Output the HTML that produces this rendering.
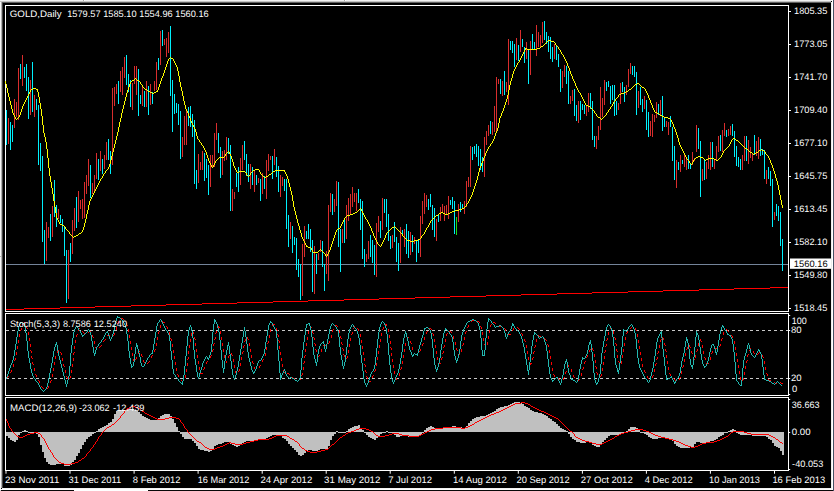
<!DOCTYPE html>
<html><head><meta charset="utf-8"><title>GOLD,Daily</title>
<style>html,body{margin:0;padding:0;background:#000;overflow:hidden}svg{display:block}text{text-rendering:geometricPrecision}</style>
</head><body>
<svg width="834" height="491" viewBox="0 0 834 491">
<rect width="834" height="491" fill="#000"/>
<g shape-rendering="crispEdges">
<rect x="0" y="2" width="1" height="488" fill="#f8f8f8"/>
<rect x="1" y="2" width="1" height="486" fill="#b0b0b0"/>
<rect x="2" y="3" width="1" height="485" fill="#444444"/>
<rect x="831" y="2" width="1" height="487" fill="#ececec"/>
<rect x="832" y="0" width="1" height="490" fill="#ffffff"/>
<rect x="833" y="0" width="1" height="491" fill="#465064"/>
<rect x="2" y="488" width="830" height="1" fill="#f2f2f2"/>
<rect x="0" y="489" width="833" height="1" fill="#ffffff"/>
<rect x="1" y="490" width="832" height="1" fill="#080808"/>
<rect x="0" y="490" width="1" height="1" fill="#d8d8d8"/>
<rect x="74" y="490" width="74" height="1" fill="#ffffff"/>
<rect x="0" y="0" width="832" height="1" fill="#f1f1f1"/>
<rect x="0" y="1" width="831" height="1" fill="#c2c2c2"/>
<rect x="2" y="2" width="829" height="1" fill="#606060"/>
<rect x="0" y="256" width="1" height="1" fill="#b4b4b4"/>
<rect x="83" y="0" width="1" height="1" fill="#a8a8a8"/>
<rect x="84" y="0" width="1" height="1" fill="#ffffff"/>
<rect x="344" y="0" width="1" height="1" fill="#a8a8a8"/>
<rect x="345" y="0" width="1" height="1" fill="#ffffff"/>
</g>
<g>
<rect x="5" y="5" width="1" height="307" fill="#fff"/>
<rect x="788" y="5" width="1" height="307" fill="#fff"/>
<rect x="5" y="5" width="784" height="1" fill="#fff"/>
<rect x="5" y="311" width="784" height="1" fill="#fff"/>
<rect x="5" y="313" width="1" height="83" fill="#fff"/>
<rect x="788" y="313" width="1" height="83" fill="#fff"/>
<rect x="5" y="313" width="784" height="1" fill="#fff"/>
<rect x="5" y="395" width="784" height="1" fill="#fff"/>
<rect x="5" y="397" width="1" height="74" fill="#fff"/>
<rect x="788" y="397" width="1" height="74" fill="#fff"/>
<rect x="5" y="397" width="784" height="1" fill="#fff"/>
<rect x="5" y="470" width="784" height="1" fill="#fff"/>
</g>
<g shape-rendering="crispEdges" fill="#ff0000">
<rect x="6" y="308.9" width="18" height="1.2"/>
<rect x="24" y="307.9" width="36" height="1.2"/>
<rect x="60" y="306.9" width="35" height="1.2"/>
<rect x="95" y="305.9" width="36" height="1.2"/>
<rect x="131" y="304.9" width="35" height="1.2"/>
<rect x="166" y="303.9" width="36" height="1.2"/>
<rect x="202" y="302.9" width="35" height="1.2"/>
<rect x="237" y="301.9" width="36" height="1.2"/>
<rect x="273" y="300.9" width="35" height="1.2"/>
<rect x="308" y="299.9" width="36" height="1.2"/>
<rect x="344" y="298.9" width="35" height="1.2"/>
<rect x="379" y="297.9" width="36" height="1.2"/>
<rect x="415" y="296.9" width="35" height="1.2"/>
<rect x="450" y="295.9" width="36" height="1.2"/>
<rect x="486" y="294.9" width="35" height="1.2"/>
<rect x="521" y="293.9" width="36" height="1.2"/>
<rect x="557" y="292.9" width="35" height="1.2"/>
<rect x="592" y="291.9" width="36" height="1.2"/>
<rect x="628" y="290.9" width="35" height="1.2"/>
<rect x="663" y="289.9" width="36" height="1.2"/>
<rect x="699" y="288.9" width="35" height="1.2"/>
<rect x="734" y="287.9" width="36" height="1.2"/>
<rect x="770" y="286.9" width="18" height="1.2"/>
</g>
<rect x="6" y="264" width="782" height="1" fill="#74849a" shape-rendering="crispEdges"/>
<g shape-rendering="crispEdges">
<rect x="6" y="110" width="1" height="35" fill="#00f0fc"/>
<rect x="8" y="118" width="1" height="26" fill="#d92d2d"/>
<rect x="10" y="122" width="1" height="28" fill="#00f0fc"/>
<rect x="12" y="125" width="1" height="17" fill="#00f0fc"/>
<rect x="14" y="99" width="1" height="29" fill="#d92d2d"/>
<rect x="16" y="102" width="1" height="15" fill="#d92d2d"/>
<rect x="18" y="68" width="1" height="52" fill="#d92d2d"/>
<rect x="20" y="64" width="1" height="15" fill="#00f0fc"/>
<rect x="22" y="55" width="1" height="31" fill="#d92d2d"/>
<rect x="24" y="67" width="1" height="11" fill="#00f0fc"/>
<rect x="26" y="64" width="1" height="27" fill="#00f0fc"/>
<rect x="28" y="77" width="1" height="42" fill="#00f0fc"/>
<rect x="30" y="80" width="1" height="35" fill="#d92d2d"/>
<rect x="32" y="62" width="1" height="50" fill="#00f0fc"/>
<rect x="34" y="95" width="1" height="22" fill="#d92d2d"/>
<rect x="36" y="99" width="1" height="11" fill="#00f0fc"/>
<rect x="38" y="105" width="1" height="60" fill="#00f0fc"/>
<rect x="40" y="143" width="1" height="28" fill="#00f0fc"/>
<rect x="42" y="156" width="1" height="86" fill="#00f0fc"/>
<rect x="44" y="230" width="1" height="34" fill="#00f0fc"/>
<rect x="46" y="222" width="1" height="39" fill="#d92d2d"/>
<rect x="48" y="227" width="1" height="11" fill="#d92d2d"/>
<rect x="50" y="214" width="1" height="27" fill="#00f0fc"/>
<rect x="52" y="206" width="1" height="31" fill="#d92d2d"/>
<rect x="54" y="180" width="1" height="37" fill="#00f0fc"/>
<rect x="56" y="205" width="1" height="22" fill="#00f0fc"/>
<rect x="58" y="209" width="1" height="10" fill="#d92d2d"/>
<rect x="60" y="215" width="1" height="8" fill="#00f0fc"/>
<rect x="62" y="219" width="1" height="13" fill="#00f0fc"/>
<rect x="64" y="226" width="1" height="30" fill="#00f0fc"/>
<rect x="66" y="250" width="1" height="53" fill="#00f0fc"/>
<rect x="68" y="250" width="1" height="49" fill="#d92d2d"/>
<rect x="70" y="243" width="1" height="19" fill="#00f0fc"/>
<rect x="72" y="220" width="1" height="34" fill="#d92d2d"/>
<rect x="74" y="208" width="1" height="23" fill="#d92d2d"/>
<rect x="76" y="197" width="1" height="31" fill="#00f0fc"/>
<rect x="78" y="191" width="1" height="31" fill="#d92d2d"/>
<rect x="80" y="200" width="1" height="9" fill="#d92d2d"/>
<rect x="82" y="199" width="1" height="20" fill="#d92d2d"/>
<rect x="84" y="182" width="1" height="36" fill="#d92d2d"/>
<rect x="86" y="175" width="1" height="19" fill="#d92d2d"/>
<rect x="88" y="159" width="1" height="27" fill="#d92d2d"/>
<rect x="90" y="165" width="1" height="33" fill="#00f0fc"/>
<rect x="92" y="183" width="1" height="11" fill="#d92d2d"/>
<rect x="94" y="175" width="1" height="17" fill="#d92d2d"/>
<rect x="96" y="153" width="1" height="26" fill="#d92d2d"/>
<rect x="98" y="159" width="1" height="21" fill="#00f0fc"/>
<rect x="100" y="151" width="1" height="20" fill="#d92d2d"/>
<rect x="102" y="159" width="1" height="15" fill="#00f0fc"/>
<rect x="104" y="155" width="1" height="14" fill="#d92d2d"/>
<rect x="106" y="142" width="1" height="18" fill="#d92d2d"/>
<rect x="108" y="139" width="1" height="21" fill="#00f0fc"/>
<rect x="110" y="151" width="1" height="23" fill="#00f0fc"/>
<rect x="112" y="88" width="1" height="77" fill="#d92d2d"/>
<rect x="114" y="87" width="1" height="19" fill="#d92d2d"/>
<rect x="116" y="84" width="1" height="10" fill="#d92d2d"/>
<rect x="118" y="81" width="1" height="23" fill="#00f0fc"/>
<rect x="120" y="71" width="1" height="21" fill="#d92d2d"/>
<rect x="122" y="67" width="1" height="28" fill="#d92d2d"/>
<rect x="124" y="57" width="1" height="21" fill="#d92d2d"/>
<rect x="126" y="55" width="1" height="30" fill="#00f0fc"/>
<rect x="128" y="74" width="1" height="18" fill="#00f0fc"/>
<rect x="130" y="80" width="1" height="27" fill="#00f0fc"/>
<rect x="132" y="83" width="1" height="27" fill="#d92d2d"/>
<rect x="134" y="66" width="1" height="18" fill="#d92d2d"/>
<rect x="136" y="66" width="1" height="29" fill="#d92d2d"/>
<rect x="138" y="69" width="1" height="47" fill="#00f0fc"/>
<rect x="140" y="95" width="1" height="9" fill="#00f0fc"/>
<rect x="142" y="87" width="1" height="19" fill="#d92d2d"/>
<rect x="144" y="91" width="1" height="16" fill="#00f0fc"/>
<rect x="146" y="81" width="1" height="26" fill="#d92d2d"/>
<rect x="148" y="86" width="1" height="29" fill="#00f0fc"/>
<rect x="150" y="84" width="1" height="21" fill="#d92d2d"/>
<rect x="152" y="92" width="1" height="12" fill="#00f0fc"/>
<rect x="154" y="81" width="1" height="10" fill="#d92d2d"/>
<rect x="156" y="62" width="1" height="28" fill="#d92d2d"/>
<rect x="158" y="58" width="1" height="12" fill="#00f0fc"/>
<rect x="160" y="31" width="1" height="34" fill="#d92d2d"/>
<rect x="162" y="30" width="1" height="16" fill="#00f0fc"/>
<rect x="164" y="39" width="1" height="6" fill="#d92d2d"/>
<rect x="166" y="38" width="1" height="19" fill="#d92d2d"/>
<rect x="168" y="32" width="1" height="21" fill="#d92d2d"/>
<rect x="170" y="26" width="1" height="70" fill="#00f0fc"/>
<rect x="172" y="80" width="1" height="52" fill="#00f0fc"/>
<rect x="174" y="94" width="1" height="20" fill="#00f0fc"/>
<rect x="176" y="103" width="1" height="10" fill="#00f0fc"/>
<rect x="178" y="104" width="1" height="21" fill="#00f0fc"/>
<rect x="180" y="111" width="1" height="48" fill="#00f0fc"/>
<rect x="182" y="137" width="1" height="20" fill="#d92d2d"/>
<rect x="184" y="116" width="1" height="29" fill="#d92d2d"/>
<rect x="186" y="110" width="1" height="35" fill="#d92d2d"/>
<rect x="188" y="107" width="1" height="19" fill="#00f0fc"/>
<rect x="190" y="106" width="1" height="21" fill="#00f0fc"/>
<rect x="192" y="114" width="1" height="23" fill="#00f0fc"/>
<rect x="194" y="120" width="1" height="64" fill="#00f0fc"/>
<rect x="196" y="170" width="1" height="19" fill="#00f0fc"/>
<rect x="198" y="154" width="1" height="29" fill="#d92d2d"/>
<rect x="200" y="162" width="1" height="8" fill="#d92d2d"/>
<rect x="202" y="151" width="1" height="19" fill="#d92d2d"/>
<rect x="204" y="153" width="1" height="28" fill="#00f0fc"/>
<rect x="206" y="159" width="1" height="19" fill="#00f0fc"/>
<rect x="208" y="165" width="1" height="30" fill="#00f0fc"/>
<rect x="210" y="155" width="1" height="32" fill="#d92d2d"/>
<rect x="212" y="155" width="1" height="12" fill="#d92d2d"/>
<rect x="214" y="133" width="1" height="34" fill="#d92d2d"/>
<rect x="216" y="123" width="1" height="17" fill="#d92d2d"/>
<rect x="218" y="133" width="1" height="20" fill="#00f0fc"/>
<rect x="220" y="147" width="1" height="31" fill="#00f0fc"/>
<rect x="222" y="151" width="1" height="24" fill="#d92d2d"/>
<rect x="224" y="150" width="1" height="11" fill="#d92d2d"/>
<rect x="226" y="137" width="1" height="23" fill="#d92d2d"/>
<rect x="228" y="138" width="1" height="16" fill="#00f0fc"/>
<rect x="230" y="145" width="1" height="66" fill="#00f0fc"/>
<rect x="232" y="189" width="1" height="22" fill="#d92d2d"/>
<rect x="234" y="192" width="1" height="7" fill="#d92d2d"/>
<rect x="236" y="173" width="1" height="14" fill="#00f0fc"/>
<rect x="238" y="167" width="1" height="25" fill="#00f0fc"/>
<rect x="240" y="158" width="1" height="27" fill="#d92d2d"/>
<rect x="242" y="145" width="1" height="25" fill="#d92d2d"/>
<rect x="244" y="141" width="1" height="19" fill="#00f0fc"/>
<rect x="246" y="154" width="1" height="22" fill="#00f0fc"/>
<rect x="248" y="164" width="1" height="18" fill="#00f0fc"/>
<rect x="250" y="164" width="1" height="25" fill="#d92d2d"/>
<rect x="252" y="167" width="1" height="18" fill="#00f0fc"/>
<rect x="254" y="170" width="1" height="22" fill="#d92d2d"/>
<rect x="256" y="175" width="1" height="10" fill="#00f0fc"/>
<rect x="258" y="178" width="1" height="5" fill="#d92d2d"/>
<rect x="260" y="179" width="1" height="22" fill="#00f0fc"/>
<rect x="262" y="173" width="1" height="21" fill="#d92d2d"/>
<rect x="264" y="176" width="1" height="13" fill="#00f0fc"/>
<rect x="266" y="160" width="1" height="39" fill="#d92d2d"/>
<rect x="268" y="154" width="1" height="17" fill="#d92d2d"/>
<rect x="270" y="156" width="1" height="4" fill="#d92d2d"/>
<rect x="272" y="156" width="1" height="23" fill="#00f0fc"/>
<rect x="274" y="149" width="1" height="16" fill="#d92d2d"/>
<rect x="276" y="157" width="1" height="20" fill="#00f0fc"/>
<rect x="278" y="166" width="1" height="26" fill="#00f0fc"/>
<rect x="280" y="175" width="1" height="22" fill="#d92d2d"/>
<rect x="282" y="177" width="1" height="9" fill="#d92d2d"/>
<rect x="284" y="179" width="1" height="12" fill="#00f0fc"/>
<rect x="286" y="179" width="1" height="50" fill="#00f0fc"/>
<rect x="288" y="215" width="1" height="32" fill="#00f0fc"/>
<rect x="290" y="222" width="1" height="17" fill="#d92d2d"/>
<rect x="292" y="226" width="1" height="27" fill="#00f0fc"/>
<rect x="294" y="237" width="1" height="8" fill="#00f0fc"/>
<rect x="296" y="238" width="1" height="32" fill="#00f0fc"/>
<rect x="298" y="259" width="1" height="18" fill="#00f0fc"/>
<rect x="300" y="264" width="1" height="36" fill="#00f0fc"/>
<rect x="302" y="244" width="1" height="52" fill="#d92d2d"/>
<rect x="304" y="226" width="1" height="31" fill="#d92d2d"/>
<rect x="306" y="231" width="1" height="8" fill="#00f0fc"/>
<rect x="308" y="224" width="1" height="15" fill="#00f0fc"/>
<rect x="310" y="229" width="1" height="23" fill="#00f0fc"/>
<rect x="312" y="240" width="1" height="52" fill="#00f0fc"/>
<rect x="314" y="246" width="1" height="48" fill="#d92d2d"/>
<rect x="316" y="254" width="1" height="20" fill="#00f0fc"/>
<rect x="318" y="253" width="1" height="7" fill="#d92d2d"/>
<rect x="320" y="240" width="1" height="12" fill="#d92d2d"/>
<rect x="322" y="241" width="1" height="26" fill="#00f0fc"/>
<rect x="324" y="264" width="1" height="27" fill="#00f0fc"/>
<rect x="326" y="251" width="1" height="23" fill="#d92d2d"/>
<rect x="328" y="205" width="1" height="76" fill="#d92d2d"/>
<rect x="330" y="193" width="1" height="19" fill="#d92d2d"/>
<rect x="332" y="194" width="1" height="21" fill="#00f0fc"/>
<rect x="334" y="199" width="1" height="13" fill="#d92d2d"/>
<rect x="336" y="181" width="1" height="25" fill="#d92d2d"/>
<rect x="338" y="182" width="1" height="65" fill="#00f0fc"/>
<rect x="340" y="229" width="1" height="43" fill="#00f0fc"/>
<rect x="342" y="229" width="1" height="14" fill="#d92d2d"/>
<rect x="344" y="219" width="1" height="24" fill="#00f0fc"/>
<rect x="346" y="205" width="1" height="34" fill="#d92d2d"/>
<rect x="348" y="198" width="1" height="23" fill="#d92d2d"/>
<rect x="350" y="194" width="1" height="20" fill="#d92d2d"/>
<rect x="352" y="187" width="1" height="20" fill="#d92d2d"/>
<rect x="354" y="193" width="1" height="9" fill="#d92d2d"/>
<rect x="356" y="193" width="1" height="18" fill="#d92d2d"/>
<rect x="358" y="189" width="1" height="14" fill="#00f0fc"/>
<rect x="360" y="199" width="1" height="31" fill="#00f0fc"/>
<rect x="362" y="201" width="1" height="58" fill="#00f0fc"/>
<rect x="364" y="249" width="1" height="18" fill="#00f0fc"/>
<rect x="366" y="254" width="1" height="8" fill="#d92d2d"/>
<rect x="368" y="241" width="1" height="18" fill="#d92d2d"/>
<rect x="370" y="235" width="1" height="22" fill="#00f0fc"/>
<rect x="372" y="240" width="1" height="23" fill="#00f0fc"/>
<rect x="374" y="245" width="1" height="30" fill="#00f0fc"/>
<rect x="376" y="223" width="1" height="54" fill="#d92d2d"/>
<rect x="378" y="216" width="1" height="16" fill="#d92d2d"/>
<rect x="380" y="221" width="1" height="17" fill="#00f0fc"/>
<rect x="382" y="198" width="1" height="32" fill="#d92d2d"/>
<rect x="384" y="199" width="1" height="14" fill="#00f0fc"/>
<rect x="386" y="199" width="1" height="28" fill="#00f0fc"/>
<rect x="388" y="214" width="1" height="27" fill="#00f0fc"/>
<rect x="390" y="236" width="1" height="13" fill="#00f0fc"/>
<rect x="392" y="235" width="1" height="13" fill="#d92d2d"/>
<rect x="394" y="222" width="1" height="20" fill="#00f0fc"/>
<rect x="396" y="237" width="1" height="25" fill="#00f0fc"/>
<rect x="398" y="243" width="1" height="28" fill="#00f0fc"/>
<rect x="400" y="227" width="1" height="36" fill="#d92d2d"/>
<rect x="402" y="230" width="1" height="5" fill="#00f0fc"/>
<rect x="404" y="229" width="1" height="18" fill="#d92d2d"/>
<rect x="406" y="224" width="1" height="30" fill="#00f0fc"/>
<rect x="408" y="231" width="1" height="27" fill="#00f0fc"/>
<rect x="410" y="232" width="1" height="23" fill="#d92d2d"/>
<rect x="412" y="235" width="1" height="17" fill="#00f0fc"/>
<rect x="414" y="237" width="1" height="7" fill="#d92d2d"/>
<rect x="416" y="241" width="1" height="21" fill="#00f0fc"/>
<rect x="418" y="239" width="1" height="14" fill="#00f0fc"/>
<rect x="420" y="216" width="1" height="41" fill="#d92d2d"/>
<rect x="422" y="201" width="1" height="23" fill="#d92d2d"/>
<rect x="424" y="193" width="1" height="21" fill="#d92d2d"/>
<rect x="426" y="195" width="1" height="12" fill="#d92d2d"/>
<rect x="428" y="199" width="1" height="11" fill="#00f0fc"/>
<rect x="430" y="194" width="1" height="13" fill="#00f0fc"/>
<rect x="432" y="205" width="1" height="25" fill="#00f0fc"/>
<rect x="434" y="208" width="1" height="29" fill="#00f0fc"/>
<rect x="436" y="219" width="1" height="22" fill="#d92d2d"/>
<rect x="438" y="215" width="1" height="7" fill="#00f0fc"/>
<rect x="440" y="207" width="1" height="14" fill="#d92d2d"/>
<rect x="442" y="204" width="1" height="8" fill="#d92d2d"/>
<rect x="444" y="206" width="1" height="15" fill="#d92d2d"/>
<rect x="446" y="205" width="1" height="9" fill="#d92d2d"/>
<rect x="448" y="196" width="1" height="23" fill="#d92d2d"/>
<rect x="450" y="200" width="1" height="5" fill="#00f0fc"/>
<rect x="452" y="197" width="1" height="12" fill="#00f0fc"/>
<rect x="454" y="201" width="1" height="33" fill="#00f0fc"/>
<rect x="456" y="217" width="1" height="18" fill="#18e018"/>
<rect x="458" y="204" width="1" height="18" fill="#d92d2d"/>
<rect x="460" y="202" width="1" height="10" fill="#00f0fc"/>
<rect x="462" y="204" width="1" height="5" fill="#00f0fc"/>
<rect x="464" y="201" width="1" height="13" fill="#d92d2d"/>
<rect x="466" y="181" width="1" height="26" fill="#d92d2d"/>
<rect x="468" y="177" width="1" height="10" fill="#d92d2d"/>
<rect x="470" y="146" width="1" height="41" fill="#d92d2d"/>
<rect x="472" y="147" width="1" height="13" fill="#00f0fc"/>
<rect x="474" y="146" width="1" height="8" fill="#00f0fc"/>
<rect x="476" y="144" width="1" height="13" fill="#00f0fc"/>
<rect x="478" y="146" width="1" height="20" fill="#00f0fc"/>
<rect x="480" y="149" width="1" height="21" fill="#00f0fc"/>
<rect x="482" y="157" width="1" height="15" fill="#00f0fc"/>
<rect x="484" y="137" width="1" height="40" fill="#d92d2d"/>
<rect x="486" y="131" width="1" height="14" fill="#d92d2d"/>
<rect x="488" y="125" width="1" height="11" fill="#d92d2d"/>
<rect x="490" y="121" width="1" height="13" fill="#00f0fc"/>
<rect x="492" y="122" width="1" height="13" fill="#d92d2d"/>
<rect x="494" y="106" width="1" height="26" fill="#d92d2d"/>
<rect x="496" y="77" width="1" height="55" fill="#d92d2d"/>
<rect x="498" y="79" width="1" height="5" fill="#d92d2d"/>
<rect x="500" y="79" width="1" height="15" fill="#00f0fc"/>
<rect x="502" y="81" width="1" height="15" fill="#d92d2d"/>
<rect x="504" y="71" width="1" height="24" fill="#00f0fc"/>
<rect x="506" y="82" width="1" height="10" fill="#d92d2d"/>
<rect x="508" y="39" width="1" height="66" fill="#d92d2d"/>
<rect x="510" y="41" width="1" height="9" fill="#00f0fc"/>
<rect x="512" y="41" width="1" height="12" fill="#00f0fc"/>
<rect x="514" y="44" width="1" height="23" fill="#00f0fc"/>
<rect x="516" y="38" width="1" height="22" fill="#d92d2d"/>
<rect x="518" y="45" width="1" height="16" fill="#00f0fc"/>
<rect x="520" y="30" width="1" height="22" fill="#d92d2d"/>
<rect x="522" y="39" width="1" height="8" fill="#00f0fc"/>
<rect x="524" y="47" width="1" height="16" fill="#00f0fc"/>
<rect x="526" y="42" width="1" height="17" fill="#d92d2d"/>
<rect x="528" y="49" width="1" height="35" fill="#00f0fc"/>
<rect x="530" y="41" width="1" height="34" fill="#d92d2d"/>
<rect x="532" y="34" width="1" height="15" fill="#00f0fc"/>
<rect x="534" y="42" width="1" height="8" fill="#00f0fc"/>
<rect x="536" y="25" width="1" height="31" fill="#d92d2d"/>
<rect x="538" y="32" width="1" height="15" fill="#d92d2d"/>
<rect x="540" y="35" width="1" height="12" fill="#d92d2d"/>
<rect x="542" y="22" width="1" height="21" fill="#d92d2d"/>
<rect x="544" y="21" width="1" height="19" fill="#00f0fc"/>
<rect x="546" y="32" width="1" height="12" fill="#00f0fc"/>
<rect x="548" y="36" width="1" height="16" fill="#00f0fc"/>
<rect x="550" y="37" width="1" height="22" fill="#00f0fc"/>
<rect x="552" y="47" width="1" height="15" fill="#00f0fc"/>
<rect x="554" y="44" width="1" height="15" fill="#d92d2d"/>
<rect x="556" y="45" width="1" height="15" fill="#00f0fc"/>
<rect x="558" y="54" width="1" height="13" fill="#00f0fc"/>
<rect x="560" y="69" width="1" height="23" fill="#00f0fc"/>
<rect x="562" y="71" width="1" height="17" fill="#d92d2d"/>
<rect x="564" y="65" width="1" height="12" fill="#d92d2d"/>
<rect x="566" y="66" width="1" height="18" fill="#00f0fc"/>
<rect x="568" y="71" width="1" height="33" fill="#00f0fc"/>
<rect x="570" y="96" width="1" height="8" fill="#d92d2d"/>
<rect x="572" y="90" width="1" height="11" fill="#d92d2d"/>
<rect x="574" y="89" width="1" height="27" fill="#00f0fc"/>
<rect x="576" y="105" width="1" height="16" fill="#00f0fc"/>
<rect x="578" y="101" width="1" height="22" fill="#d92d2d"/>
<rect x="580" y="101" width="1" height="19" fill="#00f0fc"/>
<rect x="582" y="104" width="1" height="6" fill="#00f0fc"/>
<rect x="584" y="105" width="1" height="9" fill="#00f0fc"/>
<rect x="586" y="106" width="1" height="10" fill="#d92d2d"/>
<rect x="588" y="93" width="1" height="19" fill="#d92d2d"/>
<rect x="590" y="93" width="1" height="16" fill="#00f0fc"/>
<rect x="592" y="101" width="1" height="39" fill="#00f0fc"/>
<rect x="594" y="136" width="1" height="11" fill="#00f0fc"/>
<rect x="596" y="136" width="1" height="13" fill="#d92d2d"/>
<rect x="598" y="126" width="1" height="14" fill="#d92d2d"/>
<rect x="600" y="87" width="1" height="43" fill="#d92d2d"/>
<rect x="602" y="98" width="1" height="19" fill="#d92d2d"/>
<rect x="604" y="80" width="1" height="25" fill="#d92d2d"/>
<rect x="606" y="82" width="1" height="9" fill="#00f0fc"/>
<rect x="608" y="81" width="1" height="6" fill="#00f0fc"/>
<rect x="610" y="86" width="1" height="18" fill="#00f0fc"/>
<rect x="612" y="85" width="1" height="15" fill="#00f0fc"/>
<rect x="614" y="85" width="1" height="31" fill="#00f0fc"/>
<rect x="616" y="101" width="1" height="14" fill="#00f0fc"/>
<rect x="618" y="103" width="1" height="7" fill="#d92d2d"/>
<rect x="620" y="83" width="1" height="21" fill="#d92d2d"/>
<rect x="622" y="82" width="1" height="10" fill="#00f0fc"/>
<rect x="624" y="87" width="1" height="15" fill="#00f0fc"/>
<rect x="626" y="85" width="1" height="10" fill="#d92d2d"/>
<rect x="628" y="69" width="1" height="18" fill="#d92d2d"/>
<rect x="630" y="63" width="1" height="11" fill="#d92d2d"/>
<rect x="632" y="66" width="1" height="9" fill="#00f0fc"/>
<rect x="634" y="66" width="1" height="11" fill="#00f0fc"/>
<rect x="636" y="72" width="1" height="43" fill="#00f0fc"/>
<rect x="638" y="91" width="1" height="17" fill="#d92d2d"/>
<rect x="640" y="87" width="1" height="18" fill="#00f0fc"/>
<rect x="642" y="99" width="1" height="13" fill="#00f0fc"/>
<rect x="644" y="96" width="1" height="13" fill="#d92d2d"/>
<rect x="646" y="100" width="1" height="30" fill="#00f0fc"/>
<rect x="648" y="112" width="1" height="25" fill="#00f0fc"/>
<rect x="650" y="121" width="1" height="15" fill="#d92d2d"/>
<rect x="652" y="114" width="1" height="23" fill="#d92d2d"/>
<rect x="654" y="115" width="1" height="7" fill="#d92d2d"/>
<rect x="656" y="102" width="1" height="16" fill="#d92d2d"/>
<rect x="658" y="104" width="1" height="11" fill="#00f0fc"/>
<rect x="660" y="100" width="1" height="16" fill="#d92d2d"/>
<rect x="662" y="96" width="1" height="35" fill="#00f0fc"/>
<rect x="664" y="118" width="1" height="9" fill="#00f0fc"/>
<rect x="666" y="121" width="1" height="6" fill="#d92d2d"/>
<rect x="668" y="122" width="1" height="13" fill="#d92d2d"/>
<rect x="670" y="116" width="1" height="11" fill="#00f0fc"/>
<rect x="672" y="127" width="1" height="34" fill="#00f0fc"/>
<rect x="674" y="146" width="1" height="34" fill="#00f0fc"/>
<rect x="676" y="160" width="1" height="28" fill="#d92d2d"/>
<rect x="678" y="162" width="1" height="8" fill="#00f0fc"/>
<rect x="680" y="155" width="1" height="17" fill="#d92d2d"/>
<rect x="682" y="160" width="1" height="4" fill="#00f0fc"/>
<rect x="684" y="153" width="1" height="14" fill="#d92d2d"/>
<rect x="686" y="157" width="1" height="13" fill="#d92d2d"/>
<rect x="688" y="155" width="1" height="14" fill="#00f0fc"/>
<rect x="690" y="164" width="1" height="5" fill="#00f0fc"/>
<rect x="692" y="152" width="1" height="13" fill="#d92d2d"/>
<rect x="694" y="158" width="1" height="3" fill="#d92d2d"/>
<rect x="696" y="125" width="1" height="27" fill="#d92d2d"/>
<rect x="698" y="128" width="1" height="21" fill="#00f0fc"/>
<rect x="700" y="141" width="1" height="56" fill="#00f0fc"/>
<rect x="702" y="169" width="1" height="12" fill="#d92d2d"/>
<rect x="704" y="160" width="1" height="20" fill="#00f0fc"/>
<rect x="706" y="162" width="1" height="17" fill="#d92d2d"/>
<rect x="708" y="155" width="1" height="14" fill="#d92d2d"/>
<rect x="710" y="142" width="1" height="28" fill="#d92d2d"/>
<rect x="712" y="142" width="1" height="25" fill="#00f0fc"/>
<rect x="714" y="160" width="1" height="9" fill="#d92d2d"/>
<rect x="716" y="146" width="1" height="14" fill="#d92d2d"/>
<rect x="718" y="136" width="1" height="16" fill="#d92d2d"/>
<rect x="720" y="135" width="1" height="16" fill="#00f0fc"/>
<rect x="722" y="130" width="1" height="22" fill="#d92d2d"/>
<rect x="724" y="123" width="1" height="13" fill="#d92d2d"/>
<rect x="726" y="130" width="1" height="7" fill="#00f0fc"/>
<rect x="728" y="129" width="1" height="7" fill="#d92d2d"/>
<rect x="730" y="126" width="1" height="9" fill="#d92d2d"/>
<rect x="732" y="124" width="1" height="12" fill="#00f0fc"/>
<rect x="734" y="131" width="1" height="26" fill="#00f0fc"/>
<rect x="736" y="146" width="1" height="20" fill="#00f0fc"/>
<rect x="738" y="157" width="1" height="10" fill="#00f0fc"/>
<rect x="740" y="159" width="1" height="11" fill="#00f0fc"/>
<rect x="742" y="155" width="1" height="15" fill="#d92d2d"/>
<rect x="744" y="136" width="1" height="25" fill="#d92d2d"/>
<rect x="746" y="136" width="1" height="25" fill="#00f0fc"/>
<rect x="748" y="140" width="1" height="24" fill="#d92d2d"/>
<rect x="750" y="147" width="1" height="11" fill="#d92d2d"/>
<rect x="752" y="153" width="1" height="8" fill="#d92d2d"/>
<rect x="754" y="135" width="1" height="20" fill="#00f0fc"/>
<rect x="756" y="141" width="1" height="15" fill="#d92d2d"/>
<rect x="758" y="137" width="1" height="22" fill="#d92d2d"/>
<rect x="760" y="139" width="1" height="17" fill="#00f0fc"/>
<rect x="762" y="149" width="1" height="6" fill="#00f0fc"/>
<rect x="764" y="150" width="1" height="29" fill="#00f0fc"/>
<rect x="766" y="170" width="1" height="14" fill="#d92d2d"/>
<rect x="768" y="167" width="1" height="12" fill="#00f0fc"/>
<rect x="770" y="171" width="1" height="15" fill="#00f0fc"/>
<rect x="772" y="179" width="1" height="48" fill="#00f0fc"/>
<rect x="774" y="212" width="1" height="8" fill="#d92d2d"/>
<rect x="776" y="204" width="1" height="12" fill="#00f0fc"/>
<rect x="778" y="206" width="1" height="15" fill="#00f0fc"/>
<rect x="780" y="212" width="1" height="34" fill="#00f0fc"/>
<rect x="782" y="239" width="1" height="32" fill="#00f0fc"/>
</g>
<path d="M548 40h3v1h-3zM547 41h1v1h-1zM551 41h3v1h-3zM546 42h1v1h-1zM554 42h1v1h-1zM545 43h1v1h-1zM555 43h1v1h-1zM544 44h1v1h-1zM555 44h1v1h-1zM543 45h1v1h-1zM556 45h1v1h-1zM541 46h2v1h-2zM557 46h1v1h-1zM540 47h1v1h-1zM558 47h1v1h-1zM525 48h2v1h-2zM537 48h3v1h-3zM558 48h1v1h-1zM525 49h1v1h-1zM527 49h10v1h-10zM559 49h1v1h-1zM524 50h1v1h-1zM560 50h1v1h-1zM524 51h1v1h-1zM560 51h1v1h-1zM523 52h1v1h-1zM561 52h1v1h-1zM523 53h1v1h-1zM561 53h1v1h-1zM522 54h1v1h-1zM562 54h1v1h-1zM522 55h1v1h-1zM563 55h1v1h-1zM521 56h1v1h-1zM563 56h1v1h-1zM170 57h1v1h-1zM521 57h1v1h-1zM564 57h1v1h-1zM169 58h1v1h-1zM171 58h2v1h-2zM520 58h1v1h-1zM564 58h1v1h-1zM168 59h1v1h-1zM173 59h1v1h-1zM520 59h1v1h-1zM565 59h1v1h-1zM168 60h1v1h-1zM173 60h1v1h-1zM519 60h1v1h-1zM565 60h1v1h-1zM167 61h1v1h-1zM174 61h1v1h-1zM519 61h1v1h-1zM566 61h1v1h-1zM167 62h1v1h-1zM174 62h1v1h-1zM518 62h1v1h-1zM566 62h1v1h-1zM167 63h1v1h-1zM175 63h1v1h-1zM517 63h1v1h-1zM567 63h1v1h-1zM166 64h1v1h-1zM175 64h1v1h-1zM517 64h1v1h-1zM567 64h1v1h-1zM166 65h1v1h-1zM176 65h1v1h-1zM516 65h1v1h-1zM567 65h1v1h-1zM166 66h1v1h-1zM176 66h1v1h-1zM516 66h1v1h-1zM568 66h1v1h-1zM165 67h1v1h-1zM177 67h1v1h-1zM515 67h1v1h-1zM568 67h1v1h-1zM165 68h1v1h-1zM177 68h1v1h-1zM515 68h1v1h-1zM569 68h1v1h-1zM165 69h1v1h-1zM177 69h1v1h-1zM514 69h1v1h-1zM569 69h1v1h-1zM164 70h1v1h-1zM177 70h1v1h-1zM514 70h1v1h-1zM569 70h1v1h-1zM164 71h1v1h-1zM178 71h1v1h-1zM513 71h1v1h-1zM570 71h1v1h-1zM164 72h1v1h-1zM178 72h1v1h-1zM513 72h1v1h-1zM570 72h1v1h-1zM163 73h1v1h-1zM178 73h1v1h-1zM513 73h1v1h-1zM570 73h1v1h-1zM163 74h1v1h-1zM178 74h1v1h-1zM512 74h1v1h-1zM571 74h1v1h-1zM163 75h1v1h-1zM178 75h1v1h-1zM512 75h1v1h-1zM571 75h1v1h-1zM162 76h1v1h-1zM179 76h1v1h-1zM512 76h1v1h-1zM572 76h1v1h-1zM162 77h1v1h-1zM179 77h1v1h-1zM512 77h1v1h-1zM572 77h1v1h-1zM135 78h1v1h-1zM161 78h1v1h-1zM179 78h1v1h-1zM511 78h1v1h-1zM572 78h1v1h-1zM134 79h1v1h-1zM136 79h1v1h-1zM161 79h1v1h-1zM179 79h1v1h-1zM511 79h1v1h-1zM573 79h1v1h-1zM132 80h2v1h-2zM137 80h2v1h-2zM161 80h1v1h-1zM179 80h1v1h-1zM511 80h1v1h-1zM573 80h1v1h-1zM5 81h1v1h-1zM131 81h1v1h-1zM139 81h1v1h-1zM160 81h1v1h-1zM179 81h1v1h-1zM510 81h1v1h-1zM574 81h1v1h-1zM5 82h1v1h-1zM130 82h1v1h-1zM140 82h1v1h-1zM160 82h1v1h-1zM180 82h1v1h-1zM510 82h1v1h-1zM574 82h1v1h-1zM5 83h1v1h-1zM130 83h1v1h-1zM140 83h1v1h-1zM160 83h1v1h-1zM180 83h1v1h-1zM510 83h1v1h-1zM575 83h1v1h-1zM637 83h2v1h-2zM6 84h1v1h-1zM129 84h1v1h-1zM141 84h1v1h-1zM159 84h1v1h-1zM180 84h1v1h-1zM510 84h1v1h-1zM575 84h1v1h-1zM635 84h2v1h-2zM639 84h1v1h-1zM6 85h1v1h-1zM129 85h1v1h-1zM142 85h1v1h-1zM159 85h1v1h-1zM180 85h1v1h-1zM509 85h1v1h-1zM575 85h1v1h-1zM634 85h1v1h-1zM640 85h1v1h-1zM6 86h1v1h-1zM129 86h1v1h-1zM142 86h1v1h-1zM159 86h1v1h-1zM180 86h1v1h-1zM509 86h1v1h-1zM576 86h1v1h-1zM633 86h1v1h-1zM641 86h1v1h-1zM6 87h1v1h-1zM128 87h1v1h-1zM143 87h1v1h-1zM158 87h1v1h-1zM181 87h1v1h-1zM509 87h1v1h-1zM576 87h1v1h-1zM632 87h1v1h-1zM642 87h2v1h-2zM7 88h1v1h-1zM33 88h3v1h-3zM128 88h1v1h-1zM144 88h1v1h-1zM158 88h1v1h-1zM181 88h1v1h-1zM509 88h1v1h-1zM577 88h1v1h-1zM631 88h1v1h-1zM644 88h1v1h-1zM7 89h1v1h-1zM31 89h2v1h-2zM36 89h2v1h-2zM128 89h1v1h-1zM145 89h2v1h-2zM158 89h1v1h-1zM181 89h1v1h-1zM509 89h1v1h-1zM577 89h1v1h-1zM629 89h2v1h-2zM645 89h1v1h-1zM7 90h1v1h-1zM30 90h1v1h-1zM37 90h1v1h-1zM127 90h1v1h-1zM147 90h1v1h-1zM157 90h1v1h-1zM181 90h1v1h-1zM508 90h1v1h-1zM578 90h1v1h-1zM628 90h1v1h-1zM645 90h1v1h-1zM7 91h1v1h-1zM30 91h1v1h-1zM37 91h1v1h-1zM127 91h1v1h-1zM148 91h2v1h-2zM156 91h2v1h-2zM182 91h1v1h-1zM508 91h1v1h-1zM578 91h1v1h-1zM626 91h2v1h-2zM646 91h1v1h-1zM7 92h1v1h-1zM29 92h1v1h-1zM38 92h1v1h-1zM127 92h1v1h-1zM150 92h2v1h-2zM154 92h2v1h-2zM182 92h1v1h-1zM508 92h1v1h-1zM579 92h1v1h-1zM624 92h2v1h-2zM646 92h1v1h-1zM8 93h1v1h-1zM29 93h1v1h-1zM38 93h1v1h-1zM126 93h1v1h-1zM152 93h2v1h-2zM182 93h1v1h-1zM508 93h1v1h-1zM580 93h1v1h-1zM621 93h3v1h-3zM647 93h1v1h-1zM8 94h1v1h-1zM28 94h1v1h-1zM38 94h1v1h-1zM126 94h1v1h-1zM182 94h1v1h-1zM508 94h1v1h-1zM580 94h1v1h-1zM619 94h2v1h-2zM647 94h1v1h-1zM8 95h1v1h-1zM28 95h1v1h-1zM38 95h1v1h-1zM126 95h1v1h-1zM182 95h1v1h-1zM507 95h1v1h-1zM581 95h1v1h-1zM618 95h1v1h-1zM648 95h1v1h-1zM8 96h1v1h-1zM27 96h1v1h-1zM38 96h1v1h-1zM126 96h1v1h-1zM183 96h1v1h-1zM507 96h1v1h-1zM581 96h1v1h-1zM618 96h1v1h-1zM648 96h1v1h-1zM9 97h1v1h-1zM27 97h1v1h-1zM39 97h1v1h-1zM125 97h1v1h-1zM183 97h1v1h-1zM507 97h1v1h-1zM582 97h1v1h-1zM617 97h1v1h-1zM648 97h1v1h-1zM9 98h1v1h-1zM26 98h1v1h-1zM39 98h1v1h-1zM125 98h1v1h-1zM183 98h1v1h-1zM507 98h1v1h-1zM582 98h1v1h-1zM616 98h1v1h-1zM649 98h1v1h-1zM9 99h1v1h-1zM26 99h1v1h-1zM39 99h1v1h-1zM125 99h1v1h-1zM183 99h1v1h-1zM506 99h1v1h-1zM583 99h1v1h-1zM615 99h1v1h-1zM649 99h1v1h-1zM9 100h1v1h-1zM25 100h1v1h-1zM39 100h1v1h-1zM125 100h1v1h-1zM183 100h1v1h-1zM506 100h1v1h-1zM583 100h1v1h-1zM615 100h1v1h-1zM650 100h1v1h-1zM10 101h1v1h-1zM25 101h1v1h-1zM39 101h1v1h-1zM124 101h1v1h-1zM184 101h1v1h-1zM506 101h1v1h-1zM584 101h1v1h-1zM614 101h1v1h-1zM650 101h1v1h-1zM10 102h1v1h-1zM24 102h1v1h-1zM39 102h1v1h-1zM124 102h1v1h-1zM184 102h1v1h-1zM505 102h1v1h-1zM584 102h1v1h-1zM613 102h1v1h-1zM650 102h1v1h-1zM10 103h1v1h-1zM24 103h1v1h-1zM40 103h1v1h-1zM124 103h1v1h-1zM184 103h1v1h-1zM505 103h1v1h-1zM585 103h1v1h-1zM613 103h1v1h-1zM651 103h1v1h-1zM10 104h1v1h-1zM23 104h1v1h-1zM40 104h1v1h-1zM124 104h1v1h-1zM184 104h1v1h-1zM505 104h1v1h-1zM585 104h1v1h-1zM612 104h1v1h-1zM651 104h1v1h-1zM11 105h1v1h-1zM23 105h1v1h-1zM40 105h1v1h-1zM123 105h1v1h-1zM185 105h1v1h-1zM504 105h1v1h-1zM586 105h2v1h-2zM612 105h1v1h-1zM652 105h1v1h-1zM11 106h1v1h-1zM22 106h1v1h-1zM40 106h1v1h-1zM123 106h1v1h-1zM185 106h1v1h-1zM504 106h1v1h-1zM588 106h2v1h-2zM611 106h1v1h-1zM652 106h1v1h-1zM11 107h1v1h-1zM22 107h1v1h-1zM40 107h1v1h-1zM123 107h1v1h-1zM185 107h1v1h-1zM504 107h1v1h-1zM590 107h1v1h-1zM610 107h1v1h-1zM652 107h1v1h-1zM11 108h1v1h-1zM22 108h1v1h-1zM40 108h1v1h-1zM123 108h1v1h-1zM185 108h1v1h-1zM503 108h1v1h-1zM591 108h1v1h-1zM610 108h1v1h-1zM653 108h1v1h-1zM12 109h1v1h-1zM21 109h1v1h-1zM41 109h1v1h-1zM122 109h1v1h-1zM186 109h1v1h-1zM503 109h1v1h-1zM592 109h1v1h-1zM609 109h1v1h-1zM653 109h1v1h-1zM12 110h1v1h-1zM21 110h1v1h-1zM41 110h1v1h-1zM122 110h1v1h-1zM186 110h1v1h-1zM503 110h1v1h-1zM593 110h1v1h-1zM608 110h1v1h-1zM654 110h1v1h-1zM12 111h1v1h-1zM21 111h1v1h-1zM41 111h1v1h-1zM122 111h1v1h-1zM187 111h1v1h-1zM502 111h1v1h-1zM594 111h1v1h-1zM608 111h1v1h-1zM654 111h1v1h-1zM12 112h1v1h-1zM20 112h1v1h-1zM41 112h1v1h-1zM122 112h1v1h-1zM187 112h1v1h-1zM502 112h1v1h-1zM594 112h1v1h-1zM607 112h1v1h-1zM655 112h2v1h-2zM13 113h1v1h-1zM20 113h1v1h-1zM41 113h1v1h-1zM121 113h1v1h-1zM188 113h1v1h-1zM501 113h1v1h-1zM595 113h1v1h-1zM606 113h1v1h-1zM657 113h2v1h-2zM13 114h1v1h-1zM20 114h1v1h-1zM41 114h1v1h-1zM121 114h1v1h-1zM188 114h1v1h-1zM501 114h1v1h-1zM596 114h1v1h-1zM606 114h1v1h-1zM659 114h1v1h-1zM14 115h1v1h-1zM19 115h1v1h-1zM41 115h1v1h-1zM121 115h1v1h-1zM188 115h1v1h-1zM501 115h1v1h-1zM596 115h1v1h-1zM605 115h1v1h-1zM660 115h2v1h-2zM14 116h1v1h-1zM19 116h1v1h-1zM42 116h1v1h-1zM121 116h1v1h-1zM189 116h1v1h-1zM500 116h1v1h-1zM597 116h1v1h-1zM604 116h1v1h-1zM662 116h2v1h-2zM15 117h1v1h-1zM18 117h1v1h-1zM42 117h1v1h-1zM121 117h1v1h-1zM189 117h1v1h-1zM500 117h1v1h-1zM598 117h2v1h-2zM603 117h1v1h-1zM664 117h4v1h-4zM15 118h1v1h-1zM17 118h1v1h-1zM42 118h1v1h-1zM120 118h1v1h-1zM190 118h1v1h-1zM499 118h1v1h-1zM600 118h1v1h-1zM602 118h1v1h-1zM668 118h2v1h-2zM16 119h1v1h-1zM42 119h1v1h-1zM120 119h1v1h-1zM190 119h1v1h-1zM499 119h1v1h-1zM601 119h1v1h-1zM670 119h1v1h-1zM42 120h1v1h-1zM120 120h1v1h-1zM190 120h1v1h-1zM499 120h1v1h-1zM671 120h1v1h-1zM42 121h1v1h-1zM120 121h1v1h-1zM191 121h1v1h-1zM499 121h1v1h-1zM671 121h1v1h-1zM42 122h1v1h-1zM119 122h1v1h-1zM191 122h1v1h-1zM499 122h1v1h-1zM672 122h1v1h-1zM42 123h1v1h-1zM119 123h1v1h-1zM192 123h1v1h-1zM498 123h1v1h-1zM672 123h1v1h-1zM42 124h1v1h-1zM119 124h1v1h-1zM192 124h1v1h-1zM498 124h1v1h-1zM673 124h1v1h-1zM43 125h1v1h-1zM119 125h1v1h-1zM193 125h1v1h-1zM498 125h1v1h-1zM673 125h1v1h-1zM43 126h1v1h-1zM119 126h1v1h-1zM193 126h1v1h-1zM498 126h1v1h-1zM673 126h1v1h-1zM43 127h1v1h-1zM118 127h1v1h-1zM194 127h1v1h-1zM498 127h1v1h-1zM674 127h1v1h-1zM43 128h1v1h-1zM118 128h1v1h-1zM194 128h1v1h-1zM497 128h1v1h-1zM674 128h1v1h-1zM43 129h1v1h-1zM118 129h1v1h-1zM195 129h1v1h-1zM497 129h1v1h-1zM675 129h1v1h-1zM43 130h1v1h-1zM118 130h1v1h-1zM195 130h1v1h-1zM497 130h1v1h-1zM675 130h1v1h-1zM43 131h1v1h-1zM118 131h1v1h-1zM195 131h1v1h-1zM496 131h1v1h-1zM675 131h1v1h-1zM43 132h1v1h-1zM117 132h1v1h-1zM196 132h1v1h-1zM496 132h1v1h-1zM676 132h1v1h-1zM44 133h1v1h-1zM117 133h1v1h-1zM196 133h1v1h-1zM495 133h1v1h-1zM676 133h1v1h-1zM44 134h1v1h-1zM117 134h1v1h-1zM196 134h1v1h-1zM495 134h1v1h-1zM676 134h1v1h-1zM44 135h1v1h-1zM117 135h1v1h-1zM196 135h1v1h-1zM495 135h1v1h-1zM677 135h1v1h-1zM44 136h1v1h-1zM116 136h1v1h-1zM197 136h1v1h-1zM494 136h1v1h-1zM677 136h1v1h-1zM45 137h1v1h-1zM116 137h1v1h-1zM197 137h1v1h-1zM494 137h1v1h-1zM677 137h1v1h-1zM45 138h1v1h-1zM116 138h1v1h-1zM197 138h1v1h-1zM494 138h1v1h-1zM678 138h1v1h-1zM733 138h2v1h-2zM45 139h1v1h-1zM116 139h1v1h-1zM198 139h1v1h-1zM493 139h1v1h-1zM678 139h1v1h-1zM732 139h1v1h-1zM735 139h1v1h-1zM45 140h1v1h-1zM115 140h1v1h-1zM199 140h1v1h-1zM493 140h1v1h-1zM678 140h1v1h-1zM731 140h1v1h-1zM736 140h2v1h-2zM45 141h1v1h-1zM115 141h1v1h-1zM199 141h1v1h-1zM492 141h1v1h-1zM678 141h1v1h-1zM731 141h1v1h-1zM738 141h1v1h-1zM46 142h1v1h-1zM115 142h1v1h-1zM200 142h1v1h-1zM492 142h1v1h-1zM679 142h1v1h-1zM730 142h1v1h-1zM739 142h1v1h-1zM46 143h1v1h-1zM115 143h1v1h-1zM201 143h1v1h-1zM491 143h1v1h-1zM679 143h1v1h-1zM730 143h1v1h-1zM740 143h1v1h-1zM46 144h1v1h-1zM114 144h1v1h-1zM201 144h1v1h-1zM490 144h1v1h-1zM679 144h1v1h-1zM729 144h1v1h-1zM741 144h1v1h-1zM46 145h1v1h-1zM114 145h1v1h-1zM202 145h1v1h-1zM490 145h1v1h-1zM680 145h1v1h-1zM729 145h1v1h-1zM742 145h1v1h-1zM46 146h1v1h-1zM114 146h1v1h-1zM203 146h1v1h-1zM489 146h1v1h-1zM680 146h1v1h-1zM728 146h1v1h-1zM743 146h1v1h-1zM46 147h1v1h-1zM114 147h1v1h-1zM203 147h1v1h-1zM488 147h1v1h-1zM681 147h1v1h-1zM727 147h1v1h-1zM744 147h1v1h-1zM46 148h1v1h-1zM113 148h1v1h-1zM204 148h1v1h-1zM488 148h1v1h-1zM681 148h1v1h-1zM726 148h1v1h-1zM745 148h2v1h-2zM47 149h1v1h-1zM113 149h1v1h-1zM204 149h1v1h-1zM487 149h1v1h-1zM682 149h1v1h-1zM725 149h1v1h-1zM747 149h1v1h-1zM761 149h1v1h-1zM47 150h1v1h-1zM113 150h1v1h-1zM205 150h1v1h-1zM487 150h1v1h-1zM682 150h1v1h-1zM724 150h1v1h-1zM748 150h1v1h-1zM759 150h2v1h-2zM762 150h2v1h-2zM47 151h1v1h-1zM113 151h1v1h-1zM205 151h1v1h-1zM228 151h1v1h-1zM486 151h1v1h-1zM683 151h1v1h-1zM723 151h1v1h-1zM749 151h1v1h-1zM758 151h1v1h-1zM764 151h1v1h-1zM47 152h1v1h-1zM112 152h1v1h-1zM206 152h1v1h-1zM227 152h1v1h-1zM229 152h1v1h-1zM486 152h1v1h-1zM683 152h1v1h-1zM723 152h1v1h-1zM750 152h2v1h-2zM756 152h2v1h-2zM765 152h1v1h-1zM47 153h1v1h-1zM112 153h1v1h-1zM206 153h1v1h-1zM226 153h1v1h-1zM229 153h1v1h-1zM485 153h1v1h-1zM684 153h1v1h-1zM722 153h1v1h-1zM752 153h1v1h-1zM754 153h2v1h-2zM765 153h1v1h-1zM47 154h1v1h-1zM112 154h1v1h-1zM206 154h1v1h-1zM225 154h1v1h-1zM230 154h1v1h-1zM485 154h1v1h-1zM684 154h1v1h-1zM722 154h1v1h-1zM753 154h1v1h-1zM766 154h1v1h-1zM47 155h1v1h-1zM112 155h1v1h-1zM207 155h1v1h-1zM225 155h1v1h-1zM230 155h1v1h-1zM485 155h1v1h-1zM685 155h1v1h-1zM721 155h1v1h-1zM767 155h1v1h-1zM47 156h1v1h-1zM111 156h1v1h-1zM207 156h1v1h-1zM224 156h1v1h-1zM231 156h1v1h-1zM484 156h1v1h-1zM685 156h1v1h-1zM698 156h2v1h-2zM721 156h1v1h-1zM768 156h1v1h-1zM47 157h1v1h-1zM111 157h1v1h-1zM207 157h1v1h-1zM219 157h5v1h-5zM231 157h1v1h-1zM484 157h1v1h-1zM686 157h1v1h-1zM696 157h2v1h-2zM700 157h3v1h-3zM720 157h1v1h-1zM768 157h1v1h-1zM48 158h1v1h-1zM111 158h1v1h-1zM208 158h1v1h-1zM218 158h1v1h-1zM231 158h1v1h-1zM483 158h1v1h-1zM686 158h1v1h-1zM695 158h1v1h-1zM703 158h1v1h-1zM708 158h6v1h-6zM719 158h1v1h-1zM769 158h1v1h-1zM48 159h1v1h-1zM111 159h1v1h-1zM208 159h1v1h-1zM217 159h1v1h-1zM232 159h1v1h-1zM483 159h1v1h-1zM687 159h1v1h-1zM694 159h1v1h-1zM704 159h1v1h-1zM706 159h2v1h-2zM714 159h2v1h-2zM718 159h1v1h-1zM769 159h1v1h-1zM48 160h1v1h-1zM110 160h1v1h-1zM208 160h1v1h-1zM216 160h1v1h-1zM232 160h1v1h-1zM483 160h1v1h-1zM688 160h1v1h-1zM693 160h1v1h-1zM705 160h1v1h-1zM716 160h2v1h-2zM770 160h1v1h-1zM48 161h1v1h-1zM110 161h1v1h-1zM209 161h1v1h-1zM215 161h1v1h-1zM232 161h1v1h-1zM482 161h1v1h-1zM689 161h1v1h-1zM693 161h1v1h-1zM770 161h1v1h-1zM48 162h1v1h-1zM110 162h1v1h-1zM209 162h1v1h-1zM215 162h1v1h-1zM233 162h1v1h-1zM482 162h1v1h-1zM689 162h1v1h-1zM692 162h1v1h-1zM770 162h1v1h-1zM48 163h1v1h-1zM110 163h1v1h-1zM210 163h1v1h-1zM214 163h1v1h-1zM233 163h1v1h-1zM481 163h1v1h-1zM690 163h1v1h-1zM692 163h1v1h-1zM771 163h1v1h-1zM48 164h1v1h-1zM109 164h1v1h-1zM210 164h1v1h-1zM214 164h1v1h-1zM233 164h1v1h-1zM481 164h1v1h-1zM691 164h1v1h-1zM771 164h1v1h-1zM48 165h1v1h-1zM109 165h1v1h-1zM211 165h1v1h-1zM213 165h1v1h-1zM233 165h1v1h-1zM481 165h1v1h-1zM772 165h1v1h-1zM48 166h1v1h-1zM109 166h1v1h-1zM211 166h1v1h-1zM213 166h1v1h-1zM234 166h1v1h-1zM480 166h1v1h-1zM772 166h1v1h-1zM48 167h1v1h-1zM108 167h1v1h-1zM212 167h1v1h-1zM234 167h1v1h-1zM480 167h1v1h-1zM772 167h1v1h-1zM49 168h1v1h-1zM108 168h1v1h-1zM235 168h1v1h-1zM479 168h1v1h-1zM773 168h1v1h-1zM49 169h1v1h-1zM107 169h1v1h-1zM235 169h1v1h-1zM255 169h4v1h-4zM479 169h1v1h-1zM773 169h1v1h-1zM49 170h1v1h-1zM106 170h1v1h-1zM236 170h1v1h-1zM253 170h2v1h-2zM259 170h1v1h-1zM275 170h10v1h-10zM479 170h1v1h-1zM773 170h1v1h-1zM49 171h1v1h-1zM105 171h1v1h-1zM236 171h1v1h-1zM239 171h6v1h-6zM252 171h1v1h-1zM259 171h1v1h-1zM273 171h2v1h-2zM284 171h1v1h-1zM479 171h1v1h-1zM774 171h1v1h-1zM49 172h1v1h-1zM105 172h1v1h-1zM237 172h2v1h-2zM245 172h1v1h-1zM251 172h1v1h-1zM260 172h1v1h-1zM272 172h1v1h-1zM285 172h1v1h-1zM478 172h1v1h-1zM774 172h1v1h-1zM49 173h1v1h-1zM104 173h1v1h-1zM246 173h1v1h-1zM250 173h1v1h-1zM260 173h1v1h-1zM271 173h1v1h-1zM285 173h1v1h-1zM478 173h1v1h-1zM774 173h1v1h-1zM49 174h1v1h-1zM103 174h1v1h-1zM246 174h1v1h-1zM250 174h1v1h-1zM261 174h1v1h-1zM269 174h2v1h-2zM286 174h1v1h-1zM478 174h1v1h-1zM775 174h1v1h-1zM49 175h1v1h-1zM103 175h1v1h-1zM247 175h1v1h-1zM249 175h1v1h-1zM262 175h1v1h-1zM268 175h1v1h-1zM286 175h1v1h-1zM478 175h1v1h-1zM775 175h1v1h-1zM50 176h1v1h-1zM102 176h1v1h-1zM248 176h1v1h-1zM263 176h1v1h-1zM266 176h2v1h-2zM287 176h1v1h-1zM477 176h1v1h-1zM775 176h1v1h-1zM50 177h1v1h-1zM102 177h1v1h-1zM264 177h2v1h-2zM287 177h1v1h-1zM477 177h1v1h-1zM775 177h1v1h-1zM50 178h1v1h-1zM101 178h1v1h-1zM287 178h1v1h-1zM477 178h1v1h-1zM776 178h1v1h-1zM50 179h1v1h-1zM100 179h1v1h-1zM288 179h1v1h-1zM477 179h1v1h-1zM776 179h1v1h-1zM50 180h1v1h-1zM100 180h1v1h-1zM288 180h1v1h-1zM476 180h1v1h-1zM776 180h1v1h-1zM50 181h1v1h-1zM99 181h1v1h-1zM288 181h1v1h-1zM476 181h1v1h-1zM777 181h1v1h-1zM51 182h1v1h-1zM99 182h1v1h-1zM288 182h1v1h-1zM476 182h1v1h-1zM777 182h1v1h-1zM51 183h1v1h-1zM98 183h1v1h-1zM289 183h1v1h-1zM475 183h1v1h-1zM777 183h1v1h-1zM51 184h1v1h-1zM98 184h1v1h-1zM289 184h1v1h-1zM475 184h1v1h-1zM777 184h1v1h-1zM51 185h1v1h-1zM97 185h1v1h-1zM289 185h1v1h-1zM475 185h1v1h-1zM778 185h1v1h-1zM51 186h1v1h-1zM97 186h1v1h-1zM289 186h1v1h-1zM474 186h1v1h-1zM778 186h1v1h-1zM51 187h1v1h-1zM96 187h1v1h-1zM290 187h1v1h-1zM474 187h1v1h-1zM778 187h1v1h-1zM52 188h1v1h-1zM96 188h1v1h-1zM290 188h1v1h-1zM474 188h1v1h-1zM778 188h1v1h-1zM52 189h1v1h-1zM95 189h1v1h-1zM290 189h1v1h-1zM473 189h1v1h-1zM778 189h1v1h-1zM52 190h1v1h-1zM95 190h1v1h-1zM290 190h1v1h-1zM473 190h1v1h-1zM779 190h1v1h-1zM52 191h1v1h-1zM94 191h1v1h-1zM291 191h1v1h-1zM473 191h1v1h-1zM779 191h1v1h-1zM52 192h1v1h-1zM94 192h1v1h-1zM291 192h1v1h-1zM472 192h1v1h-1zM779 192h1v1h-1zM52 193h1v1h-1zM93 193h1v1h-1zM291 193h1v1h-1zM472 193h1v1h-1zM779 193h1v1h-1zM53 194h1v1h-1zM93 194h1v1h-1zM291 194h1v1h-1zM472 194h1v1h-1zM779 194h1v1h-1zM53 195h1v1h-1zM92 195h1v1h-1zM292 195h1v1h-1zM471 195h1v1h-1zM780 195h1v1h-1zM53 196h1v1h-1zM92 196h1v1h-1zM292 196h1v1h-1zM471 196h1v1h-1zM780 196h1v1h-1zM53 197h1v1h-1zM91 197h1v1h-1zM292 197h1v1h-1zM470 197h1v1h-1zM780 197h1v1h-1zM53 198h1v1h-1zM91 198h1v1h-1zM292 198h1v1h-1zM470 198h1v1h-1zM780 198h1v1h-1zM53 199h1v1h-1zM90 199h1v1h-1zM292 199h1v1h-1zM469 199h1v1h-1zM780 199h1v1h-1zM53 200h1v1h-1zM90 200h1v1h-1zM292 200h1v1h-1zM469 200h1v1h-1zM781 200h1v1h-1zM54 201h1v1h-1zM89 201h1v1h-1zM293 201h1v1h-1zM468 201h1v1h-1zM781 201h1v1h-1zM54 202h1v1h-1zM89 202h1v1h-1zM293 202h1v1h-1zM468 202h1v1h-1zM781 202h1v1h-1zM54 203h1v1h-1zM89 203h1v1h-1zM293 203h1v1h-1zM467 203h1v1h-1zM781 203h1v1h-1zM54 204h1v1h-1zM89 204h1v1h-1zM293 204h1v1h-1zM466 204h1v1h-1zM781 204h1v1h-1zM54 205h1v1h-1zM88 205h1v1h-1zM293 205h1v1h-1zM466 205h1v1h-1zM782 205h1v1h-1zM54 206h1v1h-1zM88 206h1v1h-1zM293 206h1v1h-1zM465 206h1v1h-1zM782 206h1v1h-1zM55 207h1v1h-1zM88 207h1v1h-1zM294 207h1v1h-1zM464 207h1v1h-1zM782 207h1v1h-1zM55 208h1v1h-1zM88 208h1v1h-1zM294 208h1v1h-1zM360 208h1v1h-1zM462 208h2v1h-2zM55 209h1v1h-1zM88 209h1v1h-1zM294 209h1v1h-1zM359 209h1v1h-1zM361 209h1v1h-1zM459 209h3v1h-3zM55 210h1v1h-1zM87 210h1v1h-1zM294 210h1v1h-1zM358 210h1v1h-1zM361 210h1v1h-1zM455 210h4v1h-4zM55 211h1v1h-1zM87 211h1v1h-1zM295 211h1v1h-1zM357 211h1v1h-1zM362 211h1v1h-1zM452 211h3v1h-3zM55 212h1v1h-1zM87 212h1v1h-1zM295 212h1v1h-1zM355 212h2v1h-2zM362 212h1v1h-1zM441 212h2v1h-2zM450 212h2v1h-2zM56 213h1v1h-1zM87 213h1v1h-1zM295 213h1v1h-1zM353 213h2v1h-2zM363 213h1v1h-1zM439 213h2v1h-2zM443 213h2v1h-2zM448 213h2v1h-2zM56 214h1v1h-1zM86 214h1v1h-1zM295 214h1v1h-1zM350 214h3v1h-3zM363 214h1v1h-1zM438 214h1v1h-1zM445 214h3v1h-3zM56 215h1v1h-1zM86 215h1v1h-1zM296 215h1v1h-1zM347 215h3v1h-3zM364 215h1v1h-1zM436 215h2v1h-2zM56 216h1v1h-1zM86 216h1v1h-1zM296 216h1v1h-1zM346 216h1v1h-1zM364 216h1v1h-1zM435 216h1v1h-1zM56 217h1v1h-1zM86 217h1v1h-1zM296 217h1v1h-1zM345 217h1v1h-1zM365 217h1v1h-1zM434 217h1v1h-1zM57 218h1v1h-1zM86 218h1v1h-1zM296 218h1v1h-1zM344 218h1v1h-1zM365 218h1v1h-1zM433 218h1v1h-1zM57 219h1v1h-1zM85 219h1v1h-1zM297 219h1v1h-1zM344 219h1v1h-1zM366 219h1v1h-1zM432 219h1v1h-1zM58 220h1v1h-1zM85 220h1v1h-1zM297 220h1v1h-1zM343 220h1v1h-1zM367 220h1v1h-1zM431 220h1v1h-1zM58 221h1v1h-1zM85 221h1v1h-1zM297 221h1v1h-1zM343 221h1v1h-1zM367 221h1v1h-1zM430 221h1v1h-1zM59 222h1v1h-1zM85 222h1v1h-1zM297 222h1v1h-1zM342 222h1v1h-1zM368 222h1v1h-1zM430 222h1v1h-1zM59 223h1v1h-1zM84 223h1v1h-1zM298 223h1v1h-1zM342 223h1v1h-1zM368 223h1v1h-1zM429 223h1v1h-1zM60 224h2v1h-2zM84 224h1v1h-1zM298 224h1v1h-1zM341 224h1v1h-1zM369 224h1v1h-1zM429 224h1v1h-1zM62 225h2v1h-2zM84 225h1v1h-1zM298 225h1v1h-1zM341 225h1v1h-1zM369 225h1v1h-1zM428 225h1v1h-1zM64 226h1v1h-1zM84 226h1v1h-1zM299 226h1v1h-1zM340 226h1v1h-1zM370 226h1v1h-1zM394 226h1v1h-1zM428 226h1v1h-1zM65 227h1v1h-1zM83 227h1v1h-1zM299 227h1v1h-1zM340 227h1v1h-1zM370 227h1v1h-1zM392 227h2v1h-2zM395 227h1v1h-1zM427 227h1v1h-1zM65 228h1v1h-1zM83 228h1v1h-1zM299 228h1v1h-1zM338 228h2v1h-2zM371 228h1v1h-1zM391 228h1v1h-1zM396 228h1v1h-1zM426 228h1v1h-1zM66 229h1v1h-1zM83 229h1v1h-1zM299 229h1v1h-1zM337 229h1v1h-1zM371 229h1v1h-1zM390 229h1v1h-1zM397 229h1v1h-1zM426 229h1v1h-1zM67 230h1v1h-1zM82 230h1v1h-1zM300 230h1v1h-1zM336 230h1v1h-1zM371 230h1v1h-1zM389 230h1v1h-1zM398 230h1v1h-1zM425 230h1v1h-1zM68 231h1v1h-1zM82 231h1v1h-1zM300 231h1v1h-1zM336 231h1v1h-1zM372 231h1v1h-1zM388 231h1v1h-1zM399 231h1v1h-1zM425 231h1v1h-1zM69 232h1v1h-1zM81 232h1v1h-1zM300 232h1v1h-1zM335 232h1v1h-1zM372 232h1v1h-1zM387 232h1v1h-1zM400 232h1v1h-1zM424 232h1v1h-1zM69 233h1v1h-1zM79 233h2v1h-2zM301 233h1v1h-1zM335 233h1v1h-1zM373 233h1v1h-1zM386 233h1v1h-1zM401 233h1v1h-1zM424 233h1v1h-1zM70 234h1v1h-1zM78 234h1v1h-1zM301 234h1v1h-1zM335 234h1v1h-1zM373 234h1v1h-1zM386 234h1v1h-1zM402 234h1v1h-1zM423 234h1v1h-1zM71 235h1v1h-1zM76 235h2v1h-2zM301 235h1v1h-1zM334 235h1v1h-1zM373 235h1v1h-1zM385 235h1v1h-1zM402 235h1v1h-1zM422 235h1v1h-1zM72 236h1v1h-1zM74 236h2v1h-2zM301 236h1v1h-1zM334 236h1v1h-1zM374 236h1v1h-1zM385 236h1v1h-1zM403 236h1v1h-1zM421 236h1v1h-1zM73 237h1v1h-1zM302 237h1v1h-1zM334 237h1v1h-1zM374 237h1v1h-1zM385 237h1v1h-1zM404 237h1v1h-1zM421 237h1v1h-1zM302 238h1v1h-1zM333 238h1v1h-1zM375 238h1v1h-1zM384 238h1v1h-1zM405 238h1v1h-1zM420 238h1v1h-1zM303 239h1v1h-1zM333 239h1v1h-1zM375 239h1v1h-1zM384 239h1v1h-1zM406 239h1v1h-1zM418 239h2v1h-2zM303 240h1v1h-1zM333 240h1v1h-1zM376 240h1v1h-1zM383 240h1v1h-1zM407 240h3v1h-3zM414 240h4v1h-4zM304 241h1v1h-1zM332 241h1v1h-1zM376 241h1v1h-1zM383 241h1v1h-1zM410 241h4v1h-4zM304 242h1v1h-1zM332 242h1v1h-1zM377 242h1v1h-1zM382 242h1v1h-1zM305 243h1v1h-1zM332 243h1v1h-1zM377 243h1v1h-1zM382 243h1v1h-1zM305 244h1v1h-1zM331 244h1v1h-1zM378 244h1v1h-1zM381 244h1v1h-1zM306 245h1v1h-1zM331 245h1v1h-1zM379 245h1v1h-1zM381 245h1v1h-1zM306 246h2v1h-2zM331 246h1v1h-1zM380 246h1v1h-1zM308 247h3v1h-3zM330 247h1v1h-1zM311 248h1v1h-1zM330 248h1v1h-1zM311 249h1v1h-1zM320 249h1v1h-1zM330 249h1v1h-1zM312 250h1v1h-1zM319 250h1v1h-1zM321 250h1v1h-1zM329 250h1v1h-1zM312 251h1v1h-1zM318 251h1v1h-1zM322 251h1v1h-1zM329 251h1v1h-1zM313 252h5v1h-5zM323 252h1v1h-1zM328 252h1v1h-1zM324 253h1v1h-1zM328 253h1v1h-1zM325 254h1v1h-1zM327 254h1v1h-1zM325 255h1v1h-1zM327 255h1v1h-1zM326 256h1v1h-1z" fill="#ffff00" shape-rendering="crispEdges"/>
<line x1="6" y1="330.5" x2="788" y2="330.5" stroke="#c8c8c8" stroke-width="1" stroke-dasharray="3,3" shape-rendering="crispEdges"/>
<line x1="6" y1="378.5" x2="788" y2="378.5" stroke="#c8c8c8" stroke-width="1" stroke-dasharray="3,3" shape-rendering="crispEdges"/>
<path d="M121 318h2v1h-2zM123 319h1v1h-1zM472 320h2v1h-2zM118 321h1v1h-1zM162 321h1v1h-1zM471 321h1v1h-1zM477 321h2v1h-2zM24 322h1v1h-1zM118 322h1v1h-1zM163 322h2v1h-2zM479 322h1v1h-1zM493 322h2v1h-2zM23 323h1v1h-1zM117 323h1v1h-1zM126 323h1v1h-1zM495 323h1v1h-1zM22 324h1v1h-1zM126 324h1v1h-1zM273 324h2v1h-2zM385 324h2v1h-2zM491 324h1v1h-1zM127 325h1v1h-1zM160 325h1v1h-1zM272 325h1v1h-1zM335 325h2v1h-2zM386 325h1v1h-1zM468 325h1v1h-1zM490 325h1v1h-1zM26 326h1v1h-1zM160 326h1v1h-1zM166 326h1v1h-1zM218 326h1v1h-1zM310 326h1v1h-1zM337 326h1v1h-1zM354 326h1v1h-1zM468 326h1v1h-1zM480 326h1v1h-1zM490 326h1v1h-1zM499 326h3v1h-3zM632 326h1v1h-1zM26 327h1v1h-1zM116 327h1v1h-1zM160 327h1v1h-1zM167 327h1v1h-1zM218 327h2v1h-2zM310 327h2v1h-2zM354 327h1v1h-1zM383 327h1v1h-1zM467 327h1v1h-1zM481 327h1v1h-1zM517 327h1v1h-1zM610 327h1v1h-1zM631 327h1v1h-1zM21 328h1v1h-1zM27 328h1v1h-1zM79 328h1v1h-1zM116 328h1v1h-1zM167 328h1v1h-1zM276 328h1v1h-1zM353 328h1v1h-1zM357 328h1v1h-1zM383 328h1v1h-1zM429 328h2v1h-2zM481 328h1v1h-1zM504 328h1v1h-1zM513 328h1v1h-1zM518 328h1v1h-1zM610 328h2v1h-2zM630 328h1v1h-1zM635 328h1v1h-1zM21 329h1v1h-1zM78 329h1v1h-1zM116 329h1v1h-1zM128 329h1v1h-1zM270 329h1v1h-1zM276 329h1v1h-1zM333 329h1v1h-1zM358 329h1v1h-1zM382 329h1v1h-1zM388 329h1v1h-1zM431 329h1v1h-1zM505 329h1v1h-1zM513 329h1v1h-1zM519 329h1v1h-1zM635 329h1v1h-1zM726 329h1v1h-1zM20 330h1v1h-1zM78 330h1v1h-1zM128 330h1v1h-1zM270 330h1v1h-1zM277 330h1v1h-1zM332 330h1v1h-1zM339 330h1v1h-1zM358 330h1v1h-1zM388 330h1v1h-1zM489 330h1v1h-1zM505 330h1v1h-1zM512 330h1v1h-1zM636 330h1v1h-1zM727 330h1v1h-1zM82 331h1v1h-1zM89 331h2v1h-2zM128 331h1v1h-1zM159 331h1v1h-1zM192 331h1v1h-1zM216 331h1v1h-1zM220 331h1v1h-1zM270 331h1v1h-1zM308 331h1v1h-1zM312 331h1v1h-1zM332 331h1v1h-1zM339 331h1v1h-1zM388 331h1v1h-1zM427 331h1v1h-1zM449 331h2v1h-2zM466 331h1v1h-1zM489 331h1v1h-1zM613 331h1v1h-1zM627 331h1v1h-1zM728 331h1v1h-1zM28 332h1v1h-1zM83 332h1v1h-1zM88 332h1v1h-1zM158 332h1v1h-1zM169 332h1v1h-1zM193 332h1v1h-1zM216 332h1v1h-1zM220 332h1v1h-1zM308 332h1v1h-1zM312 332h1v1h-1zM339 332h1v1h-1zM352 332h1v1h-1zM426 332h1v1h-1zM451 332h1v1h-1zM465 332h1v1h-1zM482 332h1v1h-1zM489 332h1v1h-1zM608 332h1v1h-1zM613 332h1v1h-1zM627 332h1v1h-1zM723 332h1v1h-1zM28 333h1v1h-1zM84 333h1v1h-1zM114 333h1v1h-1zM158 333h1v1h-1zM169 333h1v1h-1zM191 333h1v1h-1zM193 333h1v1h-1zM215 333h1v1h-1zM220 333h1v1h-1zM308 333h1v1h-1zM313 333h1v1h-1zM352 333h1v1h-1zM381 333h1v1h-1zM426 333h1v1h-1zM432 333h1v1h-1zM447 333h1v1h-1zM465 333h1v1h-1zM482 333h1v1h-1zM521 333h1v1h-1zM608 333h1v1h-1zM613 333h1v1h-1zM626 333h1v1h-1zM723 333h1v1h-1zM19 334h1v1h-1zM28 334h1v1h-1zM77 334h1v1h-1zM108 334h1v1h-1zM114 334h1v1h-1zM169 334h1v1h-1zM191 334h1v1h-1zM277 334h1v1h-1zM351 334h1v1h-1zM360 334h1v1h-1zM381 334h1v1h-1zM433 334h1v1h-1zM446 334h1v1h-1zM482 334h1v1h-1zM508 334h3v1h-3zM522 334h1v1h-1zM608 334h1v1h-1zM637 334h1v1h-1zM723 334h1v1h-1zM19 335h1v1h-1zM76 335h1v1h-1zM92 335h1v1h-1zM107 335h1v1h-1zM109 335h1v1h-1zM113 335h1v1h-1zM129 335h1v1h-1zM191 335h1v1h-1zM269 335h1v1h-1zM278 335h1v1h-1zM331 335h1v1h-1zM360 335h1v1h-1zM381 335h1v1h-1zM389 335h1v1h-1zM433 335h1v1h-1zM446 335h1v1h-1zM522 335h1v1h-1zM538 335h1v1h-1zM637 335h1v1h-1zM731 335h1v1h-1zM19 336h1v1h-1zM76 336h1v1h-1zM92 336h1v1h-1zM129 336h1v1h-1zM269 336h1v1h-1zM278 336h1v1h-1zM331 336h1v1h-1zM340 336h1v1h-1zM360 336h1v1h-1zM389 336h1v1h-1zM453 336h1v1h-1zM488 336h1v1h-1zM539 336h2v1h-2zM637 336h1v1h-1zM732 336h1v1h-1zM93 337h1v1h-1zM129 337h1v1h-1zM157 337h1v1h-1zM194 337h1v1h-1zM215 337h1v1h-1zM221 337h1v1h-1zM247 337h1v1h-1zM269 337h1v1h-1zM307 337h1v1h-1zM313 337h1v1h-1zM331 337h1v1h-1zM340 337h1v1h-1zM389 337h1v1h-1zM408 337h1v1h-1zM424 337h1v1h-1zM453 337h1v1h-1zM464 337h1v1h-1zM488 337h1v1h-1zM614 337h1v1h-1zM625 337h1v1h-1zM662 337h1v1h-1zM732 337h1v1h-1zM29 338h1v1h-1zM157 338h1v1h-1zM170 338h1v1h-1zM194 338h1v1h-1zM215 338h1v1h-1zM221 338h1v1h-1zM247 338h1v1h-1zM307 338h1v1h-1zM314 338h1v1h-1zM341 338h1v1h-1zM350 338h1v1h-1zM407 338h1v1h-1zM424 338h1v1h-1zM453 338h1v1h-1zM464 338h1v1h-1zM483 338h1v1h-1zM488 338h1v1h-1zM544 338h1v1h-1zM607 338h1v1h-1zM615 338h1v1h-1zM625 338h1v1h-1zM663 338h1v1h-1zM722 338h1v1h-1zM29 339h1v1h-1zM105 339h1v1h-1zM157 339h1v1h-1zM171 339h1v1h-1zM190 339h1v1h-1zM195 339h1v1h-1zM214 339h1v1h-1zM221 339h1v1h-1zM245 339h1v1h-1zM248 339h1v1h-1zM307 339h1v1h-1zM314 339h1v1h-1zM350 339h1v1h-1zM380 339h1v1h-1zM407 339h1v1h-1zM424 339h1v1h-1zM434 339h1v1h-1zM445 339h1v1h-1zM464 339h1v1h-1zM483 339h1v1h-1zM524 339h1v1h-1zM536 339h1v1h-1zM545 339h1v1h-1zM607 339h1v1h-1zM615 339h1v1h-1zM625 339h1v1h-1zM661 339h1v1h-1zM663 339h1v1h-1zM700 339h1v1h-1zM721 339h1v1h-1zM18 340h1v1h-1zM29 340h1v1h-1zM75 340h1v1h-1zM104 340h1v1h-1zM171 340h1v1h-1zM190 340h1v1h-1zM245 340h1v1h-1zM278 340h1v1h-1zM350 340h1v1h-1zM361 340h1v1h-1zM380 340h1v1h-1zM434 340h1v1h-1zM445 340h1v1h-1zM483 340h1v1h-1zM524 340h1v1h-1zM536 340h1v1h-1zM546 340h1v1h-1zM606 340h1v1h-1zM638 340h1v1h-1zM660 340h1v1h-1zM700 340h1v1h-1zM721 340h1v1h-1zM18 341h1v1h-1zM75 341h1v1h-1zM94 341h1v1h-1zM103 341h1v1h-1zM130 341h1v1h-1zM190 341h1v1h-1zM244 341h1v1h-1zM268 341h1v1h-1zM279 341h1v1h-1zM329 341h1v1h-1zM361 341h1v1h-1zM380 341h1v1h-1zM390 341h1v1h-1zM410 341h1v1h-1zM434 341h1v1h-1zM445 341h1v1h-1zM525 341h1v1h-1zM536 341h1v1h-1zM638 341h1v1h-1zM660 341h1v1h-1zM701 341h1v1h-1zM734 341h1v1h-1zM18 342h1v1h-1zM75 342h1v1h-1zM94 342h1v1h-1zM130 342h1v1h-1zM268 342h1v1h-1zM279 342h1v1h-1zM329 342h1v1h-1zM341 342h1v1h-1zM361 342h1v1h-1zM390 342h1v1h-1zM410 342h1v1h-1zM455 342h1v1h-1zM487 342h1v1h-1zM638 342h1v1h-1zM734 342h1v1h-1zM94 343h1v1h-1zM130 343h1v1h-1zM156 343h1v1h-1zM195 343h1v1h-1zM214 343h1v1h-1zM222 343h1v1h-1zM249 343h1v1h-1zM267 343h1v1h-1zM306 343h1v1h-1zM314 343h1v1h-1zM328 343h1v1h-1zM341 343h1v1h-1zM390 343h1v1h-1zM405 343h1v1h-1zM411 343h1v1h-1zM423 343h1v1h-1zM455 343h1v1h-1zM463 343h1v1h-1zM487 343h1v1h-1zM615 343h1v1h-1zM624 343h1v1h-1zM664 343h1v1h-1zM698 343h1v1h-1zM734 343h1v1h-1zM30 344h1v1h-1zM156 344h1v1h-1zM172 344h1v1h-1zM195 344h1v1h-1zM213 344h1v1h-1zM222 344h1v1h-1zM249 344h1v1h-1zM306 344h1v1h-1zM315 344h1v1h-1zM324 344h1v1h-1zM342 344h1v1h-1zM349 344h1v1h-1zM405 344h1v1h-1zM422 344h1v1h-1zM455 344h1v1h-1zM463 344h1v1h-1zM484 344h1v1h-1zM487 344h1v1h-1zM547 344h1v1h-1zM606 344h1v1h-1zM616 344h1v1h-1zM624 344h1v1h-1zM664 344h1v1h-1zM698 344h1v1h-1zM720 344h1v1h-1zM30 345h1v1h-1zM101 345h1v1h-1zM156 345h1v1h-1zM172 345h1v1h-1zM189 345h1v1h-1zM195 345h1v1h-1zM213 345h1v1h-1zM222 345h1v1h-1zM244 345h1v1h-1zM249 345h1v1h-1zM306 345h1v1h-1zM315 345h1v1h-1zM323 345h1v1h-1zM325 345h1v1h-1zM349 345h1v1h-1zM379 345h1v1h-1zM405 345h1v1h-1zM422 345h1v1h-1zM435 345h1v1h-1zM444 345h1v1h-1zM462 345h1v1h-1zM485 345h1v1h-1zM526 345h1v1h-1zM535 345h1v1h-1zM548 345h1v1h-1zM606 345h1v1h-1zM616 345h1v1h-1zM624 345h1v1h-1zM659 345h1v1h-1zM665 345h1v1h-1zM689 345h1v1h-1zM698 345h1v1h-1zM702 345h1v1h-1zM720 345h1v1h-1zM17 346h1v1h-1zM30 346h1v1h-1zM74 346h1v1h-1zM100 346h1v1h-1zM172 346h1v1h-1zM189 346h1v1h-1zM243 346h1v1h-1zM279 346h1v1h-1zM349 346h1v1h-1zM362 346h1v1h-1zM379 346h1v1h-1zM435 346h1v1h-1zM444 346h1v1h-1zM485 346h1v1h-1zM526 346h1v1h-1zM535 346h1v1h-1zM548 346h1v1h-1zM605 346h1v1h-1zM639 346h1v1h-1zM659 346h1v1h-1zM689 346h1v1h-1zM702 346h1v1h-1zM719 346h1v1h-1zM17 347h1v1h-1zM74 347h1v1h-1zM95 347h1v1h-1zM99 347h1v1h-1zM131 347h1v1h-1zM189 347h1v1h-1zM243 347h1v1h-1zM266 347h1v1h-1zM279 347h1v1h-1zM362 347h1v1h-1zM379 347h1v1h-1zM390 347h1v1h-1zM412 347h1v1h-1zM435 347h1v1h-1zM443 347h1v1h-1zM526 347h1v1h-1zM534 347h1v1h-1zM639 347h1v1h-1zM659 347h1v1h-1zM687 347h1v1h-1zM690 347h1v1h-1zM702 347h1v1h-1zM714 347h1v1h-1zM735 347h1v1h-1zM17 348h1v1h-1zM74 348h1v1h-1zM96 348h1v1h-1zM131 348h1v1h-1zM266 348h1v1h-1zM279 348h1v1h-1zM342 348h1v1h-1zM362 348h1v1h-1zM391 348h1v1h-1zM412 348h1v1h-1zM456 348h1v1h-1zM592 348h1v1h-1zM639 348h1v1h-1zM687 348h1v1h-1zM715 348h2v1h-2zM735 348h1v1h-1zM750 348h1v1h-1zM96 349h1v1h-1zM131 349h1v1h-1zM155 349h1v1h-1zM196 349h1v1h-1zM213 349h1v1h-1zM223 349h1v1h-1zM250 349h1v1h-1zM266 349h1v1h-1zM305 349h1v1h-1zM315 349h1v1h-1zM321 349h1v1h-1zM343 349h1v1h-1zM391 349h1v1h-1zM404 349h1v1h-1zM412 349h1v1h-1zM420 349h1v1h-1zM456 349h1v1h-1zM461 349h1v1h-1zM590 349h1v1h-1zM592 349h1v1h-1zM616 349h1v1h-1zM623 349h1v1h-1zM665 349h1v1h-1zM686 349h1v1h-1zM697 349h1v1h-1zM735 349h1v1h-1zM750 349h1v1h-1zM30 350h1v1h-1zM58 350h1v1h-1zM154 350h1v1h-1zM173 350h1v1h-1zM196 350h1v1h-1zM212 350h1v1h-1zM223 350h1v1h-1zM250 350h1v1h-1zM305 350h1v1h-1zM316 350h1v1h-1zM321 350h1v1h-1zM343 350h1v1h-1zM348 350h1v1h-1zM404 350h1v1h-1zM420 350h1v1h-1zM457 350h1v1h-1zM461 350h1v1h-1zM549 350h1v1h-1zM589 350h1v1h-1zM593 350h1v1h-1zM605 350h1v1h-1zM616 350h1v1h-1zM623 350h1v1h-1zM665 350h1v1h-1zM697 350h1v1h-1zM749 350h1v1h-1zM31 351h1v1h-1zM57 351h1v1h-1zM139 351h1v1h-1zM154 351h1v1h-1zM173 351h1v1h-1zM188 351h1v1h-1zM196 351h1v1h-1zM212 351h1v1h-1zM223 351h1v1h-1zM243 351h1v1h-1zM250 351h1v1h-1zM305 351h1v1h-1zM316 351h1v1h-1zM321 351h1v1h-1zM348 351h1v1h-1zM378 351h1v1h-1zM404 351h1v1h-1zM419 351h1v1h-1zM436 351h1v1h-1zM443 351h1v1h-1zM461 351h1v1h-1zM527 351h1v1h-1zM534 351h1v1h-1zM549 351h1v1h-1zM589 351h1v1h-1zM605 351h1v1h-1zM617 351h1v1h-1zM623 351h1v1h-1zM658 351h1v1h-1zM666 351h1v1h-1zM691 351h1v1h-1zM696 351h1v1h-1zM703 351h1v1h-1zM712 351h1v1h-1zM753 351h1v1h-1zM16 352h1v1h-1zM31 352h1v1h-1zM57 352h1v1h-1zM60 352h1v1h-1zM74 352h1v1h-1zM138 352h1v1h-1zM173 352h1v1h-1zM188 352h1v1h-1zM242 352h1v1h-1zM280 352h1v1h-1zM348 352h1v1h-1zM363 352h1v1h-1zM378 352h1v1h-1zM436 352h1v1h-1zM443 352h1v1h-1zM527 352h1v1h-1zM533 352h1v1h-1zM549 352h1v1h-1zM604 352h1v1h-1zM640 352h1v1h-1zM658 352h1v1h-1zM691 352h1v1h-1zM703 352h1v1h-1zM712 352h1v1h-1zM753 352h1v1h-1zM759 352h1v1h-1zM16 353h1v1h-1zM61 353h1v1h-1zM73 353h1v1h-1zM132 353h1v1h-1zM138 353h1v1h-1zM188 353h1v1h-1zM231 353h1v1h-1zM242 353h1v1h-1zM265 353h1v1h-1zM280 353h1v1h-1zM363 353h1v1h-1zM378 353h1v1h-1zM391 353h1v1h-1zM414 353h1v1h-1zM436 353h1v1h-1zM442 353h1v1h-1zM527 353h1v1h-1zM533 353h1v1h-1zM640 353h1v1h-1zM657 353h1v1h-1zM685 353h1v1h-1zM692 353h1v1h-1zM703 353h1v1h-1zM711 353h1v1h-1zM736 353h1v1h-1zM754 353h1v1h-1zM758 353h1v1h-1zM16 354h1v1h-1zM61 354h1v1h-1zM73 354h1v1h-1zM132 354h1v1h-1zM141 354h1v1h-1zM231 354h1v1h-1zM265 354h1v1h-1zM280 354h1v1h-1zM343 354h1v1h-1zM363 354h1v1h-1zM391 354h1v1h-1zM415 354h2v1h-2zM458 354h2v1h-2zM594 354h1v1h-1zM640 354h1v1h-1zM685 354h1v1h-1zM736 354h1v1h-1zM748 354h1v1h-1zM757 354h1v1h-1zM132 355h1v1h-1zM141 355h1v1h-1zM152 355h1v1h-1zM197 355h1v1h-1zM211 355h1v1h-1zM224 355h1v1h-1zM229 355h1v1h-1zM232 355h1v1h-1zM251 355h1v1h-1zM265 355h1v1h-1zM305 355h1v1h-1zM317 355h1v1h-1zM319 355h1v1h-1zM344 355h1v1h-1zM391 355h1v1h-1zM403 355h1v1h-1zM458 355h1v1h-1zM587 355h1v1h-1zM594 355h1v1h-1zM617 355h1v1h-1zM622 355h1v1h-1zM666 355h1v1h-1zM685 355h1v1h-1zM695 355h1v1h-1zM736 355h1v1h-1zM747 355h1v1h-1zM762 355h1v1h-1zM31 356h1v1h-1zM55 356h1v1h-1zM142 356h1v1h-1zM151 356h1v1h-1zM174 356h1v1h-1zM197 356h1v1h-1zM210 356h1v1h-1zM224 356h1v1h-1zM228 356h1v1h-1zM251 356h1v1h-1zM304 356h1v1h-1zM318 356h1v1h-1zM344 356h1v1h-1zM347 356h1v1h-1zM403 356h1v1h-1zM550 356h1v1h-1zM587 356h1v1h-1zM594 356h1v1h-1zM604 356h1v1h-1zM617 356h1v1h-1zM622 356h1v1h-1zM666 356h1v1h-1zM695 356h1v1h-1zM747 356h1v1h-1zM762 356h1v1h-1zM31 357h1v1h-1zM55 357h1v1h-1zM136 357h1v1h-1zM151 357h1v1h-1zM174 357h1v1h-1zM188 357h1v1h-1zM197 357h1v1h-1zM210 357h1v1h-1zM224 357h1v1h-1zM228 357h1v1h-1zM241 357h1v1h-1zM251 357h1v1h-1zM304 357h1v1h-1zM347 357h1v1h-1zM377 357h1v1h-1zM403 357h1v1h-1zM437 357h1v1h-1zM442 357h1v1h-1zM528 357h1v1h-1zM533 357h1v1h-1zM550 357h1v1h-1zM586 357h1v1h-1zM604 357h1v1h-1zM617 357h1v1h-1zM622 357h1v1h-1zM657 357h1v1h-1zM666 357h1v1h-1zM693 357h1v1h-1zM695 357h1v1h-1zM704 357h1v1h-1zM710 357h1v1h-1zM763 357h1v1h-1zM15 358h1v1h-1zM32 358h1v1h-1zM55 358h1v1h-1zM62 358h1v1h-1zM73 358h1v1h-1zM136 358h1v1h-1zM174 358h1v1h-1zM188 358h1v1h-1zM241 358h1v1h-1zM281 358h1v1h-1zM346 358h1v1h-1zM364 358h1v1h-1zM377 358h1v1h-1zM437 358h1v1h-1zM441 358h1v1h-1zM528 358h1v1h-1zM532 358h1v1h-1zM550 358h1v1h-1zM604 358h1v1h-1zM641 358h1v1h-1zM657 358h1v1h-1zM693 358h1v1h-1zM705 358h1v1h-1zM710 358h1v1h-1zM15 359h1v1h-1zM62 359h1v1h-1zM73 359h1v1h-1zM133 359h1v1h-1zM135 359h1v1h-1zM187 359h1v1h-1zM233 359h1v1h-1zM241 359h1v1h-1zM263 359h1v1h-1zM281 359h1v1h-1zM364 359h1v1h-1zM377 359h1v1h-1zM392 359h1v1h-1zM437 359h1v1h-1zM441 359h1v1h-1zM528 359h1v1h-1zM532 359h1v1h-1zM641 359h1v1h-1zM656 359h1v1h-1zM684 359h1v1h-1zM694 359h1v1h-1zM705 359h1v1h-1zM710 359h1v1h-1zM737 359h1v1h-1zM14 360h1v1h-1zM62 360h1v1h-1zM73 360h1v1h-1zM133 360h1v1h-1zM143 360h1v1h-1zM233 360h1v1h-1zM262 360h1v1h-1zM281 360h1v1h-1zM364 360h1v1h-1zM392 360h1v1h-1zM595 360h1v1h-1zM641 360h1v1h-1zM684 360h1v1h-1zM737 360h1v1h-1zM747 360h1v1h-1zM134 361h1v1h-1zM143 361h1v1h-1zM149 361h1v1h-1zM198 361h1v1h-1zM207 361h1v1h-1zM226 361h1v1h-1zM233 361h1v1h-1zM252 361h1v1h-1zM262 361h1v1h-1zM304 361h1v1h-1zM392 361h1v1h-1zM402 361h1v1h-1zM585 361h1v1h-1zM595 361h1v1h-1zM618 361h1v1h-1zM621 361h1v1h-1zM667 361h1v1h-1zM684 361h1v1h-1zM737 361h1v1h-1zM746 361h1v1h-1zM764 361h1v1h-1zM32 362h1v1h-1zM54 362h1v1h-1zM144 362h1v1h-1zM148 362h1v1h-1zM175 362h1v1h-1zM198 362h1v1h-1zM206 362h1v1h-1zM226 362h1v1h-1zM252 362h1v1h-1zM304 362h1v1h-1zM402 362h1v1h-1zM551 362h1v1h-1zM584 362h1v1h-1zM595 362h1v1h-1zM603 362h1v1h-1zM619 362h1v1h-1zM621 362h1v1h-1zM667 362h1v1h-1zM746 362h1v1h-1zM764 362h1v1h-1zM32 363h1v1h-1zM54 363h1v1h-1zM147 363h1v1h-1zM175 363h1v1h-1zM187 363h1v1h-1zM198 363h1v1h-1zM206 363h1v1h-1zM240 363h1v1h-1zM253 363h1v1h-1zM303 363h1v1h-1zM376 363h1v1h-1zM402 363h1v1h-1zM438 363h3v1h-3zM530 363h2v1h-2zM551 363h1v1h-1zM584 363h1v1h-1zM603 363h1v1h-1zM619 363h1v1h-1zM621 363h1v1h-1zM656 363h1v1h-1zM667 363h1v1h-1zM706 363h3v1h-3zM764 363h1v1h-1zM13 364h1v1h-1zM33 364h1v1h-1zM54 364h1v1h-1zM63 364h1v1h-1zM72 364h1v1h-1zM175 364h1v1h-1zM187 364h1v1h-1zM240 364h1v1h-1zM282 364h1v1h-1zM364 364h1v1h-1zM376 364h1v1h-1zM530 364h1v1h-1zM551 364h1v1h-1zM603 364h1v1h-1zM642 364h1v1h-1zM655 364h1v1h-1zM13 365h1v1h-1zM63 365h1v1h-1zM72 365h1v1h-1zM187 365h1v1h-1zM234 365h1v1h-1zM240 365h1v1h-1zM260 365h1v1h-1zM282 365h1v1h-1zM365 365h1v1h-1zM376 365h1v1h-1zM393 365h1v1h-1zM568 365h1v1h-1zM642 365h1v1h-1zM655 365h1v1h-1zM683 365h1v1h-1zM738 365h1v1h-1zM13 366h1v1h-1zM64 366h1v1h-1zM72 366h1v1h-1zM234 366h1v1h-1zM259 366h1v1h-1zM282 366h1v1h-1zM365 366h1v1h-1zM393 366h1v1h-1zM568 366h1v1h-1zM595 366h1v1h-1zM642 366h1v1h-1zM683 366h1v1h-1zM738 366h1v1h-1zM745 366h1v1h-1zM199 367h1v1h-1zM204 367h1v1h-1zM234 367h1v1h-1zM254 367h1v1h-1zM259 367h1v1h-1zM303 367h1v1h-1zM393 367h1v1h-1zM401 367h1v1h-1zM567 367h1v1h-1zM583 367h1v1h-1zM596 367h1v1h-1zM668 367h1v1h-1zM682 367h1v1h-1zM738 367h1v1h-1zM745 367h1v1h-1zM765 367h1v1h-1zM34 368h1v1h-1zM53 368h1v1h-1zM176 368h1v1h-1zM199 368h1v1h-1zM204 368h1v1h-1zM254 368h1v1h-1zM303 368h1v1h-1zM401 368h1v1h-1zM552 368h1v1h-1zM583 368h1v1h-1zM596 368h1v1h-1zM602 368h1v1h-1zM668 368h1v1h-1zM745 368h1v1h-1zM765 368h1v1h-1zM34 369h1v1h-1zM53 369h1v1h-1zM176 369h1v1h-1zM186 369h1v1h-1zM199 369h1v1h-1zM203 369h1v1h-1zM239 369h1v1h-1zM255 369h1v1h-1zM303 369h1v1h-1zM375 369h1v1h-1zM400 369h1v1h-1zM552 369h1v1h-1zM571 369h1v1h-1zM582 369h1v1h-1zM602 369h1v1h-1zM654 369h1v1h-1zM668 369h1v1h-1zM765 369h1v1h-1zM11 370h1v1h-1zM34 370h1v1h-1zM53 370h1v1h-1zM65 370h1v1h-1zM71 370h1v1h-1zM176 370h1v1h-1zM186 370h1v1h-1zM239 370h1v1h-1zM283 370h1v1h-1zM365 370h1v1h-1zM375 370h1v1h-1zM552 370h1v1h-1zM571 370h1v1h-1zM602 370h1v1h-1zM644 370h1v1h-1zM654 370h1v1h-1zM11 371h1v1h-1zM65 371h1v1h-1zM71 371h1v1h-1zM186 371h1v1h-1zM235 371h1v1h-1zM238 371h1v1h-1zM283 371h1v1h-1zM365 371h1v1h-1zM374 371h1v1h-1zM394 371h1v1h-1zM566 371h1v1h-1zM571 371h1v1h-1zM644 371h1v1h-1zM654 371h1v1h-1zM681 371h1v1h-1zM739 371h1v1h-1zM10 372h1v1h-1zM65 372h1v1h-1zM71 372h1v1h-1zM235 372h1v1h-1zM284 372h1v1h-1zM366 372h1v1h-1zM394 372h1v1h-1zM565 372h1v1h-1zM596 372h1v1h-1zM645 372h1v1h-1zM681 372h1v1h-1zM739 372h1v1h-1zM744 372h1v1h-1zM200 373h3v1h-3zM236 373h1v1h-1zM287 373h2v1h-2zM302 373h1v1h-1zM394 373h1v1h-1zM399 373h1v1h-1zM565 373h1v1h-1zM581 373h1v1h-1zM597 373h1v1h-1zM669 373h1v1h-1zM681 373h1v1h-1zM739 373h1v1h-1zM744 373h1v1h-1zM766 373h1v1h-1zM35 374h1v1h-1zM52 374h1v1h-1zM177 374h1v1h-1zM289 374h1v1h-1zM302 374h1v1h-1zM399 374h1v1h-1zM553 374h1v1h-1zM581 374h1v1h-1zM597 374h1v1h-1zM601 374h1v1h-1zM670 374h1v1h-1zM744 374h1v1h-1zM767 374h1v1h-1zM36 375h1v1h-1zM52 375h1v1h-1zM178 375h1v1h-1zM185 375h1v1h-1zM301 375h1v1h-1zM373 375h1v1h-1zM399 375h1v1h-1zM554 375h1v1h-1zM573 375h1v1h-1zM581 375h1v1h-1zM601 375h1v1h-1zM653 375h1v1h-1zM670 375h1v1h-1zM767 375h1v1h-1zM8 376h1v1h-1zM36 376h1v1h-1zM52 376h1v1h-1zM66 376h1v1h-1zM70 376h1v1h-1zM178 376h1v1h-1zM185 376h1v1h-1zM366 376h1v1h-1zM372 376h1v1h-1zM554 376h1v1h-1zM573 376h1v1h-1zM600 376h1v1h-1zM647 376h1v1h-1zM652 376h1v1h-1zM7 377h1v1h-1zM67 377h1v1h-1zM70 377h1v1h-1zM185 377h1v1h-1zM292 377h1v1h-1zM367 377h1v1h-1zM372 377h1v1h-1zM395 377h1v1h-1zM564 377h1v1h-1zM574 377h1v1h-1zM647 377h1v1h-1zM652 377h1v1h-1zM680 377h1v1h-1zM740 377h1v1h-1zM6 378h1v1h-1zM67 378h1v1h-1zM69 378h1v1h-1zM293 378h2v1h-2zM367 378h1v1h-1zM396 378h1v1h-1zM557 378h2v1h-2zM563 378h1v1h-1zM598 378h1v1h-1zM648 378h1v1h-1zM673 378h1v1h-1zM679 378h1v1h-1zM740 378h1v1h-1zM743 378h1v1h-1zM299 379h2v1h-2zM396 379h1v1h-1zM559 379h1v1h-1zM563 379h1v1h-1zM579 379h1v1h-1zM598 379h1v1h-1zM674 379h1v1h-1zM679 379h1v1h-1zM740 379h1v1h-1zM743 379h1v1h-1zM768 379h1v1h-1zM38 380h1v1h-1zM51 380h1v1h-1zM181 380h1v1h-1zM183 380h1v1h-1zM298 380h1v1h-1zM577 380h2v1h-2zM598 380h1v1h-1zM675 380h1v1h-1zM742 380h1v1h-1zM769 380h2v1h-2zM39 381h1v1h-1zM50 381h1v1h-1zM182 381h1v1h-1zM369 381h2v1h-2zM39 382h1v1h-1zM50 382h1v1h-1zM368 382h1v1h-1zM774 382h1v1h-1zM780 382h1v1h-1zM775 383h2v1h-2zM781 383h2v1h-2zM41 386h1v1h-1zM48 386h1v1h-1zM42 387h1v1h-1zM48 387h1v1h-1zM43 388h1v1h-1zM47 388h1v1h-1z" fill="#ff0000" shape-rendering="crispEdges"/>
<path d="M117 316h1v1h-1zM117 317h3v1h-3zM116 318h1v1h-1zM120 318h1v1h-1zM488 318h1v1h-1zM116 319h1v1h-1zM121 319h1v1h-1zM160 319h1v1h-1zM214 319h1v1h-1zM472 319h2v1h-2zM488 319h2v1h-2zM116 320h1v1h-1zM122 320h1v1h-1zM159 320h1v1h-1zM161 320h1v1h-1zM214 320h2v1h-2zM470 320h2v1h-2zM474 320h2v1h-2zM488 320h1v1h-1zM490 320h1v1h-1zM115 321h1v1h-1zM122 321h1v1h-1zM159 321h1v1h-1zM161 321h1v1h-1zM214 321h2v1h-2zM270 321h1v1h-1zM382 321h1v1h-1zM468 321h2v1h-2zM476 321h1v1h-1zM488 321h1v1h-1zM491 321h1v1h-1zM20 322h2v1h-2zM115 322h1v1h-1zM123 322h1v1h-1zM158 322h1v1h-1zM162 322h1v1h-1zM214 322h1v1h-1zM216 322h1v1h-1zM270 322h2v1h-2zM381 322h1v1h-1zM383 322h1v1h-1zM467 322h1v1h-1zM477 322h1v1h-1zM487 322h1v1h-1zM491 322h1v1h-1zM20 323h1v1h-1zM22 323h3v1h-3zM115 323h1v1h-1zM124 323h1v1h-1zM157 323h1v1h-1zM162 323h1v1h-1zM214 323h1v1h-1zM216 323h1v1h-1zM269 323h1v1h-1zM272 323h1v1h-1zM308 323h2v1h-2zM332 323h1v1h-1zM381 323h1v1h-1zM384 323h1v1h-1zM466 323h1v1h-1zM478 323h1v1h-1zM487 323h1v1h-1zM492 323h1v1h-1zM512 323h1v1h-1zM19 324h1v1h-1zM24 324h1v1h-1zM115 324h1v1h-1zM124 324h1v1h-1zM157 324h1v1h-1zM163 324h1v1h-1zM213 324h1v1h-1zM217 324h1v1h-1zM269 324h1v1h-1zM272 324h1v1h-1zM306 324h2v1h-2zM309 324h1v1h-1zM331 324h1v1h-1zM333 324h1v1h-1zM352 324h1v1h-1zM380 324h1v1h-1zM384 324h1v1h-1zM466 324h1v1h-1zM478 324h1v1h-1zM487 324h1v1h-1zM493 324h1v1h-1zM512 324h2v1h-2zM608 324h1v1h-1zM631 324h1v1h-1zM19 325h1v1h-1zM24 325h1v1h-1zM114 325h1v1h-1zM125 325h1v1h-1zM157 325h1v1h-1zM163 325h1v1h-1zM190 325h1v1h-1zM213 325h1v1h-1zM217 325h1v1h-1zM268 325h1v1h-1zM273 325h1v1h-1zM306 325h1v1h-1zM309 325h1v1h-1zM331 325h1v1h-1zM334 325h1v1h-1zM351 325h1v1h-1zM353 325h1v1h-1zM380 325h1v1h-1zM385 325h1v1h-1zM465 325h1v1h-1zM478 325h1v1h-1zM487 325h1v1h-1zM494 325h1v1h-1zM499 325h2v1h-2zM512 325h2v1h-2zM607 325h1v1h-1zM609 325h1v1h-1zM630 325h1v1h-1zM632 325h1v1h-1zM722 325h1v1h-1zM18 326h1v1h-1zM24 326h1v1h-1zM76 326h1v1h-1zM114 326h1v1h-1zM125 326h1v1h-1zM156 326h1v1h-1zM164 326h1v1h-1zM190 326h1v1h-1zM213 326h1v1h-1zM217 326h1v1h-1zM268 326h1v1h-1zM273 326h1v1h-1zM306 326h1v1h-1zM310 326h1v1h-1zM330 326h1v1h-1zM335 326h1v1h-1zM351 326h1v1h-1zM353 326h1v1h-1zM380 326h1v1h-1zM385 326h1v1h-1zM465 326h1v1h-1zM479 326h1v1h-1zM487 326h1v1h-1zM494 326h1v1h-1zM496 326h3v1h-3zM501 326h1v1h-1zM511 326h1v1h-1zM514 326h1v1h-1zM607 326h1v1h-1zM610 326h1v1h-1zM629 326h1v1h-1zM632 326h1v1h-1zM722 326h2v1h-2zM18 327h1v1h-1zM25 327h1v1h-1zM75 327h1v1h-1zM77 327h1v1h-1zM114 327h1v1h-1zM125 327h1v1h-1zM156 327h1v1h-1zM164 327h1v1h-1zM189 327h1v1h-1zM191 327h1v1h-1zM213 327h1v1h-1zM217 327h1v1h-1zM244 327h1v1h-1zM268 327h1v1h-1zM274 327h1v1h-1zM306 327h1v1h-1zM310 327h1v1h-1zM330 327h1v1h-1zM336 327h1v1h-1zM350 327h1v1h-1zM354 327h1v1h-1zM379 327h1v1h-1zM385 327h1v1h-1zM426 327h2v1h-2zM464 327h1v1h-1zM479 327h1v1h-1zM487 327h1v1h-1zM495 327h1v1h-1zM502 327h1v1h-1zM511 327h1v1h-1zM514 327h1v1h-1zM606 327h1v1h-1zM610 327h1v1h-1zM628 327h1v1h-1zM633 327h1v1h-1zM721 327h1v1h-1zM723 327h1v1h-1zM18 328h1v1h-1zM25 328h1v1h-1zM75 328h1v1h-1zM78 328h1v1h-1zM114 328h1v1h-1zM126 328h1v1h-1zM156 328h1v1h-1zM165 328h1v1h-1zM189 328h1v1h-1zM191 328h1v1h-1zM213 328h1v1h-1zM218 328h1v1h-1zM244 328h1v1h-1zM268 328h1v1h-1zM274 328h1v1h-1zM305 328h1v1h-1zM310 328h1v1h-1zM330 328h1v1h-1zM336 328h1v1h-1zM350 328h1v1h-1zM355 328h1v1h-1zM379 328h1v1h-1zM386 328h1v1h-1zM424 328h2v1h-2zM428 328h1v1h-1zM445 328h1v1h-1zM464 328h1v1h-1zM479 328h1v1h-1zM487 328h1v1h-1zM503 328h1v1h-1zM511 328h1v1h-1zM515 328h1v1h-1zM606 328h1v1h-1zM611 328h1v1h-1zM628 328h1v1h-1zM633 328h1v1h-1zM721 328h1v1h-1zM724 328h1v1h-1zM18 329h1v1h-1zM25 329h1v1h-1zM74 329h1v1h-1zM78 329h1v1h-1zM88 329h1v1h-1zM114 329h1v1h-1zM126 329h1v1h-1zM156 329h1v1h-1zM165 329h1v1h-1zM189 329h1v1h-1zM191 329h1v1h-1zM213 329h1v1h-1zM218 329h1v1h-1zM244 329h1v1h-1zM268 329h1v1h-1zM275 329h1v1h-1zM305 329h1v1h-1zM310 329h1v1h-1zM329 329h1v1h-1zM337 329h1v1h-1zM349 329h1v1h-1zM356 329h1v1h-1zM379 329h1v1h-1zM386 329h1v1h-1zM424 329h1v1h-1zM429 329h1v1h-1zM445 329h2v1h-2zM463 329h1v1h-1zM479 329h1v1h-1zM486 329h1v1h-1zM503 329h1v1h-1zM510 329h1v1h-1zM516 329h1v1h-1zM606 329h1v1h-1zM611 329h1v1h-1zM623 329h1v1h-1zM627 329h1v1h-1zM634 329h1v1h-1zM721 329h1v1h-1zM724 329h1v1h-1zM18 330h1v1h-1zM25 330h1v1h-1zM74 330h1v1h-1zM79 330h1v1h-1zM87 330h1v1h-1zM89 330h1v1h-1zM113 330h1v1h-1zM126 330h1v1h-1zM156 330h1v1h-1zM166 330h1v1h-1zM188 330h1v1h-1zM191 330h1v1h-1zM213 330h1v1h-1zM218 330h1v1h-1zM244 330h1v1h-1zM267 330h1v1h-1zM275 330h1v1h-1zM305 330h1v1h-1zM311 330h1v1h-1zM329 330h1v1h-1zM337 330h1v1h-1zM349 330h1v1h-1zM356 330h1v1h-1zM379 330h1v1h-1zM386 330h1v1h-1zM424 330h1v1h-1zM430 330h1v1h-1zM444 330h1v1h-1zM447 330h1v1h-1zM463 330h1v1h-1zM480 330h1v1h-1zM486 330h1v1h-1zM504 330h1v1h-1zM510 330h1v1h-1zM517 330h1v1h-1zM605 330h1v1h-1zM611 330h1v1h-1zM623 330h3v1h-3zM627 330h1v1h-1zM634 330h1v1h-1zM720 330h1v1h-1zM725 330h1v1h-1zM17 331h1v1h-1zM25 331h1v1h-1zM74 331h1v1h-1zM80 331h1v1h-1zM87 331h1v1h-1zM89 331h1v1h-1zM107 331h1v1h-1zM113 331h1v1h-1zM126 331h1v1h-1zM156 331h1v1h-1zM167 331h1v1h-1zM188 331h1v1h-1zM192 331h1v1h-1zM213 331h1v1h-1zM218 331h1v1h-1zM243 331h1v1h-1zM245 331h1v1h-1zM267 331h1v1h-1zM276 331h1v1h-1zM305 331h1v1h-1zM311 331h1v1h-1zM329 331h1v1h-1zM338 331h1v1h-1zM349 331h1v1h-1zM357 331h1v1h-1zM379 331h1v1h-1zM386 331h1v1h-1zM405 331h1v1h-1zM423 331h1v1h-1zM430 331h1v1h-1zM444 331h1v1h-1zM448 331h1v1h-1zM463 331h1v1h-1zM480 331h1v1h-1zM486 331h1v1h-1zM504 331h1v1h-1zM509 331h1v1h-1zM518 331h1v1h-1zM605 331h1v1h-1zM612 331h1v1h-1zM623 331h1v1h-1zM626 331h1v1h-1zM634 331h1v1h-1zM661 331h1v1h-1zM696 331h1v1h-1zM720 331h1v1h-1zM726 331h1v1h-1zM17 332h1v1h-1zM25 332h1v1h-1zM73 332h1v1h-1zM80 332h1v1h-1zM86 332h1v1h-1zM90 332h1v1h-1zM106 332h2v1h-2zM113 332h1v1h-1zM126 332h1v1h-1zM155 332h1v1h-1zM167 332h1v1h-1zM188 332h1v1h-1zM192 332h1v1h-1zM212 332h1v1h-1zM219 332h1v1h-1zM243 332h1v1h-1zM245 332h1v1h-1zM267 332h1v1h-1zM276 332h1v1h-1zM305 332h1v1h-1zM311 332h1v1h-1zM329 332h1v1h-1zM338 332h1v1h-1zM349 332h1v1h-1zM357 332h1v1h-1zM378 332h1v1h-1zM386 332h1v1h-1zM405 332h1v1h-1zM423 332h1v1h-1zM430 332h1v1h-1zM444 332h1v1h-1zM449 332h1v1h-1zM462 332h1v1h-1zM480 332h1v1h-1zM486 332h1v1h-1zM504 332h1v1h-1zM508 332h1v1h-1zM519 332h1v1h-1zM534 332h1v1h-1zM605 332h1v1h-1zM612 332h1v1h-1zM623 332h1v1h-1zM634 332h1v1h-1zM660 332h2v1h-2zM696 332h1v1h-1zM720 332h1v1h-1zM726 332h1v1h-1zM17 333h1v1h-1zM26 333h1v1h-1zM73 333h1v1h-1zM81 333h1v1h-1zM85 333h1v1h-1zM90 333h1v1h-1zM105 333h1v1h-1zM108 333h1v1h-1zM113 333h1v1h-1zM126 333h1v1h-1zM155 333h1v1h-1zM168 333h1v1h-1zM188 333h1v1h-1zM192 333h1v1h-1zM212 333h1v1h-1zM219 333h1v1h-1zM243 333h1v1h-1zM245 333h1v1h-1zM267 333h1v1h-1zM276 333h1v1h-1zM305 333h1v1h-1zM311 333h1v1h-1zM329 333h1v1h-1zM338 333h1v1h-1zM348 333h1v1h-1zM357 333h1v1h-1zM378 333h1v1h-1zM386 333h1v1h-1zM405 333h2v1h-2zM423 333h1v1h-1zM431 333h1v1h-1zM443 333h1v1h-1zM449 333h1v1h-1zM462 333h1v1h-1zM480 333h1v1h-1zM486 333h1v1h-1zM505 333h1v1h-1zM508 333h1v1h-1zM519 333h1v1h-1zM534 333h2v1h-2zM605 333h1v1h-1zM612 333h1v1h-1zM623 333h1v1h-1zM635 333h1v1h-1zM660 333h2v1h-2zM696 333h2v1h-2zM720 333h1v1h-1zM727 333h1v1h-1zM17 334h1v1h-1zM26 334h1v1h-1zM73 334h1v1h-1zM81 334h1v1h-1zM84 334h1v1h-1zM90 334h1v1h-1zM105 334h1v1h-1zM108 334h1v1h-1zM112 334h1v1h-1zM127 334h1v1h-1zM155 334h1v1h-1zM168 334h1v1h-1zM188 334h1v1h-1zM192 334h1v1h-1zM212 334h1v1h-1zM219 334h1v1h-1zM243 334h1v1h-1zM245 334h1v1h-1zM267 334h1v1h-1zM276 334h1v1h-1zM305 334h1v1h-1zM311 334h1v1h-1zM328 334h1v1h-1zM338 334h1v1h-1zM348 334h1v1h-1zM358 334h1v1h-1zM378 334h1v1h-1zM387 334h1v1h-1zM404 334h1v1h-1zM406 334h1v1h-1zM423 334h1v1h-1zM431 334h1v1h-1zM443 334h1v1h-1zM450 334h1v1h-1zM462 334h1v1h-1zM480 334h1v1h-1zM486 334h1v1h-1zM505 334h1v1h-1zM507 334h1v1h-1zM520 334h1v1h-1zM534 334h1v1h-1zM536 334h1v1h-1zM605 334h1v1h-1zM612 334h1v1h-1zM623 334h1v1h-1zM635 334h1v1h-1zM659 334h1v1h-1zM661 334h1v1h-1zM696 334h2v1h-2zM719 334h1v1h-1zM727 334h2v1h-2zM17 335h1v1h-1zM26 335h1v1h-1zM73 335h1v1h-1zM82 335h2v1h-2zM91 335h1v1h-1zM104 335h1v1h-1zM108 335h1v1h-1zM112 335h1v1h-1zM127 335h1v1h-1zM155 335h1v1h-1zM169 335h1v1h-1zM188 335h1v1h-1zM192 335h1v1h-1zM212 335h1v1h-1zM219 335h1v1h-1zM243 335h1v1h-1zM245 335h1v1h-1zM267 335h1v1h-1zM276 335h1v1h-1zM304 335h1v1h-1zM311 335h1v1h-1zM328 335h1v1h-1zM338 335h1v1h-1zM348 335h1v1h-1zM358 335h1v1h-1zM378 335h1v1h-1zM387 335h1v1h-1zM404 335h1v1h-1zM406 335h1v1h-1zM422 335h1v1h-1zM431 335h1v1h-1zM443 335h1v1h-1zM451 335h1v1h-1zM461 335h1v1h-1zM480 335h1v1h-1zM486 335h1v1h-1zM505 335h1v1h-1zM507 335h1v1h-1zM520 335h1v1h-1zM533 335h1v1h-1zM537 335h1v1h-1zM605 335h1v1h-1zM612 335h1v1h-1zM623 335h1v1h-1zM635 335h1v1h-1zM659 335h1v1h-1zM661 335h1v1h-1zM696 335h1v1h-1zM698 335h1v1h-1zM719 335h1v1h-1zM729 335h2v1h-2zM17 336h1v1h-1zM26 336h1v1h-1zM73 336h1v1h-1zM82 336h1v1h-1zM91 336h1v1h-1zM104 336h1v1h-1zM109 336h1v1h-1zM112 336h1v1h-1zM127 336h1v1h-1zM155 336h1v1h-1zM169 336h1v1h-1zM187 336h1v1h-1zM192 336h1v1h-1zM212 336h1v1h-1zM219 336h1v1h-1zM243 336h1v1h-1zM245 336h1v1h-1zM266 336h1v1h-1zM276 336h1v1h-1zM304 336h1v1h-1zM311 336h1v1h-1zM328 336h1v1h-1zM338 336h1v1h-1zM348 336h1v1h-1zM358 336h1v1h-1zM378 336h1v1h-1zM387 336h1v1h-1zM404 336h1v1h-1zM406 336h1v1h-1zM422 336h1v1h-1zM431 336h1v1h-1zM443 336h1v1h-1zM451 336h1v1h-1zM461 336h1v1h-1zM480 336h1v1h-1zM486 336h1v1h-1zM505 336h1v1h-1zM507 336h1v1h-1zM521 336h1v1h-1zM533 336h1v1h-1zM538 336h1v1h-1zM542 336h1v1h-1zM604 336h1v1h-1zM612 336h1v1h-1zM622 336h1v1h-1zM635 336h1v1h-1zM658 336h1v1h-1zM661 336h1v1h-1zM696 336h1v1h-1zM698 336h1v1h-1zM719 336h1v1h-1zM730 336h1v1h-1zM16 337h1v1h-1zM26 337h1v1h-1zM73 337h1v1h-1zM91 337h1v1h-1zM103 337h1v1h-1zM109 337h1v1h-1zM111 337h1v1h-1zM127 337h1v1h-1zM155 337h1v1h-1zM169 337h1v1h-1zM187 337h1v1h-1zM192 337h1v1h-1zM212 337h1v1h-1zM219 337h1v1h-1zM242 337h1v1h-1zM246 337h1v1h-1zM266 337h1v1h-1zM276 337h1v1h-1zM304 337h1v1h-1zM312 337h1v1h-1zM328 337h1v1h-1zM339 337h1v1h-1zM348 337h1v1h-1zM358 337h1v1h-1zM378 337h1v1h-1zM387 337h1v1h-1zM404 337h1v1h-1zM407 337h1v1h-1zM422 337h1v1h-1zM431 337h1v1h-1zM443 337h1v1h-1zM452 337h1v1h-1zM461 337h1v1h-1zM480 337h1v1h-1zM486 337h1v1h-1zM506 337h1v1h-1zM521 337h1v1h-1zM533 337h1v1h-1zM538 337h1v1h-1zM540 337h2v1h-2zM543 337h1v1h-1zM604 337h1v1h-1zM613 337h1v1h-1zM622 337h1v1h-1zM635 337h1v1h-1zM658 337h1v1h-1zM661 337h1v1h-1zM686 337h1v1h-1zM695 337h1v1h-1zM698 337h1v1h-1zM719 337h1v1h-1zM731 337h1v1h-1zM16 338h1v1h-1zM26 338h1v1h-1zM72 338h1v1h-1zM91 338h1v1h-1zM103 338h1v1h-1zM109 338h1v1h-1zM111 338h1v1h-1zM127 338h1v1h-1zM154 338h1v1h-1zM169 338h1v1h-1zM187 338h1v1h-1zM193 338h1v1h-1zM212 338h1v1h-1zM219 338h1v1h-1zM242 338h1v1h-1zM246 338h1v1h-1zM266 338h1v1h-1zM277 338h1v1h-1zM304 338h1v1h-1zM312 338h1v1h-1zM328 338h1v1h-1zM339 338h1v1h-1zM348 338h1v1h-1zM359 338h1v1h-1zM378 338h1v1h-1zM387 338h1v1h-1zM403 338h1v1h-1zM407 338h1v1h-1zM421 338h1v1h-1zM431 338h1v1h-1zM442 338h1v1h-1zM452 338h1v1h-1zM461 338h1v1h-1zM481 338h1v1h-1zM485 338h1v1h-1zM506 338h1v1h-1zM521 338h1v1h-1zM533 338h1v1h-1zM539 338h1v1h-1zM543 338h1v1h-1zM604 338h1v1h-1zM613 338h1v1h-1zM622 338h1v1h-1zM635 338h1v1h-1zM657 338h1v1h-1zM662 338h1v1h-1zM686 338h1v1h-1zM695 338h1v1h-1zM698 338h1v1h-1zM719 338h1v1h-1zM731 338h1v1h-1zM16 339h1v1h-1zM26 339h1v1h-1zM72 339h1v1h-1zM91 339h1v1h-1zM102 339h1v1h-1zM110 339h1v1h-1zM127 339h1v1h-1zM154 339h1v1h-1zM169 339h1v1h-1zM187 339h1v1h-1zM193 339h1v1h-1zM212 339h1v1h-1zM219 339h1v1h-1zM242 339h1v1h-1zM246 339h1v1h-1zM266 339h1v1h-1zM277 339h1v1h-1zM304 339h1v1h-1zM312 339h1v1h-1zM327 339h1v1h-1zM339 339h1v1h-1zM347 339h1v1h-1zM359 339h1v1h-1zM377 339h1v1h-1zM387 339h1v1h-1zM403 339h1v1h-1zM407 339h1v1h-1zM421 339h1v1h-1zM432 339h1v1h-1zM442 339h1v1h-1zM452 339h1v1h-1zM461 339h1v1h-1zM481 339h1v1h-1zM485 339h1v1h-1zM522 339h1v1h-1zM533 339h1v1h-1zM544 339h1v1h-1zM604 339h1v1h-1zM613 339h1v1h-1zM622 339h1v1h-1zM636 339h1v1h-1zM657 339h1v1h-1zM662 339h1v1h-1zM686 339h2v1h-2zM695 339h1v1h-1zM698 339h1v1h-1zM719 339h1v1h-1zM732 339h1v1h-1zM16 340h1v1h-1zM26 340h1v1h-1zM72 340h1v1h-1zM91 340h1v1h-1zM101 340h1v1h-1zM110 340h1v1h-1zM127 340h1v1h-1zM154 340h1v1h-1zM169 340h1v1h-1zM187 340h1v1h-1zM193 340h1v1h-1zM212 340h1v1h-1zM220 340h1v1h-1zM242 340h1v1h-1zM246 340h1v1h-1zM266 340h1v1h-1zM277 340h1v1h-1zM304 340h1v1h-1zM312 340h1v1h-1zM327 340h1v1h-1zM339 340h1v1h-1zM347 340h1v1h-1zM359 340h1v1h-1zM377 340h1v1h-1zM387 340h1v1h-1zM403 340h1v1h-1zM407 340h1v1h-1zM421 340h1v1h-1zM432 340h1v1h-1zM442 340h1v1h-1zM452 340h1v1h-1zM461 340h1v1h-1zM481 340h1v1h-1zM485 340h1v1h-1zM522 340h1v1h-1zM532 340h1v1h-1zM544 340h1v1h-1zM590 340h1v1h-1zM604 340h1v1h-1zM613 340h1v1h-1zM622 340h1v1h-1zM636 340h1v1h-1zM657 340h1v1h-1zM662 340h1v1h-1zM686 340h2v1h-2zM695 340h1v1h-1zM699 340h1v1h-1zM718 340h1v1h-1zM732 340h1v1h-1zM16 341h1v1h-1zM27 341h1v1h-1zM72 341h1v1h-1zM92 341h1v1h-1zM101 341h1v1h-1zM128 341h1v1h-1zM154 341h1v1h-1zM170 341h1v1h-1zM187 341h1v1h-1zM193 341h1v1h-1zM212 341h1v1h-1zM220 341h1v1h-1zM242 341h1v1h-1zM246 341h1v1h-1zM266 341h1v1h-1zM277 341h1v1h-1zM304 341h1v1h-1zM312 341h1v1h-1zM323 341h1v1h-1zM327 341h1v1h-1zM339 341h1v1h-1zM347 341h1v1h-1zM359 341h1v1h-1zM377 341h1v1h-1zM387 341h1v1h-1zM403 341h1v1h-1zM408 341h1v1h-1zM421 341h1v1h-1zM432 341h1v1h-1zM442 341h1v1h-1zM452 341h1v1h-1zM460 341h1v1h-1zM481 341h1v1h-1zM485 341h1v1h-1zM522 341h1v1h-1zM532 341h1v1h-1zM544 341h1v1h-1zM590 341h1v1h-1zM603 341h1v1h-1zM613 341h1v1h-1zM622 341h1v1h-1zM636 341h1v1h-1zM657 341h1v1h-1zM662 341h1v1h-1zM685 341h1v1h-1zM687 341h1v1h-1zM695 341h1v1h-1zM699 341h1v1h-1zM718 341h1v1h-1zM732 341h1v1h-1zM16 342h1v1h-1zM27 342h1v1h-1zM56 342h1v1h-1zM72 342h1v1h-1zM92 342h1v1h-1zM100 342h1v1h-1zM128 342h1v1h-1zM154 342h1v1h-1zM170 342h1v1h-1zM187 342h1v1h-1zM193 342h1v1h-1zM212 342h1v1h-1zM220 342h1v1h-1zM228 342h1v1h-1zM242 342h1v1h-1zM246 342h1v1h-1zM265 342h1v1h-1zM277 342h1v1h-1zM303 342h1v1h-1zM312 342h1v1h-1zM322 342h2v1h-2zM327 342h1v1h-1zM339 342h1v1h-1zM347 342h1v1h-1zM359 342h1v1h-1zM377 342h1v1h-1zM387 342h1v1h-1zM403 342h1v1h-1zM408 342h1v1h-1zM420 342h1v1h-1zM432 342h1v1h-1zM442 342h1v1h-1zM453 342h1v1h-1zM460 342h1v1h-1zM481 342h1v1h-1zM485 342h1v1h-1zM522 342h1v1h-1zM532 342h1v1h-1zM545 342h1v1h-1zM589 342h2v1h-2zM603 342h1v1h-1zM613 342h1v1h-1zM622 342h1v1h-1zM636 342h1v1h-1zM656 342h1v1h-1zM662 342h1v1h-1zM685 342h1v1h-1zM687 342h1v1h-1zM695 342h1v1h-1zM699 342h1v1h-1zM718 342h1v1h-1zM732 342h1v1h-1zM16 343h1v1h-1zM27 343h1v1h-1zM56 343h1v1h-1zM72 343h1v1h-1zM92 343h1v1h-1zM99 343h1v1h-1zM128 343h1v1h-1zM136 343h1v1h-1zM154 343h1v1h-1zM170 343h1v1h-1zM187 343h1v1h-1zM193 343h1v1h-1zM212 343h1v1h-1zM220 343h1v1h-1zM228 343h1v1h-1zM241 343h1v1h-1zM246 343h1v1h-1zM265 343h1v1h-1zM277 343h1v1h-1zM303 343h1v1h-1zM312 343h1v1h-1zM321 343h1v1h-1zM323 343h1v1h-1zM327 343h1v1h-1zM339 343h1v1h-1zM347 343h1v1h-1zM359 343h1v1h-1zM377 343h1v1h-1zM388 343h1v1h-1zM403 343h1v1h-1zM408 343h1v1h-1zM420 343h1v1h-1zM432 343h1v1h-1zM442 343h1v1h-1zM453 343h1v1h-1zM460 343h1v1h-1zM481 343h1v1h-1zM485 343h1v1h-1zM523 343h1v1h-1zM532 343h1v1h-1zM545 343h1v1h-1zM589 343h2v1h-2zM603 343h1v1h-1zM613 343h1v1h-1zM622 343h1v1h-1zM636 343h1v1h-1zM656 343h1v1h-1zM662 343h1v1h-1zM685 343h1v1h-1zM688 343h1v1h-1zM695 343h1v1h-1zM699 343h1v1h-1zM718 343h1v1h-1zM732 343h1v1h-1zM748 343h1v1h-1zM15 344h1v1h-1zM27 344h1v1h-1zM55 344h2v1h-2zM72 344h1v1h-1zM92 344h1v1h-1zM98 344h1v1h-1zM128 344h1v1h-1zM136 344h1v1h-1zM153 344h1v1h-1zM170 344h1v1h-1zM187 344h1v1h-1zM193 344h1v1h-1zM211 344h1v1h-1zM220 344h1v1h-1zM228 344h1v1h-1zM241 344h1v1h-1zM247 344h1v1h-1zM265 344h1v1h-1zM277 344h1v1h-1zM303 344h1v1h-1zM312 344h1v1h-1zM320 344h1v1h-1zM324 344h1v1h-1zM326 344h1v1h-1zM339 344h1v1h-1zM347 344h1v1h-1zM359 344h1v1h-1zM377 344h1v1h-1zM388 344h1v1h-1zM402 344h1v1h-1zM408 344h1v1h-1zM420 344h1v1h-1zM432 344h1v1h-1zM441 344h1v1h-1zM453 344h1v1h-1zM460 344h1v1h-1zM481 344h1v1h-1zM485 344h1v1h-1zM523 344h1v1h-1zM532 344h1v1h-1zM545 344h1v1h-1zM589 344h1v1h-1zM591 344h1v1h-1zM603 344h1v1h-1zM613 344h1v1h-1zM622 344h1v1h-1zM636 344h1v1h-1zM656 344h1v1h-1zM662 344h1v1h-1zM685 344h1v1h-1zM688 344h1v1h-1zM695 344h1v1h-1zM699 344h1v1h-1zM712 344h2v1h-2zM718 344h1v1h-1zM733 344h1v1h-1zM748 344h1v1h-1zM15 345h1v1h-1zM27 345h1v1h-1zM55 345h1v1h-1zM57 345h1v1h-1zM71 345h1v1h-1zM92 345h1v1h-1zM98 345h1v1h-1zM128 345h1v1h-1zM136 345h2v1h-2zM153 345h1v1h-1zM170 345h1v1h-1zM187 345h1v1h-1zM193 345h1v1h-1zM211 345h1v1h-1zM220 345h1v1h-1zM227 345h2v1h-2zM241 345h1v1h-1zM247 345h1v1h-1zM265 345h1v1h-1zM277 345h1v1h-1zM303 345h1v1h-1zM312 345h1v1h-1zM320 345h1v1h-1zM324 345h1v1h-1zM326 345h1v1h-1zM339 345h1v1h-1zM347 345h1v1h-1zM360 345h1v1h-1zM377 345h1v1h-1zM388 345h1v1h-1zM402 345h1v1h-1zM408 345h1v1h-1zM419 345h1v1h-1zM432 345h1v1h-1zM441 345h1v1h-1zM453 345h1v1h-1zM460 345h1v1h-1zM481 345h1v1h-1zM485 345h1v1h-1zM523 345h1v1h-1zM532 345h1v1h-1zM546 345h1v1h-1zM588 345h1v1h-1zM591 345h1v1h-1zM603 345h1v1h-1zM613 345h1v1h-1zM622 345h1v1h-1zM636 345h1v1h-1zM656 345h1v1h-1zM662 345h1v1h-1zM685 345h1v1h-1zM688 345h1v1h-1zM695 345h1v1h-1zM699 345h1v1h-1zM711 345h1v1h-1zM713 345h1v1h-1zM718 345h1v1h-1zM733 345h1v1h-1zM747 345h1v1h-1zM749 345h1v1h-1zM15 346h1v1h-1zM27 346h1v1h-1zM55 346h1v1h-1zM57 346h1v1h-1zM71 346h1v1h-1zM92 346h1v1h-1zM97 346h1v1h-1zM128 346h1v1h-1zM136 346h2v1h-2zM153 346h1v1h-1zM170 346h1v1h-1zM186 346h1v1h-1zM193 346h1v1h-1zM211 346h1v1h-1zM220 346h1v1h-1zM227 346h1v1h-1zM229 346h1v1h-1zM241 346h1v1h-1zM247 346h1v1h-1zM265 346h1v1h-1zM277 346h1v1h-1zM303 346h1v1h-1zM312 346h1v1h-1zM319 346h1v1h-1zM324 346h1v1h-1zM326 346h1v1h-1zM339 346h1v1h-1zM347 346h1v1h-1zM360 346h1v1h-1zM377 346h1v1h-1zM388 346h1v1h-1zM402 346h1v1h-1zM409 346h1v1h-1zM419 346h1v1h-1zM432 346h1v1h-1zM441 346h1v1h-1zM453 346h1v1h-1zM460 346h1v1h-1zM481 346h1v1h-1zM485 346h1v1h-1zM523 346h1v1h-1zM531 346h1v1h-1zM546 346h1v1h-1zM588 346h1v1h-1zM591 346h1v1h-1zM603 346h1v1h-1zM614 346h1v1h-1zM622 346h1v1h-1zM636 346h1v1h-1zM656 346h1v1h-1zM662 346h1v1h-1zM685 346h1v1h-1zM688 346h1v1h-1zM695 346h1v1h-1zM699 346h1v1h-1zM711 346h1v1h-1zM714 346h1v1h-1zM717 346h1v1h-1zM733 346h1v1h-1zM747 346h1v1h-1zM749 346h1v1h-1zM15 347h1v1h-1zM27 347h1v1h-1zM54 347h1v1h-1zM57 347h1v1h-1zM71 347h1v1h-1zM93 347h1v1h-1zM96 347h1v1h-1zM128 347h1v1h-1zM135 347h1v1h-1zM137 347h1v1h-1zM153 347h1v1h-1zM170 347h1v1h-1zM186 347h1v1h-1zM193 347h1v1h-1zM211 347h1v1h-1zM220 347h1v1h-1zM227 347h1v1h-1zM229 347h1v1h-1zM241 347h1v1h-1zM247 347h1v1h-1zM265 347h1v1h-1zM277 347h1v1h-1zM303 347h1v1h-1zM313 347h1v1h-1zM319 347h1v1h-1zM324 347h1v1h-1zM326 347h1v1h-1zM340 347h1v1h-1zM346 347h1v1h-1zM360 347h1v1h-1zM377 347h1v1h-1zM388 347h1v1h-1zM402 347h1v1h-1zM409 347h1v1h-1zM419 347h1v1h-1zM432 347h1v1h-1zM441 347h1v1h-1zM453 347h1v1h-1zM460 347h1v1h-1zM481 347h1v1h-1zM485 347h1v1h-1zM524 347h1v1h-1zM531 347h1v1h-1zM546 347h1v1h-1zM588 347h1v1h-1zM591 347h1v1h-1zM602 347h1v1h-1zM614 347h1v1h-1zM621 347h1v1h-1zM636 347h1v1h-1zM656 347h1v1h-1zM662 347h1v1h-1zM684 347h1v1h-1zM688 347h1v1h-1zM694 347h1v1h-1zM700 347h1v1h-1zM711 347h1v1h-1zM714 347h1v1h-1zM717 347h1v1h-1zM733 347h1v1h-1zM747 347h1v1h-1zM749 347h1v1h-1zM15 348h1v1h-1zM27 348h1v1h-1zM54 348h1v1h-1zM57 348h1v1h-1zM71 348h1v1h-1zM93 348h1v1h-1zM96 348h1v1h-1zM128 348h1v1h-1zM135 348h1v1h-1zM137 348h1v1h-1zM153 348h1v1h-1zM170 348h1v1h-1zM186 348h1v1h-1zM193 348h1v1h-1zM211 348h1v1h-1zM220 348h1v1h-1zM227 348h1v1h-1zM229 348h1v1h-1zM241 348h1v1h-1zM247 348h1v1h-1zM265 348h1v1h-1zM277 348h1v1h-1zM303 348h1v1h-1zM313 348h1v1h-1zM319 348h1v1h-1zM324 348h1v1h-1zM326 348h1v1h-1zM340 348h1v1h-1zM346 348h1v1h-1zM360 348h1v1h-1zM376 348h1v1h-1zM388 348h1v1h-1zM402 348h1v1h-1zM409 348h1v1h-1zM419 348h1v1h-1zM433 348h1v1h-1zM441 348h1v1h-1zM453 348h1v1h-1zM460 348h1v1h-1zM481 348h1v1h-1zM485 348h1v1h-1zM524 348h1v1h-1zM531 348h1v1h-1zM546 348h1v1h-1zM588 348h1v1h-1zM591 348h1v1h-1zM602 348h1v1h-1zM614 348h1v1h-1zM621 348h1v1h-1zM636 348h1v1h-1zM656 348h1v1h-1zM662 348h1v1h-1zM684 348h1v1h-1zM688 348h1v1h-1zM694 348h1v1h-1zM700 348h1v1h-1zM710 348h1v1h-1zM714 348h1v1h-1zM717 348h1v1h-1zM733 348h1v1h-1zM747 348h1v1h-1zM749 348h1v1h-1zM15 349h1v1h-1zM27 349h1v1h-1zM54 349h1v1h-1zM57 349h1v1h-1zM71 349h1v1h-1zM93 349h1v1h-1zM96 349h1v1h-1zM128 349h1v1h-1zM135 349h1v1h-1zM138 349h1v1h-1zM153 349h1v1h-1zM170 349h1v1h-1zM186 349h1v1h-1zM193 349h1v1h-1zM211 349h1v1h-1zM220 349h1v1h-1zM227 349h1v1h-1zM229 349h1v1h-1zM240 349h1v1h-1zM247 349h1v1h-1zM264 349h1v1h-1zM277 349h1v1h-1zM303 349h1v1h-1zM313 349h1v1h-1zM318 349h1v1h-1zM325 349h1v1h-1zM340 349h1v1h-1zM346 349h1v1h-1zM360 349h1v1h-1zM376 349h1v1h-1zM388 349h1v1h-1zM402 349h1v1h-1zM409 349h1v1h-1zM418 349h1v1h-1zM433 349h1v1h-1zM441 349h1v1h-1zM453 349h1v1h-1zM459 349h1v1h-1zM481 349h1v1h-1zM485 349h1v1h-1zM524 349h1v1h-1zM531 349h1v1h-1zM546 349h1v1h-1zM588 349h1v1h-1zM591 349h1v1h-1zM602 349h1v1h-1zM614 349h1v1h-1zM621 349h1v1h-1zM637 349h1v1h-1zM655 349h1v1h-1zM663 349h1v1h-1zM684 349h1v1h-1zM689 349h1v1h-1zM694 349h1v1h-1zM700 349h1v1h-1zM710 349h1v1h-1zM715 349h1v1h-1zM717 349h1v1h-1zM733 349h1v1h-1zM746 349h1v1h-1zM750 349h1v1h-1zM758 349h1v1h-1zM14 350h1v1h-1zM27 350h1v1h-1zM54 350h1v1h-1zM57 350h1v1h-1zM71 350h1v1h-1zM93 350h1v1h-1zM95 350h1v1h-1zM128 350h1v1h-1zM135 350h1v1h-1zM138 350h1v1h-1zM152 350h1v1h-1zM170 350h1v1h-1zM186 350h1v1h-1zM194 350h1v1h-1zM211 350h1v1h-1zM221 350h1v1h-1zM226 350h1v1h-1zM229 350h1v1h-1zM240 350h1v1h-1zM247 350h1v1h-1zM264 350h1v1h-1zM278 350h1v1h-1zM302 350h1v1h-1zM313 350h1v1h-1zM318 350h1v1h-1zM325 350h1v1h-1zM340 350h1v1h-1zM346 350h1v1h-1zM360 350h1v1h-1zM376 350h1v1h-1zM388 350h1v1h-1zM402 350h1v1h-1zM410 350h1v1h-1zM418 350h1v1h-1zM433 350h1v1h-1zM440 350h1v1h-1zM454 350h1v1h-1zM459 350h1v1h-1zM482 350h1v1h-1zM484 350h1v1h-1zM524 350h1v1h-1zM531 350h1v1h-1zM546 350h1v1h-1zM587 350h1v1h-1zM591 350h1v1h-1zM602 350h1v1h-1zM614 350h1v1h-1zM621 350h1v1h-1zM637 350h1v1h-1zM655 350h1v1h-1zM663 350h1v1h-1zM684 350h1v1h-1zM689 350h1v1h-1zM694 350h1v1h-1zM700 350h1v1h-1zM710 350h1v1h-1zM715 350h1v1h-1zM717 350h1v1h-1zM733 350h1v1h-1zM746 350h1v1h-1zM750 350h1v1h-1zM758 350h2v1h-2zM14 351h1v1h-1zM28 351h1v1h-1zM53 351h1v1h-1zM58 351h1v1h-1zM71 351h1v1h-1zM93 351h1v1h-1zM95 351h1v1h-1zM129 351h1v1h-1zM135 351h1v1h-1zM138 351h1v1h-1zM152 351h1v1h-1zM171 351h1v1h-1zM186 351h1v1h-1zM194 351h1v1h-1zM211 351h1v1h-1zM221 351h1v1h-1zM226 351h1v1h-1zM229 351h1v1h-1zM240 351h1v1h-1zM247 351h1v1h-1zM264 351h1v1h-1zM278 351h1v1h-1zM302 351h1v1h-1zM313 351h1v1h-1zM318 351h1v1h-1zM325 351h1v1h-1zM340 351h1v1h-1zM346 351h1v1h-1zM360 351h1v1h-1zM376 351h1v1h-1zM388 351h1v1h-1zM402 351h1v1h-1zM410 351h1v1h-1zM418 351h1v1h-1zM433 351h1v1h-1zM440 351h1v1h-1zM454 351h1v1h-1zM459 351h1v1h-1zM482 351h1v1h-1zM484 351h1v1h-1zM524 351h1v1h-1zM531 351h1v1h-1zM547 351h1v1h-1zM587 351h1v1h-1zM591 351h1v1h-1zM602 351h1v1h-1zM614 351h1v1h-1zM621 351h1v1h-1zM637 351h1v1h-1zM655 351h1v1h-1zM663 351h1v1h-1zM684 351h1v1h-1zM689 351h1v1h-1zM694 351h1v1h-1zM700 351h1v1h-1zM710 351h1v1h-1zM715 351h1v1h-1zM717 351h1v1h-1zM733 351h1v1h-1zM746 351h1v1h-1zM750 351h1v1h-1zM757 351h1v1h-1zM759 351h1v1h-1zM14 352h1v1h-1zM28 352h1v1h-1zM53 352h1v1h-1zM58 352h1v1h-1zM71 352h1v1h-1zM93 352h1v1h-1zM95 352h1v1h-1zM129 352h1v1h-1zM135 352h1v1h-1zM138 352h1v1h-1zM152 352h1v1h-1zM171 352h1v1h-1zM186 352h1v1h-1zM194 352h1v1h-1zM210 352h1v1h-1zM221 352h1v1h-1zM226 352h1v1h-1zM229 352h1v1h-1zM240 352h1v1h-1zM248 352h1v1h-1zM264 352h1v1h-1zM278 352h1v1h-1zM302 352h1v1h-1zM313 352h1v1h-1zM318 352h1v1h-1zM340 352h1v1h-1zM346 352h1v1h-1zM360 352h1v1h-1zM376 352h1v1h-1zM388 352h1v1h-1zM401 352h1v1h-1zM411 352h1v1h-1zM418 352h1v1h-1zM433 352h1v1h-1zM440 352h1v1h-1zM454 352h1v1h-1zM459 352h1v1h-1zM482 352h1v1h-1zM484 352h1v1h-1zM524 352h1v1h-1zM531 352h1v1h-1zM547 352h1v1h-1zM587 352h1v1h-1zM592 352h1v1h-1zM602 352h1v1h-1zM614 352h1v1h-1zM621 352h1v1h-1zM637 352h1v1h-1zM655 352h1v1h-1zM663 352h1v1h-1zM684 352h1v1h-1zM689 352h1v1h-1zM694 352h1v1h-1zM700 352h1v1h-1zM709 352h1v1h-1zM715 352h2v1h-2zM734 352h1v1h-1zM746 352h1v1h-1zM750 352h1v1h-1zM757 352h1v1h-1zM760 352h1v1h-1zM14 353h1v1h-1zM28 353h1v1h-1zM53 353h1v1h-1zM58 353h1v1h-1zM70 353h1v1h-1zM94 353h2v1h-2zM129 353h1v1h-1zM135 353h1v1h-1zM139 353h1v1h-1zM151 353h2v1h-2zM171 353h1v1h-1zM186 353h1v1h-1zM194 353h1v1h-1zM210 353h1v1h-1zM221 353h1v1h-1zM226 353h1v1h-1zM229 353h1v1h-1zM240 353h1v1h-1zM248 353h1v1h-1zM264 353h1v1h-1zM278 353h1v1h-1zM302 353h1v1h-1zM313 353h1v1h-1zM318 353h1v1h-1zM340 353h1v1h-1zM346 353h1v1h-1zM360 353h1v1h-1zM376 353h1v1h-1zM388 353h1v1h-1zM401 353h1v1h-1zM411 353h1v1h-1zM414 353h1v1h-1zM417 353h1v1h-1zM433 353h1v1h-1zM440 353h1v1h-1zM454 353h1v1h-1zM459 353h1v1h-1zM482 353h1v1h-1zM484 353h1v1h-1zM525 353h1v1h-1zM531 353h1v1h-1zM547 353h1v1h-1zM587 353h1v1h-1zM592 353h1v1h-1zM601 353h1v1h-1zM614 353h1v1h-1zM621 353h1v1h-1zM637 353h1v1h-1zM655 353h1v1h-1zM663 353h1v1h-1zM683 353h1v1h-1zM689 353h1v1h-1zM694 353h1v1h-1zM700 353h1v1h-1zM709 353h1v1h-1zM716 353h1v1h-1zM734 353h1v1h-1zM745 353h1v1h-1zM751 353h1v1h-1zM756 353h1v1h-1zM760 353h1v1h-1zM14 354h1v1h-1zM28 354h1v1h-1zM53 354h1v1h-1zM58 354h1v1h-1zM70 354h1v1h-1zM94 354h1v1h-1zM129 354h1v1h-1zM134 354h1v1h-1zM139 354h1v1h-1zM150 354h1v1h-1zM171 354h1v1h-1zM186 354h1v1h-1zM194 354h1v1h-1zM210 354h1v1h-1zM221 354h1v1h-1zM226 354h1v1h-1zM230 354h1v1h-1zM240 354h1v1h-1zM248 354h1v1h-1zM263 354h1v1h-1zM278 354h1v1h-1zM302 354h1v1h-1zM313 354h1v1h-1zM317 354h1v1h-1zM340 354h1v1h-1zM346 354h1v1h-1zM360 354h1v1h-1zM376 354h1v1h-1zM388 354h1v1h-1zM401 354h1v1h-1zM411 354h1v1h-1zM413 354h1v1h-1zM415 354h3v1h-3zM433 354h1v1h-1zM440 354h1v1h-1zM454 354h1v1h-1zM458 354h1v1h-1zM482 354h1v1h-1zM484 354h1v1h-1zM525 354h1v1h-1zM530 354h1v1h-1zM547 354h1v1h-1zM586 354h1v1h-1zM592 354h1v1h-1zM601 354h1v1h-1zM614 354h1v1h-1zM621 354h1v1h-1zM637 354h1v1h-1zM655 354h1v1h-1zM663 354h1v1h-1zM683 354h1v1h-1zM689 354h1v1h-1zM694 354h1v1h-1zM701 354h1v1h-1zM709 354h1v1h-1zM716 354h1v1h-1zM734 354h1v1h-1zM745 354h1v1h-1zM751 354h1v1h-1zM756 354h1v1h-1zM761 354h1v1h-1zM14 355h1v1h-1zM28 355h1v1h-1zM53 355h1v1h-1zM58 355h1v1h-1zM70 355h1v1h-1zM94 355h1v1h-1zM129 355h1v1h-1zM134 355h1v1h-1zM139 355h1v1h-1zM149 355h1v1h-1zM171 355h1v1h-1zM186 355h1v1h-1zM194 355h1v1h-1zM209 355h1v1h-1zM221 355h1v1h-1zM225 355h1v1h-1zM230 355h1v1h-1zM239 355h1v1h-1zM248 355h1v1h-1zM263 355h1v1h-1zM278 355h1v1h-1zM302 355h1v1h-1zM314 355h1v1h-1zM317 355h1v1h-1zM341 355h1v1h-1zM345 355h1v1h-1zM361 355h1v1h-1zM376 355h1v1h-1zM389 355h1v1h-1zM401 355h1v1h-1zM412 355h2v1h-2zM417 355h1v1h-1zM433 355h1v1h-1zM440 355h1v1h-1zM454 355h1v1h-1zM458 355h1v1h-1zM482 355h3v1h-3zM525 355h1v1h-1zM530 355h1v1h-1zM547 355h1v1h-1zM586 355h1v1h-1zM592 355h1v1h-1zM601 355h1v1h-1zM614 355h1v1h-1zM620 355h1v1h-1zM637 355h1v1h-1zM655 355h1v1h-1zM663 355h1v1h-1zM683 355h1v1h-1zM689 355h1v1h-1zM694 355h1v1h-1zM701 355h1v1h-1zM709 355h1v1h-1zM734 355h1v1h-1zM745 355h1v1h-1zM752 355h1v1h-1zM755 355h1v1h-1zM761 355h1v1h-1zM13 356h1v1h-1zM28 356h1v1h-1zM53 356h1v1h-1zM59 356h1v1h-1zM70 356h1v1h-1zM129 356h1v1h-1zM134 356h1v1h-1zM139 356h1v1h-1zM149 356h1v1h-1zM171 356h1v1h-1zM185 356h1v1h-1zM194 356h1v1h-1zM206 356h1v1h-1zM209 356h1v1h-1zM221 356h1v1h-1zM225 356h1v1h-1zM230 356h1v1h-1zM239 356h1v1h-1zM248 356h1v1h-1zM262 356h1v1h-1zM278 356h1v1h-1zM302 356h1v1h-1zM314 356h1v1h-1zM317 356h1v1h-1zM341 356h1v1h-1zM345 356h1v1h-1zM361 356h1v1h-1zM376 356h1v1h-1zM389 356h1v1h-1zM401 356h1v1h-1zM412 356h1v1h-1zM433 356h1v1h-1zM440 356h1v1h-1zM455 356h1v1h-1zM458 356h1v1h-1zM525 356h1v1h-1zM530 356h1v1h-1zM547 356h1v1h-1zM585 356h1v1h-1zM592 356h1v1h-1zM601 356h1v1h-1zM614 356h1v1h-1zM620 356h1v1h-1zM637 356h1v1h-1zM654 356h1v1h-1zM663 356h1v1h-1zM683 356h1v1h-1zM689 356h1v1h-1zM694 356h1v1h-1zM701 356h1v1h-1zM709 356h1v1h-1zM734 356h1v1h-1zM744 356h1v1h-1zM753 356h1v1h-1zM755 356h1v1h-1zM761 356h1v1h-1zM13 357h1v1h-1zM28 357h1v1h-1zM52 357h1v1h-1zM59 357h1v1h-1zM70 357h1v1h-1zM129 357h1v1h-1zM134 357h1v1h-1zM140 357h1v1h-1zM148 357h1v1h-1zM171 357h1v1h-1zM185 357h1v1h-1zM194 357h1v1h-1zM205 357h1v1h-1zM207 357h1v1h-1zM209 357h1v1h-1zM221 357h1v1h-1zM225 357h1v1h-1zM230 357h1v1h-1zM239 357h1v1h-1zM248 357h1v1h-1zM262 357h1v1h-1zM278 357h1v1h-1zM302 357h1v1h-1zM314 357h1v1h-1zM317 357h1v1h-1zM341 357h1v1h-1zM345 357h1v1h-1zM361 357h1v1h-1zM375 357h1v1h-1zM389 357h1v1h-1zM401 357h1v1h-1zM433 357h1v1h-1zM440 357h1v1h-1zM455 357h1v1h-1zM458 357h1v1h-1zM525 357h1v1h-1zM530 357h1v1h-1zM547 357h1v1h-1zM582 357h1v1h-1zM585 357h1v1h-1zM592 357h1v1h-1zM601 357h1v1h-1zM614 357h1v1h-1zM620 357h1v1h-1zM637 357h1v1h-1zM654 357h1v1h-1zM664 357h1v1h-1zM682 357h1v1h-1zM689 357h1v1h-1zM693 357h1v1h-1zM701 357h1v1h-1zM708 357h1v1h-1zM734 357h1v1h-1zM744 357h1v1h-1zM754 357h1v1h-1zM761 357h1v1h-1zM13 358h1v1h-1zM29 358h1v1h-1zM52 358h1v1h-1zM59 358h1v1h-1zM70 358h1v1h-1zM130 358h1v1h-1zM134 358h1v1h-1zM140 358h1v1h-1zM147 358h1v1h-1zM171 358h1v1h-1zM185 358h1v1h-1zM194 358h1v1h-1zM205 358h1v1h-1zM207 358h2v1h-2zM221 358h1v1h-1zM225 358h1v1h-1zM230 358h1v1h-1zM239 358h1v1h-1zM249 358h1v1h-1zM261 358h1v1h-1zM278 358h1v1h-1zM301 358h1v1h-1zM314 358h1v1h-1zM317 358h1v1h-1zM341 358h1v1h-1zM345 358h1v1h-1zM361 358h1v1h-1zM375 358h1v1h-1zM389 358h1v1h-1zM400 358h1v1h-1zM434 358h1v1h-1zM439 358h1v1h-1zM455 358h1v1h-1zM457 358h1v1h-1zM525 358h1v1h-1zM530 358h1v1h-1zM547 358h1v1h-1zM582 358h3v1h-3zM592 358h1v1h-1zM601 358h1v1h-1zM615 358h1v1h-1zM620 358h1v1h-1zM638 358h1v1h-1zM654 358h1v1h-1zM664 358h1v1h-1zM682 358h1v1h-1zM689 358h1v1h-1zM693 358h1v1h-1zM701 358h1v1h-1zM708 358h1v1h-1zM734 358h1v1h-1zM744 358h1v1h-1zM761 358h1v1h-1zM13 359h1v1h-1zM29 359h1v1h-1zM52 359h1v1h-1zM59 359h1v1h-1zM70 359h1v1h-1zM130 359h1v1h-1zM134 359h1v1h-1zM140 359h1v1h-1zM147 359h1v1h-1zM171 359h1v1h-1zM185 359h1v1h-1zM195 359h1v1h-1zM204 359h1v1h-1zM208 359h1v1h-1zM221 359h1v1h-1zM225 359h1v1h-1zM230 359h1v1h-1zM239 359h1v1h-1zM249 359h1v1h-1zM261 359h1v1h-1zM278 359h1v1h-1zM301 359h1v1h-1zM315 359h1v1h-1zM317 359h1v1h-1zM341 359h1v1h-1zM345 359h1v1h-1zM361 359h1v1h-1zM375 359h1v1h-1zM389 359h1v1h-1zM400 359h1v1h-1zM434 359h1v1h-1zM439 359h1v1h-1zM455 359h1v1h-1zM457 359h1v1h-1zM526 359h1v1h-1zM530 359h1v1h-1zM548 359h1v1h-1zM566 359h1v1h-1zM582 359h1v1h-1zM592 359h1v1h-1zM601 359h1v1h-1zM615 359h1v1h-1zM620 359h1v1h-1zM638 359h1v1h-1zM654 359h1v1h-1zM664 359h1v1h-1zM682 359h1v1h-1zM690 359h1v1h-1zM693 359h1v1h-1zM701 359h1v1h-1zM708 359h1v1h-1zM734 359h1v1h-1zM744 359h1v1h-1zM762 359h1v1h-1zM12 360h1v1h-1zM29 360h1v1h-1zM52 360h1v1h-1zM60 360h1v1h-1zM70 360h1v1h-1zM130 360h1v1h-1zM134 360h1v1h-1zM140 360h1v1h-1zM146 360h1v1h-1zM172 360h1v1h-1zM185 360h1v1h-1zM195 360h1v1h-1zM204 360h1v1h-1zM222 360h1v1h-1zM225 360h1v1h-1zM230 360h1v1h-1zM239 360h1v1h-1zM249 360h1v1h-1zM259 360h2v1h-2zM278 360h1v1h-1zM301 360h1v1h-1zM315 360h1v1h-1zM317 360h1v1h-1zM342 360h1v1h-1zM345 360h1v1h-1zM361 360h1v1h-1zM375 360h1v1h-1zM389 360h1v1h-1zM400 360h1v1h-1zM434 360h1v1h-1zM439 360h1v1h-1zM456 360h2v1h-2zM526 360h1v1h-1zM530 360h1v1h-1zM548 360h1v1h-1zM566 360h1v1h-1zM581 360h1v1h-1zM592 360h1v1h-1zM601 360h1v1h-1zM615 360h1v1h-1zM620 360h1v1h-1zM638 360h1v1h-1zM654 360h1v1h-1zM664 360h1v1h-1zM682 360h1v1h-1zM690 360h1v1h-1zM693 360h1v1h-1zM702 360h1v1h-1zM708 360h1v1h-1zM734 360h1v1h-1zM743 360h1v1h-1zM762 360h1v1h-1zM12 361h1v1h-1zM29 361h1v1h-1zM52 361h1v1h-1zM60 361h1v1h-1zM70 361h1v1h-1zM130 361h1v1h-1zM134 361h1v1h-1zM140 361h1v1h-1zM146 361h1v1h-1zM172 361h1v1h-1zM185 361h1v1h-1zM195 361h1v1h-1zM203 361h1v1h-1zM222 361h1v1h-1zM224 361h1v1h-1zM231 361h1v1h-1zM238 361h1v1h-1zM249 361h1v1h-1zM258 361h1v1h-1zM279 361h1v1h-1zM301 361h1v1h-1zM315 361h1v1h-1zM317 361h1v1h-1zM342 361h1v1h-1zM345 361h1v1h-1zM361 361h1v1h-1zM375 361h1v1h-1zM389 361h1v1h-1zM400 361h1v1h-1zM434 361h1v1h-1zM439 361h1v1h-1zM456 361h1v1h-1zM526 361h1v1h-1zM530 361h1v1h-1zM548 361h1v1h-1zM565 361h2v1h-2zM581 361h1v1h-1zM593 361h1v1h-1zM601 361h1v1h-1zM615 361h1v1h-1zM620 361h1v1h-1zM638 361h1v1h-1zM654 361h1v1h-1zM664 361h1v1h-1zM681 361h1v1h-1zM690 361h1v1h-1zM693 361h1v1h-1zM702 361h1v1h-1zM707 361h1v1h-1zM734 361h1v1h-1zM743 361h1v1h-1zM762 361h1v1h-1zM12 362h1v1h-1zM29 362h1v1h-1zM52 362h1v1h-1zM60 362h1v1h-1zM70 362h1v1h-1zM130 362h1v1h-1zM133 362h1v1h-1zM140 362h1v1h-1zM145 362h1v1h-1zM172 362h1v1h-1zM185 362h1v1h-1zM195 362h1v1h-1zM203 362h1v1h-1zM222 362h1v1h-1zM224 362h1v1h-1zM231 362h1v1h-1zM238 362h1v1h-1zM250 362h1v1h-1zM258 362h1v1h-1zM279 362h1v1h-1zM301 362h1v1h-1zM315 362h2v1h-2zM342 362h1v1h-1zM344 362h1v1h-1zM361 362h1v1h-1zM375 362h1v1h-1zM389 362h1v1h-1zM400 362h1v1h-1zM434 362h1v1h-1zM439 362h1v1h-1zM456 362h1v1h-1zM526 362h1v1h-1zM529 362h1v1h-1zM548 362h1v1h-1zM565 362h1v1h-1zM567 362h1v1h-1zM581 362h1v1h-1zM593 362h1v1h-1zM601 362h1v1h-1zM615 362h1v1h-1zM620 362h1v1h-1zM638 362h1v1h-1zM653 362h1v1h-1zM664 362h1v1h-1zM681 362h1v1h-1zM690 362h1v1h-1zM693 362h1v1h-1zM702 362h1v1h-1zM707 362h1v1h-1zM735 362h1v1h-1zM743 362h1v1h-1zM762 362h1v1h-1zM11 363h1v1h-1zM30 363h1v1h-1zM51 363h1v1h-1zM60 363h1v1h-1zM70 363h1v1h-1zM130 363h1v1h-1zM133 363h1v1h-1zM141 363h1v1h-1zM145 363h1v1h-1zM172 363h1v1h-1zM185 363h1v1h-1zM195 363h1v1h-1zM202 363h1v1h-1zM222 363h1v1h-1zM224 363h1v1h-1zM231 363h1v1h-1zM238 363h1v1h-1zM250 363h1v1h-1zM257 363h1v1h-1zM279 363h1v1h-1zM301 363h1v1h-1zM316 363h1v1h-1zM342 363h1v1h-1zM344 363h1v1h-1zM362 363h1v1h-1zM375 363h1v1h-1zM389 363h1v1h-1zM400 363h1v1h-1zM434 363h1v1h-1zM438 363h1v1h-1zM526 363h1v1h-1zM529 363h1v1h-1zM548 363h1v1h-1zM565 363h1v1h-1zM567 363h1v1h-1zM581 363h1v1h-1zM593 363h1v1h-1zM601 363h1v1h-1zM615 363h1v1h-1zM619 363h1v1h-1zM638 363h1v1h-1zM653 363h1v1h-1zM664 363h1v1h-1zM681 363h1v1h-1zM690 363h1v1h-1zM693 363h1v1h-1zM702 363h1v1h-1zM707 363h1v1h-1zM735 363h1v1h-1zM743 363h1v1h-1zM762 363h1v1h-1zM11 364h1v1h-1zM30 364h1v1h-1zM51 364h1v1h-1zM61 364h1v1h-1zM70 364h1v1h-1zM131 364h1v1h-1zM133 364h1v1h-1zM141 364h1v1h-1zM144 364h1v1h-1zM172 364h1v1h-1zM185 364h1v1h-1zM195 364h1v1h-1zM202 364h1v1h-1zM222 364h1v1h-1zM224 364h1v1h-1zM231 364h1v1h-1zM238 364h1v1h-1zM250 364h1v1h-1zM257 364h1v1h-1zM279 364h1v1h-1zM301 364h1v1h-1zM316 364h1v1h-1zM342 364h1v1h-1zM344 364h1v1h-1zM362 364h1v1h-1zM375 364h1v1h-1zM389 364h1v1h-1zM399 364h1v1h-1zM434 364h1v1h-1zM438 364h1v1h-1zM526 364h1v1h-1zM529 364h1v1h-1zM548 364h1v1h-1zM564 364h1v1h-1zM567 364h1v1h-1zM580 364h1v1h-1zM593 364h1v1h-1zM600 364h1v1h-1zM615 364h1v1h-1zM619 364h1v1h-1zM639 364h1v1h-1zM653 364h1v1h-1zM664 364h1v1h-1zM681 364h1v1h-1zM690 364h1v1h-1zM693 364h1v1h-1zM703 364h1v1h-1zM706 364h1v1h-1zM735 364h1v1h-1zM743 364h1v1h-1zM762 364h1v1h-1zM10 365h1v1h-1zM30 365h1v1h-1zM51 365h1v1h-1zM61 365h1v1h-1zM70 365h1v1h-1zM131 365h1v1h-1zM133 365h1v1h-1zM141 365h1v1h-1zM144 365h1v1h-1zM172 365h1v1h-1zM185 365h1v1h-1zM196 365h1v1h-1zM202 365h1v1h-1zM222 365h1v1h-1zM224 365h1v1h-1zM231 365h1v1h-1zM238 365h1v1h-1zM250 365h1v1h-1zM257 365h1v1h-1zM279 365h1v1h-1zM301 365h1v1h-1zM316 365h1v1h-1zM342 365h1v1h-1zM344 365h1v1h-1zM362 365h1v1h-1zM374 365h1v1h-1zM390 365h1v1h-1zM399 365h1v1h-1zM435 365h1v1h-1zM438 365h1v1h-1zM527 365h1v1h-1zM529 365h1v1h-1zM548 365h1v1h-1zM564 365h1v1h-1zM567 365h1v1h-1zM580 365h1v1h-1zM593 365h1v1h-1zM600 365h1v1h-1zM616 365h1v1h-1zM619 365h1v1h-1zM639 365h1v1h-1zM653 365h1v1h-1zM664 365h1v1h-1zM681 365h1v1h-1zM691 365h2v1h-2zM703 365h1v1h-1zM706 365h1v1h-1zM735 365h1v1h-1zM743 365h1v1h-1zM762 365h1v1h-1zM10 366h1v1h-1zM30 366h1v1h-1zM51 366h1v1h-1zM61 366h1v1h-1zM69 366h1v1h-1zM131 366h2v1h-2zM142 366h2v1h-2zM172 366h1v1h-1zM184 366h1v1h-1zM196 366h1v1h-1zM202 366h1v1h-1zM222 366h1v1h-1zM224 366h1v1h-1zM231 366h1v1h-1zM238 366h1v1h-1zM251 366h1v1h-1zM256 366h1v1h-1zM279 366h1v1h-1zM301 366h1v1h-1zM343 366h1v1h-1zM362 366h1v1h-1zM374 366h1v1h-1zM390 366h1v1h-1zM399 366h1v1h-1zM435 366h1v1h-1zM438 366h1v1h-1zM527 366h1v1h-1zM529 366h1v1h-1zM548 366h1v1h-1zM564 366h1v1h-1zM567 366h1v1h-1zM580 366h1v1h-1zM593 366h1v1h-1zM600 366h1v1h-1zM616 366h1v1h-1zM619 366h1v1h-1zM639 366h1v1h-1zM653 366h1v1h-1zM665 366h1v1h-1zM681 366h1v1h-1zM691 366h2v1h-2zM704 366h2v1h-2zM735 366h1v1h-1zM743 366h1v1h-1zM762 366h1v1h-1zM10 367h1v1h-1zM30 367h1v1h-1zM51 367h1v1h-1zM61 367h1v1h-1zM69 367h1v1h-1zM131 367h1v1h-1zM172 367h1v1h-1zM184 367h1v1h-1zM196 367h1v1h-1zM201 367h1v1h-1zM222 367h1v1h-1zM224 367h1v1h-1zM231 367h1v1h-1zM237 367h1v1h-1zM251 367h1v1h-1zM256 367h1v1h-1zM279 367h1v1h-1zM301 367h1v1h-1zM343 367h1v1h-1zM362 367h1v1h-1zM374 367h1v1h-1zM390 367h1v1h-1zM399 367h1v1h-1zM435 367h1v1h-1zM437 367h1v1h-1zM527 367h1v1h-1zM529 367h1v1h-1zM549 367h1v1h-1zM564 367h1v1h-1zM567 367h1v1h-1zM580 367h1v1h-1zM593 367h1v1h-1zM600 367h1v1h-1zM616 367h1v1h-1zM619 367h1v1h-1zM639 367h1v1h-1zM653 367h1v1h-1zM665 367h1v1h-1zM680 367h1v1h-1zM692 367h1v1h-1zM704 367h1v1h-1zM735 367h1v1h-1zM743 367h1v1h-1zM763 367h1v1h-1zM9 368h1v1h-1zM30 368h1v1h-1zM50 368h1v1h-1zM62 368h1v1h-1zM69 368h1v1h-1zM172 368h1v1h-1zM184 368h1v1h-1zM196 368h1v1h-1zM201 368h1v1h-1zM223 368h2v1h-2zM231 368h1v1h-1zM237 368h1v1h-1zM251 368h1v1h-1zM256 368h1v1h-1zM279 368h1v1h-1zM301 368h1v1h-1zM343 368h1v1h-1zM362 368h1v1h-1zM374 368h1v1h-1zM390 368h1v1h-1zM399 368h1v1h-1zM435 368h1v1h-1zM437 368h1v1h-1zM527 368h1v1h-1zM529 368h1v1h-1zM549 368h1v1h-1zM564 368h1v1h-1zM568 368h1v1h-1zM580 368h1v1h-1zM593 368h1v1h-1zM600 368h1v1h-1zM617 368h1v1h-1zM619 368h1v1h-1zM640 368h1v1h-1zM652 368h1v1h-1zM665 368h1v1h-1zM680 368h1v1h-1zM692 368h1v1h-1zM735 368h1v1h-1zM742 368h1v1h-1zM763 368h1v1h-1zM9 369h1v1h-1zM31 369h1v1h-1zM50 369h1v1h-1zM62 369h1v1h-1zM69 369h1v1h-1zM173 369h1v1h-1zM184 369h1v1h-1zM196 369h1v1h-1zM201 369h1v1h-1zM223 369h1v1h-1zM232 369h1v1h-1zM237 369h1v1h-1zM251 369h1v1h-1zM255 369h1v1h-1zM279 369h1v1h-1zM284 369h1v1h-1zM301 369h1v1h-1zM362 369h1v1h-1zM373 369h1v1h-1zM390 369h1v1h-1zM398 369h1v1h-1zM436 369h2v1h-2zM527 369h1v1h-1zM529 369h1v1h-1zM549 369h1v1h-1zM563 369h1v1h-1zM568 369h1v1h-1zM579 369h1v1h-1zM593 369h1v1h-1zM600 369h1v1h-1zM617 369h1v1h-1zM619 369h1v1h-1zM640 369h1v1h-1zM652 369h1v1h-1zM665 369h1v1h-1zM680 369h1v1h-1zM735 369h1v1h-1zM742 369h1v1h-1zM763 369h1v1h-1zM9 370h1v1h-1zM31 370h1v1h-1zM50 370h1v1h-1zM62 370h1v1h-1zM69 370h1v1h-1zM173 370h1v1h-1zM184 370h1v1h-1zM196 370h1v1h-1zM200 370h1v1h-1zM223 370h1v1h-1zM232 370h1v1h-1zM237 370h1v1h-1zM252 370h1v1h-1zM255 370h1v1h-1zM279 370h1v1h-1zM284 370h1v1h-1zM300 370h1v1h-1zM362 370h1v1h-1zM373 370h1v1h-1zM390 370h1v1h-1zM398 370h1v1h-1zM436 370h1v1h-1zM527 370h2v1h-2zM549 370h1v1h-1zM563 370h1v1h-1zM568 370h1v1h-1zM579 370h1v1h-1zM593 370h1v1h-1zM600 370h1v1h-1zM617 370h2v1h-2zM641 370h1v1h-1zM652 370h1v1h-1zM665 370h1v1h-1zM680 370h1v1h-1zM735 370h1v1h-1zM742 370h1v1h-1zM763 370h1v1h-1zM8 371h1v1h-1zM31 371h1v1h-1zM50 371h1v1h-1zM62 371h1v1h-1zM69 371h1v1h-1zM173 371h1v1h-1zM184 371h1v1h-1zM196 371h1v1h-1zM200 371h1v1h-1zM223 371h1v1h-1zM232 371h1v1h-1zM236 371h1v1h-1zM252 371h1v1h-1zM254 371h1v1h-1zM279 371h1v1h-1zM283 371h1v1h-1zM285 371h1v1h-1zM300 371h1v1h-1zM363 371h1v1h-1zM372 371h1v1h-1zM390 371h1v1h-1zM398 371h1v1h-1zM436 371h1v1h-1zM528 371h1v1h-1zM549 371h1v1h-1zM563 371h1v1h-1zM568 371h1v1h-1zM579 371h1v1h-1zM593 371h1v1h-1zM600 371h1v1h-1zM617 371h2v1h-2zM641 371h1v1h-1zM652 371h1v1h-1zM665 371h1v1h-1zM680 371h1v1h-1zM735 371h1v1h-1zM742 371h1v1h-1zM763 371h1v1h-1zM8 372h1v1h-1zM31 372h1v1h-1zM50 372h1v1h-1zM63 372h1v1h-1zM69 372h1v1h-1zM173 372h1v1h-1zM184 372h1v1h-1zM197 372h1v1h-1zM200 372h1v1h-1zM223 372h1v1h-1zM232 372h1v1h-1zM236 372h1v1h-1zM253 372h2v1h-2zM279 372h1v1h-1zM283 372h1v1h-1zM285 372h1v1h-1zM300 372h1v1h-1zM363 372h1v1h-1zM371 372h1v1h-1zM390 372h1v1h-1zM398 372h1v1h-1zM528 372h1v1h-1zM549 372h1v1h-1zM563 372h1v1h-1zM568 372h1v1h-1zM579 372h1v1h-1zM593 372h1v1h-1zM600 372h1v1h-1zM618 372h1v1h-1zM642 372h1v1h-1zM651 372h1v1h-1zM665 372h1v1h-1zM680 372h1v1h-1zM735 372h1v1h-1zM742 372h1v1h-1zM763 372h1v1h-1zM8 373h1v1h-1zM32 373h1v1h-1zM49 373h1v1h-1zM63 373h1v1h-1zM69 373h1v1h-1zM173 373h1v1h-1zM184 373h1v1h-1zM197 373h1v1h-1zM199 373h1v1h-1zM232 373h1v1h-1zM236 373h1v1h-1zM253 373h1v1h-1zM280 373h1v1h-1zM282 373h1v1h-1zM285 373h1v1h-1zM300 373h1v1h-1zM363 373h1v1h-1zM371 373h1v1h-1zM391 373h1v1h-1zM397 373h1v1h-1zM528 373h1v1h-1zM549 373h1v1h-1zM563 373h1v1h-1zM569 373h1v1h-1zM579 373h1v1h-1zM594 373h1v1h-1zM600 373h1v1h-1zM618 373h1v1h-1zM642 373h1v1h-1zM651 373h1v1h-1zM665 373h1v1h-1zM679 373h1v1h-1zM735 373h1v1h-1zM742 373h1v1h-1zM763 373h1v1h-1zM7 374h1v1h-1zM32 374h1v1h-1zM49 374h1v1h-1zM63 374h1v1h-1zM69 374h1v1h-1zM174 374h1v1h-1zM184 374h1v1h-1zM197 374h1v1h-1zM199 374h1v1h-1zM232 374h1v1h-1zM236 374h1v1h-1zM280 374h1v1h-1zM282 374h1v1h-1zM286 374h1v1h-1zM300 374h1v1h-1zM363 374h1v1h-1zM370 374h1v1h-1zM391 374h1v1h-1zM397 374h1v1h-1zM528 374h1v1h-1zM550 374h1v1h-1zM563 374h1v1h-1zM569 374h1v1h-1zM579 374h1v1h-1zM594 374h1v1h-1zM599 374h1v1h-1zM643 374h1v1h-1zM651 374h1v1h-1zM665 374h1v1h-1zM679 374h1v1h-1zM736 374h1v1h-1zM742 374h1v1h-1zM763 374h1v1h-1zM7 375h1v1h-1zM32 375h1v1h-1zM49 375h1v1h-1zM63 375h1v1h-1zM69 375h1v1h-1zM175 375h1v1h-1zM183 375h1v1h-1zM197 375h1v1h-1zM199 375h1v1h-1zM233 375h1v1h-1zM235 375h1v1h-1zM280 375h2v1h-2zM286 375h1v1h-1zM300 375h1v1h-1zM363 375h1v1h-1zM370 375h1v1h-1zM391 375h1v1h-1zM396 375h1v1h-1zM550 375h1v1h-1zM562 375h1v1h-1zM570 375h1v1h-1zM578 375h1v1h-1zM594 375h1v1h-1zM599 375h1v1h-1zM643 375h1v1h-1zM651 375h1v1h-1zM666 375h1v1h-1zM679 375h1v1h-1zM736 375h1v1h-1zM742 375h1v1h-1zM764 375h1v1h-1zM7 376h1v1h-1zM33 376h1v1h-1zM49 376h1v1h-1zM64 376h1v1h-1zM68 376h1v1h-1zM175 376h1v1h-1zM183 376h1v1h-1zM197 376h1v1h-1zM199 376h1v1h-1zM233 376h1v1h-1zM235 376h1v1h-1zM280 376h2v1h-2zM287 376h1v1h-1zM300 376h1v1h-1zM363 376h1v1h-1zM370 376h1v1h-1zM391 376h1v1h-1zM396 376h1v1h-1zM550 376h1v1h-1zM562 376h1v1h-1zM570 376h1v1h-1zM578 376h1v1h-1zM594 376h1v1h-1zM599 376h1v1h-1zM644 376h1v1h-1zM650 376h1v1h-1zM666 376h1v1h-1zM671 376h1v1h-1zM678 376h1v1h-1zM736 376h1v1h-1zM742 376h1v1h-1zM764 376h1v1h-1zM6 377h1v1h-1zM33 377h1v1h-1zM49 377h1v1h-1zM64 377h1v1h-1zM68 377h1v1h-1zM176 377h1v1h-1zM183 377h1v1h-1zM198 377h1v1h-1zM233 377h1v1h-1zM235 377h1v1h-1zM280 377h2v1h-2zM288 377h1v1h-1zM290 377h2v1h-2zM300 377h1v1h-1zM363 377h1v1h-1zM369 377h1v1h-1zM391 377h1v1h-1zM395 377h1v1h-1zM550 377h1v1h-1zM556 377h2v1h-2zM562 377h1v1h-1zM570 377h1v1h-1zM578 377h1v1h-1zM594 377h1v1h-1zM599 377h1v1h-1zM644 377h1v1h-1zM650 377h1v1h-1zM666 377h1v1h-1zM670 377h2v1h-2zM678 377h1v1h-1zM736 377h1v1h-1zM742 377h1v1h-1zM764 377h1v1h-1zM6 378h1v1h-1zM34 378h1v1h-1zM48 378h1v1h-1zM64 378h1v1h-1zM68 378h1v1h-1zM177 378h1v1h-1zM183 378h1v1h-1zM198 378h1v1h-1zM234 378h1v1h-1zM280 378h1v1h-1zM289 378h1v1h-1zM292 378h2v1h-2zM299 378h1v1h-1zM363 378h1v1h-1zM369 378h1v1h-1zM391 378h1v1h-1zM395 378h1v1h-1zM551 378h1v1h-1zM555 378h1v1h-1zM557 378h1v1h-1zM562 378h1v1h-1zM571 378h1v1h-1zM578 378h1v1h-1zM594 378h1v1h-1zM598 378h1v1h-1zM645 378h1v1h-1zM650 378h1v1h-1zM666 378h1v1h-1zM668 378h2v1h-2zM672 378h1v1h-1zM677 378h1v1h-1zM736 378h1v1h-1zM742 378h1v1h-1zM764 378h1v1h-1zM35 379h1v1h-1zM48 379h1v1h-1zM64 379h1v1h-1zM68 379h1v1h-1zM178 379h1v1h-1zM183 379h1v1h-1zM234 379h1v1h-1zM280 379h1v1h-1zM294 379h1v1h-1zM299 379h1v1h-1zM364 379h1v1h-1zM369 379h1v1h-1zM392 379h1v1h-1zM395 379h1v1h-1zM551 379h1v1h-1zM554 379h1v1h-1zM558 379h1v1h-1zM561 379h1v1h-1zM571 379h2v1h-2zM578 379h1v1h-1zM594 379h1v1h-1zM598 379h1v1h-1zM646 379h1v1h-1zM650 379h1v1h-1zM666 379h2v1h-2zM672 379h1v1h-1zM676 379h1v1h-1zM736 379h1v1h-1zM742 379h1v1h-1zM764 379h2v1h-2zM35 380h1v1h-1zM48 380h1v1h-1zM65 380h1v1h-1zM67 380h1v1h-1zM178 380h1v1h-1zM183 380h1v1h-1zM295 380h2v1h-2zM298 380h1v1h-1zM364 380h1v1h-1zM368 380h1v1h-1zM392 380h1v1h-1zM394 380h1v1h-1zM552 380h2v1h-2zM558 380h1v1h-1zM561 380h1v1h-1zM573 380h2v1h-2zM577 380h1v1h-1zM595 380h1v1h-1zM598 380h1v1h-1zM647 380h1v1h-1zM649 380h1v1h-1zM673 380h1v1h-1zM676 380h1v1h-1zM736 380h1v1h-1zM741 380h1v1h-1zM766 380h3v1h-3zM36 381h1v1h-1zM48 381h1v1h-1zM65 381h1v1h-1zM67 381h1v1h-1zM179 381h1v1h-1zM182 381h1v1h-1zM297 381h1v1h-1zM364 381h1v1h-1zM368 381h1v1h-1zM392 381h1v1h-1zM394 381h1v1h-1zM552 381h1v1h-1zM559 381h1v1h-1zM561 381h1v1h-1zM575 381h1v1h-1zM577 381h1v1h-1zM595 381h1v1h-1zM598 381h1v1h-1zM647 381h1v1h-1zM649 381h1v1h-1zM673 381h1v1h-1zM675 381h1v1h-1zM737 381h1v1h-1zM741 381h1v1h-1zM769 381h2v1h-2zM777 381h1v1h-1zM37 382h1v1h-1zM48 382h1v1h-1zM65 382h1v1h-1zM67 382h1v1h-1zM180 382h1v1h-1zM182 382h1v1h-1zM364 382h1v1h-1zM368 382h1v1h-1zM393 382h1v1h-1zM559 382h1v1h-1zM561 382h1v1h-1zM576 382h1v1h-1zM595 382h1v1h-1zM597 382h1v1h-1zM648 382h1v1h-1zM674 382h2v1h-2zM738 382h1v1h-1zM741 382h1v1h-1zM771 382h1v1h-1zM776 382h1v1h-1zM778 382h1v1h-1zM38 383h1v1h-1zM47 383h1v1h-1zM65 383h1v1h-1zM67 383h1v1h-1zM181 383h2v1h-2zM365 383h1v1h-1zM367 383h1v1h-1zM393 383h1v1h-1zM560 383h1v1h-1zM596 383h2v1h-2zM674 383h1v1h-1zM738 383h1v1h-1zM741 383h1v1h-1zM772 383h2v1h-2zM775 383h1v1h-1zM779 383h1v1h-1zM38 384h1v1h-1zM47 384h1v1h-1zM66 384h1v1h-1zM182 384h1v1h-1zM365 384h1v1h-1zM367 384h1v1h-1zM560 384h1v1h-1zM596 384h1v1h-1zM739 384h1v1h-1zM741 384h1v1h-1zM774 384h1v1h-1zM780 384h1v1h-1zM39 385h1v1h-1zM47 385h1v1h-1zM66 385h1v1h-1zM366 385h1v1h-1zM740 385h2v1h-2zM781 385h1v1h-1zM39 386h1v1h-1zM47 386h1v1h-1zM66 386h1v1h-1zM366 386h1v1h-1zM40 387h1v1h-1zM46 387h1v1h-1zM40 388h1v1h-1zM46 388h1v1h-1zM41 389h1v1h-1zM45 389h1v1h-1zM42 390h1v1h-1zM44 390h1v1h-1zM43 391h1v1h-1z" fill="#22b8b0" shape-rendering="crispEdges"/>
<g shape-rendering="crispEdges" fill="#c0c0c0">
<rect x="6" y="432" width="2" height="4"/>
<rect x="8" y="432" width="2" height="6"/>
<rect x="10" y="432" width="2" height="8"/>
<rect x="12" y="432" width="2" height="9"/>
<rect x="14" y="432" width="2" height="10"/>
<rect x="16" y="432" width="2" height="8"/>
<rect x="18" y="432" width="2" height="3"/>
<rect x="20" y="432" width="2" height="1"/>
<rect x="22" y="431" width="2" height="1"/>
<rect x="24" y="430" width="2" height="2"/>
<rect x="26" y="431" width="2" height="1"/>
<rect x="28" y="432" width="2" height="1"/>
<rect x="30" y="432" width="2" height="1"/>
<rect x="32" y="432" width="2" height="1"/>
<rect x="34" y="432" width="2" height="1"/>
<rect x="36" y="432" width="2" height="2"/>
<rect x="38" y="432" width="2" height="5"/>
<rect x="40" y="432" width="2" height="13"/>
<rect x="42" y="432" width="2" height="20"/>
<rect x="44" y="432" width="2" height="26"/>
<rect x="46" y="432" width="2" height="30"/>
<rect x="48" y="432" width="2" height="32"/>
<rect x="50" y="432" width="2" height="33"/>
<rect x="52" y="432" width="2" height="33"/>
<rect x="54" y="432" width="2" height="33"/>
<rect x="56" y="432" width="2" height="32"/>
<rect x="58" y="432" width="2" height="32"/>
<rect x="60" y="432" width="2" height="32"/>
<rect x="62" y="432" width="2" height="32"/>
<rect x="64" y="432" width="2" height="34"/>
<rect x="66" y="432" width="2" height="34"/>
<rect x="68" y="432" width="2" height="34"/>
<rect x="70" y="432" width="2" height="33"/>
<rect x="72" y="432" width="2" height="30"/>
<rect x="74" y="432" width="2" height="28"/>
<rect x="76" y="432" width="2" height="24"/>
<rect x="78" y="432" width="2" height="21"/>
<rect x="80" y="432" width="2" height="17"/>
<rect x="82" y="432" width="2" height="13"/>
<rect x="84" y="432" width="2" height="10"/>
<rect x="86" y="432" width="2" height="7"/>
<rect x="88" y="432" width="2" height="5"/>
<rect x="90" y="432" width="2" height="4"/>
<rect x="92" y="432" width="2" height="2"/>
<rect x="94" y="432" width="2" height="1"/>
<rect x="96" y="431" width="2" height="1"/>
<rect x="98" y="429" width="2" height="3"/>
<rect x="100" y="428" width="2" height="4"/>
<rect x="102" y="427" width="2" height="5"/>
<rect x="104" y="426" width="2" height="6"/>
<rect x="106" y="425" width="2" height="7"/>
<rect x="108" y="423" width="2" height="9"/>
<rect x="110" y="422" width="2" height="10"/>
<rect x="112" y="419" width="2" height="13"/>
<rect x="114" y="414" width="2" height="18"/>
<rect x="116" y="411" width="2" height="21"/>
<rect x="118" y="411" width="2" height="21"/>
<rect x="120" y="410" width="2" height="22"/>
<rect x="122" y="410" width="2" height="22"/>
<rect x="124" y="410" width="2" height="22"/>
<rect x="126" y="409" width="2" height="23"/>
<rect x="128" y="409" width="2" height="23"/>
<rect x="130" y="409" width="2" height="23"/>
<rect x="132" y="409" width="2" height="23"/>
<rect x="134" y="410" width="2" height="22"/>
<rect x="136" y="411" width="2" height="21"/>
<rect x="138" y="412" width="2" height="20"/>
<rect x="140" y="414" width="2" height="18"/>
<rect x="142" y="416" width="2" height="16"/>
<rect x="144" y="417" width="2" height="15"/>
<rect x="146" y="418" width="2" height="14"/>
<rect x="148" y="419" width="2" height="13"/>
<rect x="150" y="420" width="2" height="12"/>
<rect x="152" y="420" width="2" height="12"/>
<rect x="154" y="420" width="2" height="12"/>
<rect x="156" y="420" width="2" height="12"/>
<rect x="158" y="418" width="2" height="14"/>
<rect x="160" y="416" width="2" height="16"/>
<rect x="162" y="415" width="2" height="17"/>
<rect x="164" y="414" width="2" height="18"/>
<rect x="166" y="414" width="2" height="18"/>
<rect x="168" y="414" width="2" height="18"/>
<rect x="170" y="416" width="2" height="16"/>
<rect x="172" y="419" width="2" height="13"/>
<rect x="174" y="423" width="2" height="9"/>
<rect x="176" y="427" width="2" height="5"/>
<rect x="178" y="431" width="2" height="1"/>
<rect x="180" y="432" width="2" height="2"/>
<rect x="182" y="432" width="2" height="5"/>
<rect x="184" y="432" width="2" height="7"/>
<rect x="186" y="432" width="2" height="7"/>
<rect x="188" y="432" width="2" height="7"/>
<rect x="190" y="432" width="2" height="7"/>
<rect x="192" y="432" width="2" height="9"/>
<rect x="194" y="432" width="2" height="11"/>
<rect x="196" y="432" width="2" height="14"/>
<rect x="198" y="432" width="2" height="17"/>
<rect x="200" y="432" width="2" height="18"/>
<rect x="202" y="432" width="2" height="18"/>
<rect x="204" y="432" width="2" height="19"/>
<rect x="206" y="432" width="2" height="19"/>
<rect x="208" y="432" width="2" height="20"/>
<rect x="210" y="432" width="2" height="19"/>
<rect x="212" y="432" width="2" height="17"/>
<rect x="214" y="432" width="2" height="14"/>
<rect x="216" y="432" width="2" height="13"/>
<rect x="218" y="432" width="2" height="12"/>
<rect x="220" y="432" width="2" height="12"/>
<rect x="222" y="432" width="2" height="11"/>
<rect x="224" y="432" width="2" height="10"/>
<rect x="226" y="432" width="2" height="10"/>
<rect x="228" y="432" width="2" height="10"/>
<rect x="230" y="432" width="2" height="12"/>
<rect x="232" y="432" width="2" height="13"/>
<rect x="234" y="432" width="2" height="14"/>
<rect x="236" y="432" width="2" height="15"/>
<rect x="238" y="432" width="2" height="14"/>
<rect x="240" y="432" width="2" height="13"/>
<rect x="242" y="432" width="2" height="11"/>
<rect x="244" y="432" width="2" height="10"/>
<rect x="246" y="432" width="2" height="9"/>
<rect x="248" y="432" width="2" height="9"/>
<rect x="250" y="432" width="2" height="9"/>
<rect x="252" y="432" width="2" height="9"/>
<rect x="254" y="432" width="2" height="9"/>
<rect x="256" y="432" width="2" height="8"/>
<rect x="258" y="432" width="2" height="8"/>
<rect x="260" y="432" width="2" height="8"/>
<rect x="262" y="432" width="2" height="7"/>
<rect x="264" y="432" width="2" height="7"/>
<rect x="266" y="432" width="2" height="6"/>
<rect x="268" y="432" width="2" height="5"/>
<rect x="270" y="432" width="2" height="4"/>
<rect x="272" y="432" width="2" height="3"/>
<rect x="274" y="432" width="2" height="3"/>
<rect x="276" y="432" width="2" height="3"/>
<rect x="278" y="432" width="2" height="4"/>
<rect x="280" y="432" width="2" height="4"/>
<rect x="282" y="432" width="2" height="6"/>
<rect x="284" y="432" width="2" height="7"/>
<rect x="286" y="432" width="2" height="9"/>
<rect x="288" y="432" width="2" height="12"/>
<rect x="290" y="432" width="2" height="14"/>
<rect x="292" y="432" width="2" height="16"/>
<rect x="294" y="432" width="2" height="18"/>
<rect x="296" y="432" width="2" height="20"/>
<rect x="298" y="432" width="2" height="23"/>
<rect x="300" y="432" width="2" height="24"/>
<rect x="302" y="432" width="2" height="23"/>
<rect x="304" y="432" width="2" height="21"/>
<rect x="306" y="432" width="2" height="19"/>
<rect x="308" y="432" width="2" height="18"/>
<rect x="310" y="432" width="2" height="18"/>
<rect x="312" y="432" width="2" height="19"/>
<rect x="314" y="432" width="2" height="19"/>
<rect x="316" y="432" width="2" height="19"/>
<rect x="318" y="432" width="2" height="18"/>
<rect x="320" y="432" width="2" height="17"/>
<rect x="322" y="432" width="2" height="17"/>
<rect x="324" y="432" width="2" height="17"/>
<rect x="326" y="432" width="2" height="17"/>
<rect x="328" y="432" width="2" height="14"/>
<rect x="330" y="432" width="2" height="8"/>
<rect x="332" y="432" width="2" height="4"/>
<rect x="334" y="432" width="2" height="2"/>
<rect x="336" y="431" width="2" height="1"/>
<rect x="338" y="432" width="2" height="1"/>
<rect x="340" y="432" width="2" height="1"/>
<rect x="342" y="432" width="2" height="1"/>
<rect x="344" y="432" width="2" height="1"/>
<rect x="346" y="431" width="2" height="1"/>
<rect x="348" y="429" width="2" height="3"/>
<rect x="350" y="428" width="2" height="4"/>
<rect x="352" y="427" width="2" height="5"/>
<rect x="354" y="426" width="2" height="6"/>
<rect x="356" y="426" width="2" height="6"/>
<rect x="358" y="425" width="2" height="7"/>
<rect x="360" y="428" width="2" height="4"/>
<rect x="362" y="430" width="2" height="2"/>
<rect x="364" y="432" width="2" height="1"/>
<rect x="366" y="432" width="2" height="3"/>
<rect x="368" y="432" width="2" height="5"/>
<rect x="370" y="432" width="2" height="6"/>
<rect x="372" y="432" width="2" height="7"/>
<rect x="374" y="432" width="2" height="8"/>
<rect x="376" y="432" width="2" height="6"/>
<rect x="378" y="432" width="2" height="4"/>
<rect x="380" y="432" width="2" height="2"/>
<rect x="382" y="432" width="2" height="1"/>
<rect x="384" y="432" width="2" height="1"/>
<rect x="386" y="431" width="2" height="1"/>
<rect x="388" y="432" width="2" height="1"/>
<rect x="390" y="432" width="2" height="1"/>
<rect x="392" y="432" width="2" height="2"/>
<rect x="394" y="432" width="2" height="3"/>
<rect x="396" y="432" width="2" height="5"/>
<rect x="398" y="432" width="2" height="5"/>
<rect x="400" y="432" width="2" height="4"/>
<rect x="402" y="432" width="2" height="4"/>
<rect x="404" y="432" width="2" height="4"/>
<rect x="406" y="432" width="2" height="4"/>
<rect x="408" y="432" width="2" height="5"/>
<rect x="410" y="432" width="2" height="4"/>
<rect x="412" y="432" width="2" height="4"/>
<rect x="414" y="432" width="2" height="5"/>
<rect x="416" y="432" width="2" height="4"/>
<rect x="418" y="432" width="2" height="4"/>
<rect x="420" y="432" width="2" height="3"/>
<rect x="422" y="432" width="2" height="1"/>
<rect x="424" y="430" width="2" height="2"/>
<rect x="426" y="428" width="2" height="4"/>
<rect x="428" y="427" width="2" height="5"/>
<rect x="430" y="426" width="2" height="6"/>
<rect x="432" y="427" width="2" height="5"/>
<rect x="434" y="428" width="2" height="4"/>
<rect x="436" y="428" width="2" height="4"/>
<rect x="438" y="429" width="2" height="3"/>
<rect x="440" y="428" width="2" height="4"/>
<rect x="442" y="428" width="2" height="4"/>
<rect x="444" y="428" width="2" height="4"/>
<rect x="446" y="427" width="2" height="5"/>
<rect x="448" y="427" width="2" height="5"/>
<rect x="450" y="427" width="2" height="5"/>
<rect x="452" y="426" width="2" height="6"/>
<rect x="454" y="426" width="2" height="6"/>
<rect x="456" y="427" width="2" height="5"/>
<rect x="458" y="427" width="2" height="5"/>
<rect x="460" y="427" width="2" height="5"/>
<rect x="462" y="428" width="2" height="4"/>
<rect x="464" y="428" width="2" height="4"/>
<rect x="466" y="426" width="2" height="6"/>
<rect x="468" y="423" width="2" height="9"/>
<rect x="470" y="421" width="2" height="11"/>
<rect x="472" y="419" width="2" height="13"/>
<rect x="474" y="418" width="2" height="14"/>
<rect x="476" y="417" width="2" height="15"/>
<rect x="478" y="417" width="2" height="15"/>
<rect x="480" y="416" width="2" height="16"/>
<rect x="482" y="416" width="2" height="16"/>
<rect x="484" y="416" width="2" height="16"/>
<rect x="486" y="415" width="2" height="17"/>
<rect x="488" y="414" width="2" height="18"/>
<rect x="490" y="413" width="2" height="19"/>
<rect x="492" y="412" width="2" height="20"/>
<rect x="494" y="411" width="2" height="21"/>
<rect x="496" y="409" width="2" height="23"/>
<rect x="498" y="408" width="2" height="24"/>
<rect x="500" y="407" width="2" height="25"/>
<rect x="502" y="407" width="2" height="25"/>
<rect x="504" y="406" width="2" height="26"/>
<rect x="506" y="406" width="2" height="26"/>
<rect x="508" y="405" width="2" height="27"/>
<rect x="510" y="404" width="2" height="28"/>
<rect x="512" y="403" width="2" height="29"/>
<rect x="514" y="402" width="2" height="30"/>
<rect x="516" y="402" width="2" height="30"/>
<rect x="518" y="402" width="2" height="30"/>
<rect x="520" y="403" width="2" height="29"/>
<rect x="522" y="404" width="2" height="28"/>
<rect x="524" y="406" width="2" height="26"/>
<rect x="526" y="407" width="2" height="25"/>
<rect x="528" y="408" width="2" height="24"/>
<rect x="530" y="410" width="2" height="22"/>
<rect x="532" y="411" width="2" height="21"/>
<rect x="534" y="412" width="2" height="20"/>
<rect x="536" y="412" width="2" height="20"/>
<rect x="538" y="413" width="2" height="19"/>
<rect x="540" y="413" width="2" height="19"/>
<rect x="542" y="414" width="2" height="18"/>
<rect x="544" y="415" width="2" height="17"/>
<rect x="546" y="416" width="2" height="16"/>
<rect x="548" y="418" width="2" height="14"/>
<rect x="550" y="419" width="2" height="13"/>
<rect x="552" y="421" width="2" height="11"/>
<rect x="554" y="422" width="2" height="10"/>
<rect x="556" y="424" width="2" height="8"/>
<rect x="558" y="426" width="2" height="6"/>
<rect x="560" y="428" width="2" height="4"/>
<rect x="562" y="429" width="2" height="3"/>
<rect x="564" y="430" width="2" height="2"/>
<rect x="566" y="431" width="2" height="1"/>
<rect x="568" y="432" width="2" height="2"/>
<rect x="570" y="432" width="2" height="5"/>
<rect x="572" y="432" width="2" height="7"/>
<rect x="574" y="432" width="2" height="8"/>
<rect x="576" y="432" width="2" height="10"/>
<rect x="578" y="432" width="2" height="10"/>
<rect x="580" y="432" width="2" height="11"/>
<rect x="582" y="432" width="2" height="11"/>
<rect x="584" y="432" width="2" height="11"/>
<rect x="586" y="432" width="2" height="10"/>
<rect x="588" y="432" width="2" height="10"/>
<rect x="590" y="432" width="2" height="11"/>
<rect x="592" y="432" width="2" height="13"/>
<rect x="594" y="432" width="2" height="14"/>
<rect x="596" y="432" width="2" height="15"/>
<rect x="598" y="432" width="2" height="15"/>
<rect x="600" y="432" width="2" height="12"/>
<rect x="602" y="432" width="2" height="10"/>
<rect x="604" y="432" width="2" height="8"/>
<rect x="606" y="432" width="2" height="6"/>
<rect x="608" y="432" width="2" height="4"/>
<rect x="610" y="432" width="2" height="3"/>
<rect x="612" y="432" width="2" height="3"/>
<rect x="614" y="432" width="2" height="3"/>
<rect x="616" y="432" width="2" height="3"/>
<rect x="618" y="432" width="2" height="3"/>
<rect x="620" y="432" width="2" height="2"/>
<rect x="622" y="432" width="2" height="1"/>
<rect x="624" y="432" width="2" height="1"/>
<rect x="626" y="431" width="2" height="1"/>
<rect x="628" y="429" width="2" height="3"/>
<rect x="630" y="427" width="2" height="5"/>
<rect x="632" y="427" width="2" height="5"/>
<rect x="634" y="427" width="2" height="5"/>
<rect x="636" y="428" width="2" height="4"/>
<rect x="638" y="430" width="2" height="2"/>
<rect x="640" y="432" width="2" height="1"/>
<rect x="642" y="432" width="2" height="1"/>
<rect x="644" y="432" width="2" height="2"/>
<rect x="646" y="432" width="2" height="3"/>
<rect x="648" y="432" width="2" height="5"/>
<rect x="650" y="432" width="2" height="6"/>
<rect x="652" y="432" width="2" height="7"/>
<rect x="654" y="432" width="2" height="7"/>
<rect x="656" y="432" width="2" height="7"/>
<rect x="658" y="432" width="2" height="6"/>
<rect x="660" y="432" width="2" height="6"/>
<rect x="662" y="432" width="2" height="6"/>
<rect x="664" y="432" width="2" height="6"/>
<rect x="666" y="432" width="2" height="6"/>
<rect x="668" y="432" width="2" height="7"/>
<rect x="670" y="432" width="2" height="8"/>
<rect x="672" y="432" width="2" height="9"/>
<rect x="674" y="432" width="2" height="12"/>
<rect x="676" y="432" width="2" height="14"/>
<rect x="678" y="432" width="2" height="15"/>
<rect x="680" y="432" width="2" height="16"/>
<rect x="682" y="432" width="2" height="16"/>
<rect x="684" y="432" width="2" height="16"/>
<rect x="686" y="432" width="2" height="16"/>
<rect x="688" y="432" width="2" height="16"/>
<rect x="690" y="432" width="2" height="15"/>
<rect x="692" y="432" width="2" height="15"/>
<rect x="694" y="432" width="2" height="12"/>
<rect x="696" y="432" width="2" height="10"/>
<rect x="698" y="432" width="2" height="10"/>
<rect x="700" y="432" width="2" height="11"/>
<rect x="702" y="432" width="2" height="11"/>
<rect x="704" y="432" width="2" height="11"/>
<rect x="706" y="432" width="2" height="10"/>
<rect x="708" y="432" width="2" height="10"/>
<rect x="710" y="432" width="2" height="9"/>
<rect x="712" y="432" width="2" height="9"/>
<rect x="714" y="432" width="2" height="8"/>
<rect x="716" y="432" width="2" height="7"/>
<rect x="718" y="432" width="2" height="5"/>
<rect x="720" y="432" width="2" height="4"/>
<rect x="722" y="432" width="2" height="3"/>
<rect x="724" y="432" width="2" height="1"/>
<rect x="726" y="432" width="2" height="1"/>
<rect x="728" y="431" width="2" height="1"/>
<rect x="730" y="430" width="2" height="2"/>
<rect x="732" y="429" width="2" height="3"/>
<rect x="734" y="430" width="2" height="2"/>
<rect x="736" y="432" width="2" height="1"/>
<rect x="738" y="432" width="2" height="2"/>
<rect x="740" y="432" width="2" height="3"/>
<rect x="742" y="432" width="2" height="3"/>
<rect x="744" y="432" width="2" height="3"/>
<rect x="746" y="432" width="2" height="3"/>
<rect x="748" y="432" width="2" height="3"/>
<rect x="750" y="432" width="2" height="3"/>
<rect x="752" y="432" width="2" height="4"/>
<rect x="754" y="432" width="2" height="4"/>
<rect x="756" y="432" width="2" height="4"/>
<rect x="758" y="432" width="2" height="4"/>
<rect x="760" y="432" width="2" height="4"/>
<rect x="762" y="432" width="2" height="4"/>
<rect x="764" y="432" width="2" height="4"/>
<rect x="766" y="432" width="2" height="5"/>
<rect x="768" y="432" width="2" height="7"/>
<rect x="770" y="432" width="2" height="8"/>
<rect x="772" y="432" width="2" height="11"/>
<rect x="774" y="432" width="2" height="14"/>
<rect x="776" y="432" width="2" height="15"/>
<rect x="778" y="432" width="2" height="16"/>
<rect x="780" y="432" width="2" height="19"/>
<rect x="782" y="432" width="2" height="23"/>
</g>
<path d="M521 402h4v1h-4zM515 403h6v1h-6zM525 403h3v1h-3zM513 404h2v1h-2zM528 404h2v1h-2zM511 405h2v1h-2zM530 405h1v1h-1zM131 406h4v1h-4zM509 406h2v1h-2zM531 406h2v1h-2zM129 407h2v1h-2zM135 407h3v1h-3zM507 407h2v1h-2zM533 407h2v1h-2zM127 408h2v1h-2zM138 408h2v1h-2zM505 408h2v1h-2zM535 408h2v1h-2zM126 409h1v1h-1zM140 409h1v1h-1zM503 409h2v1h-2zM537 409h2v1h-2zM125 410h1v1h-1zM141 410h1v1h-1zM501 410h2v1h-2zM539 410h2v1h-2zM124 411h1v1h-1zM142 411h2v1h-2zM499 411h2v1h-2zM541 411h3v1h-3zM124 412h1v1h-1zM144 412h1v1h-1zM496 412h3v1h-3zM544 412h2v1h-2zM123 413h1v1h-1zM145 413h2v1h-2zM494 413h2v1h-2zM546 413h2v1h-2zM122 414h1v1h-1zM147 414h2v1h-2zM491 414h3v1h-3zM548 414h2v1h-2zM121 415h1v1h-1zM149 415h2v1h-2zM489 415h2v1h-2zM550 415h2v1h-2zM120 416h1v1h-1zM151 416h2v1h-2zM487 416h2v1h-2zM552 416h2v1h-2zM120 417h1v1h-1zM153 417h2v1h-2zM169 417h7v1h-7zM485 417h2v1h-2zM554 417h2v1h-2zM119 418h1v1h-1zM155 418h2v1h-2zM165 418h4v1h-4zM176 418h3v1h-3zM483 418h2v1h-2zM556 418h2v1h-2zM6 419h1v1h-1zM118 419h1v1h-1zM157 419h8v1h-8zM179 419h1v1h-1zM481 419h2v1h-2zM558 419h1v1h-1zM6 420h1v1h-1zM117 420h1v1h-1zM180 420h1v1h-1zM479 420h2v1h-2zM559 420h1v1h-1zM7 421h1v1h-1zM116 421h1v1h-1zM180 421h1v1h-1zM477 421h2v1h-2zM560 421h1v1h-1zM7 422h1v1h-1zM115 422h1v1h-1zM181 422h1v1h-1zM475 422h2v1h-2zM561 422h1v1h-1zM8 423h1v1h-1zM114 423h1v1h-1zM182 423h1v1h-1zM474 423h1v1h-1zM562 423h1v1h-1zM8 424h1v1h-1zM112 424h2v1h-2zM183 424h1v1h-1zM472 424h2v1h-2zM563 424h1v1h-1zM8 425h1v1h-1zM111 425h1v1h-1zM183 425h1v1h-1zM470 425h2v1h-2zM564 425h1v1h-1zM9 426h1v1h-1zM109 426h2v1h-2zM184 426h1v1h-1zM468 426h2v1h-2zM565 426h1v1h-1zM9 427h1v1h-1zM107 427h2v1h-2zM184 427h1v1h-1zM443 427h18v1h-18zM465 427h3v1h-3zM566 427h1v1h-1zM10 428h1v1h-1zM106 428h1v1h-1zM185 428h1v1h-1zM359 428h7v1h-7zM435 428h8v1h-8zM461 428h4v1h-4zM567 428h1v1h-1zM11 429h1v1h-1zM105 429h1v1h-1zM186 429h1v1h-1zM356 429h3v1h-3zM366 429h3v1h-3zM431 429h4v1h-4zM568 429h1v1h-1zM635 429h8v1h-8zM11 430h1v1h-1zM104 430h1v1h-1zM187 430h1v1h-1zM354 430h2v1h-2zM369 430h2v1h-2zM429 430h2v1h-2zM569 430h1v1h-1zM631 430h4v1h-4zM643 430h3v1h-3zM12 431h1v1h-1zM103 431h1v1h-1zM187 431h1v1h-1zM351 431h3v1h-3zM371 431h2v1h-2zM427 431h2v1h-2zM570 431h2v1h-2zM628 431h3v1h-3zM646 431h3v1h-3zM733 431h11v1h-11zM13 432h1v1h-1zM34 432h4v1h-4zM102 432h1v1h-1zM188 432h1v1h-1zM348 432h3v1h-3zM373 432h1v1h-1zM425 432h2v1h-2zM572 432h1v1h-1zM624 432h4v1h-4zM649 432h2v1h-2zM731 432h2v1h-2zM744 432h3v1h-3zM14 433h1v1h-1zM30 433h4v1h-4zM38 433h2v1h-2zM101 433h1v1h-1zM189 433h1v1h-1zM346 433h2v1h-2zM374 433h1v1h-1zM392 433h7v1h-7zM423 433h2v1h-2zM573 433h1v1h-1zM621 433h3v1h-3zM651 433h2v1h-2zM730 433h1v1h-1zM747 433h4v1h-4zM15 434h1v1h-1zM27 434h3v1h-3zM40 434h1v1h-1zM101 434h1v1h-1zM190 434h1v1h-1zM345 434h1v1h-1zM375 434h1v1h-1zM389 434h3v1h-3zM399 434h3v1h-3zM421 434h2v1h-2zM574 434h1v1h-1zM619 434h2v1h-2zM653 434h2v1h-2zM729 434h1v1h-1zM751 434h18v1h-18zM16 435h1v1h-1zM25 435h2v1h-2zM41 435h1v1h-1zM100 435h1v1h-1zM191 435h1v1h-1zM276 435h11v1h-11zM343 435h2v1h-2zM376 435h2v1h-2zM385 435h4v1h-4zM402 435h7v1h-7zM419 435h2v1h-2zM574 435h1v1h-1zM617 435h2v1h-2zM655 435h3v1h-3zM728 435h1v1h-1zM769 435h2v1h-2zM17 436h2v1h-2zM23 436h2v1h-2zM41 436h1v1h-1zM99 436h1v1h-1zM192 436h1v1h-1zM274 436h2v1h-2zM287 436h2v1h-2zM342 436h1v1h-1zM378 436h7v1h-7zM409 436h10v1h-10zM575 436h1v1h-1zM615 436h2v1h-2zM658 436h3v1h-3zM726 436h2v1h-2zM771 436h2v1h-2zM19 437h4v1h-4zM42 437h1v1h-1zM98 437h1v1h-1zM193 437h1v1h-1zM272 437h2v1h-2zM289 437h1v1h-1zM340 437h2v1h-2zM576 437h2v1h-2zM614 437h1v1h-1zM661 437h4v1h-4zM724 437h2v1h-2zM773 437h2v1h-2zM43 438h1v1h-1zM98 438h1v1h-1zM194 438h1v1h-1zM269 438h3v1h-3zM290 438h2v1h-2zM339 438h1v1h-1zM578 438h2v1h-2zM612 438h2v1h-2zM665 438h4v1h-4zM722 438h2v1h-2zM775 438h1v1h-1zM44 439h1v1h-1zM97 439h1v1h-1zM195 439h1v1h-1zM258 439h11v1h-11zM292 439h2v1h-2zM338 439h1v1h-1zM580 439h2v1h-2zM610 439h2v1h-2zM669 439h4v1h-4zM720 439h2v1h-2zM776 439h2v1h-2zM44 440h1v1h-1zM97 440h1v1h-1zM196 440h1v1h-1zM254 440h4v1h-4zM294 440h1v1h-1zM337 440h1v1h-1zM582 440h3v1h-3zM608 440h2v1h-2zM673 440h3v1h-3zM717 440h3v1h-3zM778 440h1v1h-1zM45 441h1v1h-1zM96 441h1v1h-1zM197 441h2v1h-2zM250 441h4v1h-4zM295 441h2v1h-2zM336 441h1v1h-1zM585 441h4v1h-4zM606 441h2v1h-2zM676 441h3v1h-3zM714 441h3v1h-3zM779 441h1v1h-1zM45 442h1v1h-1zM95 442h1v1h-1zM199 442h2v1h-2zM229 442h2v1h-2zM246 442h4v1h-4zM297 442h1v1h-1zM335 442h1v1h-1zM589 442h3v1h-3zM604 442h2v1h-2zM679 442h2v1h-2zM706 442h8v1h-8zM780 442h2v1h-2zM46 443h1v1h-1zM95 443h1v1h-1zM201 443h1v1h-1zM227 443h2v1h-2zM231 443h4v1h-4zM243 443h3v1h-3zM298 443h1v1h-1zM334 443h1v1h-1zM592 443h4v1h-4zM602 443h2v1h-2zM681 443h2v1h-2zM702 443h4v1h-4zM782 443h1v1h-1zM46 444h1v1h-1zM94 444h1v1h-1zM202 444h1v1h-1zM225 444h2v1h-2zM235 444h8v1h-8zM299 444h1v1h-1zM332 444h2v1h-2zM596 444h6v1h-6zM683 444h2v1h-2zM700 444h2v1h-2zM47 445h1v1h-1zM93 445h1v1h-1zM203 445h1v1h-1zM223 445h2v1h-2zM299 445h1v1h-1zM331 445h1v1h-1zM685 445h3v1h-3zM698 445h2v1h-2zM47 446h1v1h-1zM93 446h1v1h-1zM204 446h1v1h-1zM220 446h3v1h-3zM300 446h1v1h-1zM330 446h1v1h-1zM688 446h3v1h-3zM695 446h3v1h-3zM48 447h1v1h-1zM92 447h1v1h-1zM205 447h2v1h-2zM217 447h3v1h-3zM301 447h1v1h-1zM329 447h1v1h-1zM691 447h4v1h-4zM48 448h1v1h-1zM91 448h1v1h-1zM207 448h2v1h-2zM215 448h2v1h-2zM302 448h2v1h-2zM328 448h1v1h-1zM49 449h1v1h-1zM90 449h1v1h-1zM209 449h6v1h-6zM304 449h1v1h-1zM325 449h3v1h-3zM50 450h1v1h-1zM90 450h1v1h-1zM305 450h2v1h-2zM321 450h4v1h-4zM50 451h1v1h-1zM89 451h1v1h-1zM307 451h3v1h-3zM317 451h4v1h-4zM51 452h1v1h-1zM88 452h1v1h-1zM310 452h7v1h-7zM52 453h1v1h-1zM87 453h1v1h-1zM52 454h1v1h-1zM86 454h1v1h-1zM53 455h1v1h-1zM86 455h1v1h-1zM53 456h1v1h-1zM85 456h1v1h-1zM54 457h1v1h-1zM84 457h1v1h-1zM55 458h1v1h-1zM82 458h2v1h-2zM56 459h1v1h-1zM81 459h1v1h-1zM57 460h1v1h-1zM79 460h2v1h-2zM58 461h1v1h-1zM78 461h1v1h-1zM59 462h2v1h-2zM75 462h3v1h-3zM61 463h3v1h-3zM71 463h4v1h-4zM64 464h7v1h-7z" fill="#ff0000" shape-rendering="crispEdges"/>
<g font-family="Liberation Sans, Arial, sans-serif" font-size="9.4" fill="#fff">
<rect x="789" y="11.00" width="2" height="1" fill="#fff"/>
<text x="794.0" y="13.8" textLength="33.4" lengthAdjust="spacingAndGlyphs">1805.35</text>
<rect x="789" y="44.00" width="2" height="1" fill="#fff"/>
<text x="794.0" y="46.8" textLength="33.4" lengthAdjust="spacingAndGlyphs">1773.05</text>
<rect x="789" y="77.00" width="2" height="1" fill="#fff"/>
<text x="794.0" y="79.8" textLength="33.4" lengthAdjust="spacingAndGlyphs">1741.70</text>
<rect x="789" y="110.00" width="2" height="1" fill="#fff"/>
<text x="794.0" y="112.8" textLength="33.4" lengthAdjust="spacingAndGlyphs">1709.40</text>
<rect x="789" y="143.00" width="2" height="1" fill="#fff"/>
<text x="794.0" y="145.8" textLength="33.4" lengthAdjust="spacingAndGlyphs">1677.10</text>
<rect x="789" y="176.00" width="2" height="1" fill="#fff"/>
<text x="794.0" y="178.8" textLength="33.4" lengthAdjust="spacingAndGlyphs">1645.75</text>
<rect x="789" y="209.00" width="2" height="1" fill="#fff"/>
<text x="794.0" y="211.8" textLength="33.4" lengthAdjust="spacingAndGlyphs">1613.45</text>
<rect x="789" y="242.00" width="2" height="1" fill="#fff"/>
<text x="794.0" y="244.8" textLength="33.4" lengthAdjust="spacingAndGlyphs">1582.10</text>
<rect x="789" y="275.00" width="2" height="1" fill="#fff"/>
<text x="794.0" y="277.8" textLength="33.4" lengthAdjust="spacingAndGlyphs">1549.80</text>
<rect x="789" y="308.00" width="2" height="1" fill="#fff"/>
<text x="794.0" y="310.8" textLength="33.4" lengthAdjust="spacingAndGlyphs">1518.45</text>
<rect x="790" y="258.5" width="41" height="10.3" fill="#fff"/>
<text x="793.8" y="267.0" textLength="33.8" lengthAdjust="spacingAndGlyphs" fill="#000">1560.16</text>
<rect x="789" y="315.0" width="1.2" height="1" fill="#fff"/>
<text x="791.8" y="323.7" textLength="15.0" lengthAdjust="spacingAndGlyphs">100</text>
<rect x="789" y="330.0" width="1.2" height="1" fill="#fff"/>
<text x="791.0" y="332.7" textLength="10.6" lengthAdjust="spacingAndGlyphs">80</text>
<rect x="789" y="378.0" width="1.2" height="1" fill="#fff"/>
<text x="791.0" y="380.8" textLength="10.6" lengthAdjust="spacingAndGlyphs">20</text>
<rect x="789" y="394.0" width="1.2" height="1" fill="#fff"/>
<text x="792.0" y="391.9">0</text>
<rect x="789" y="399.0" width="1.2" height="1" fill="#fff"/>
<text x="791.8" y="408.2" textLength="27.8" lengthAdjust="spacingAndGlyphs">36.663</text>
<rect x="789" y="432.0" width="1.2" height="1" fill="#fff"/>
<text x="791.8" y="434.8" textLength="18.8" lengthAdjust="spacingAndGlyphs">0.00</text>
<rect x="789" y="469.0" width="1.2" height="1" fill="#fff"/>
<text x="792.1" y="466.5" textLength="31.2" lengthAdjust="spacingAndGlyphs">-40.053</text>
<rect x="5.5" y="470.5" width="1" height="3.2" fill="#fff"/>
<text x="4.9" y="482.8" textLength="54.5" lengthAdjust="spacingAndGlyphs">23 Nov 2011</text>
<rect x="69.5" y="470.5" width="1" height="3.2" fill="#fff"/>
<text x="68.5" y="482.8" textLength="52.7" lengthAdjust="spacingAndGlyphs">31 Dec 2011</text>
<rect x="133.6" y="470.5" width="1" height="3.2" fill="#fff"/>
<text x="132.8" y="482.8" textLength="47.6" lengthAdjust="spacingAndGlyphs">8 Feb 2012</text>
<rect x="197.6" y="470.5" width="1" height="3.2" fill="#fff"/>
<text x="197.7" y="482.8" textLength="51.7" lengthAdjust="spacingAndGlyphs">16 Mar 2012</text>
<rect x="261.7" y="470.5" width="1" height="3.2" fill="#fff"/>
<text x="260.5" y="482.8" textLength="51.8" lengthAdjust="spacingAndGlyphs">24 Apr 2012</text>
<rect x="325.7" y="470.5" width="1" height="3.2" fill="#fff"/>
<text x="324.1" y="482.8" textLength="56.3" lengthAdjust="spacingAndGlyphs">31 May 2012</text>
<rect x="389.7" y="470.5" width="1" height="3.2" fill="#fff"/>
<text x="388.2" y="482.8" textLength="43.8" lengthAdjust="spacingAndGlyphs">7 Jul 2012</text>
<rect x="453.8" y="470.5" width="1" height="3.2" fill="#fff"/>
<text x="453.0" y="482.8" textLength="53.8" lengthAdjust="spacingAndGlyphs">14 Aug 2012</text>
<rect x="517.8" y="470.5" width="1" height="3.2" fill="#fff"/>
<text x="516.6" y="482.8" textLength="53.0" lengthAdjust="spacingAndGlyphs">20 Sep 2012</text>
<rect x="581.9" y="470.5" width="1" height="3.2" fill="#fff"/>
<text x="580.7" y="482.8" textLength="52.0" lengthAdjust="spacingAndGlyphs">27 Oct 2012</text>
<rect x="645.9" y="470.5" width="1" height="3.2" fill="#fff"/>
<text x="644.8" y="482.8" textLength="47.8" lengthAdjust="spacingAndGlyphs">4 Dec 2012</text>
<rect x="709.9" y="470.5" width="1" height="3.2" fill="#fff"/>
<text x="709.1" y="482.8" textLength="50.8" lengthAdjust="spacingAndGlyphs">10 Jan 2013</text>
<rect x="774.0" y="470.5" width="1" height="3.2" fill="#fff"/>
<text x="772.4" y="482.8" textLength="52.8" lengthAdjust="spacingAndGlyphs">16 Feb 2013</text>
<text x="9.8" y="16.8" textLength="51.8" lengthAdjust="spacingAndGlyphs">GOLD,Daily</text>
<text x="67.2" y="16.8" textLength="33.4" lengthAdjust="spacingAndGlyphs">1579.57</text>
<text x="103.2" y="16.8" textLength="33.4" lengthAdjust="spacingAndGlyphs">1585.10</text>
<text x="139.3" y="16.8" textLength="33.4" lengthAdjust="spacingAndGlyphs">1554.96</text>
<text x="175.3" y="16.8" textLength="33.4" lengthAdjust="spacingAndGlyphs">1560.16</text>
<text x="10.0" y="326.7" textLength="50.0" lengthAdjust="spacingAndGlyphs">Stoch(5,3,3)</text>
<text x="62.9" y="326.7" textLength="27.9" lengthAdjust="spacingAndGlyphs">8.7586</text>
<text x="93.7" y="326.7" textLength="33.4" lengthAdjust="spacingAndGlyphs">12.5240</text>
<text x="10.0" y="411.0" textLength="67.0" lengthAdjust="spacingAndGlyphs">MACD(12,26,9)</text>
<text x="78.9" y="411.0" textLength="30.6" lengthAdjust="spacingAndGlyphs">-23.062</text>
<text x="113.1" y="411.0" textLength="31.4" lengthAdjust="spacingAndGlyphs">-12.439</text>
</g>
</svg>
</body></html>
